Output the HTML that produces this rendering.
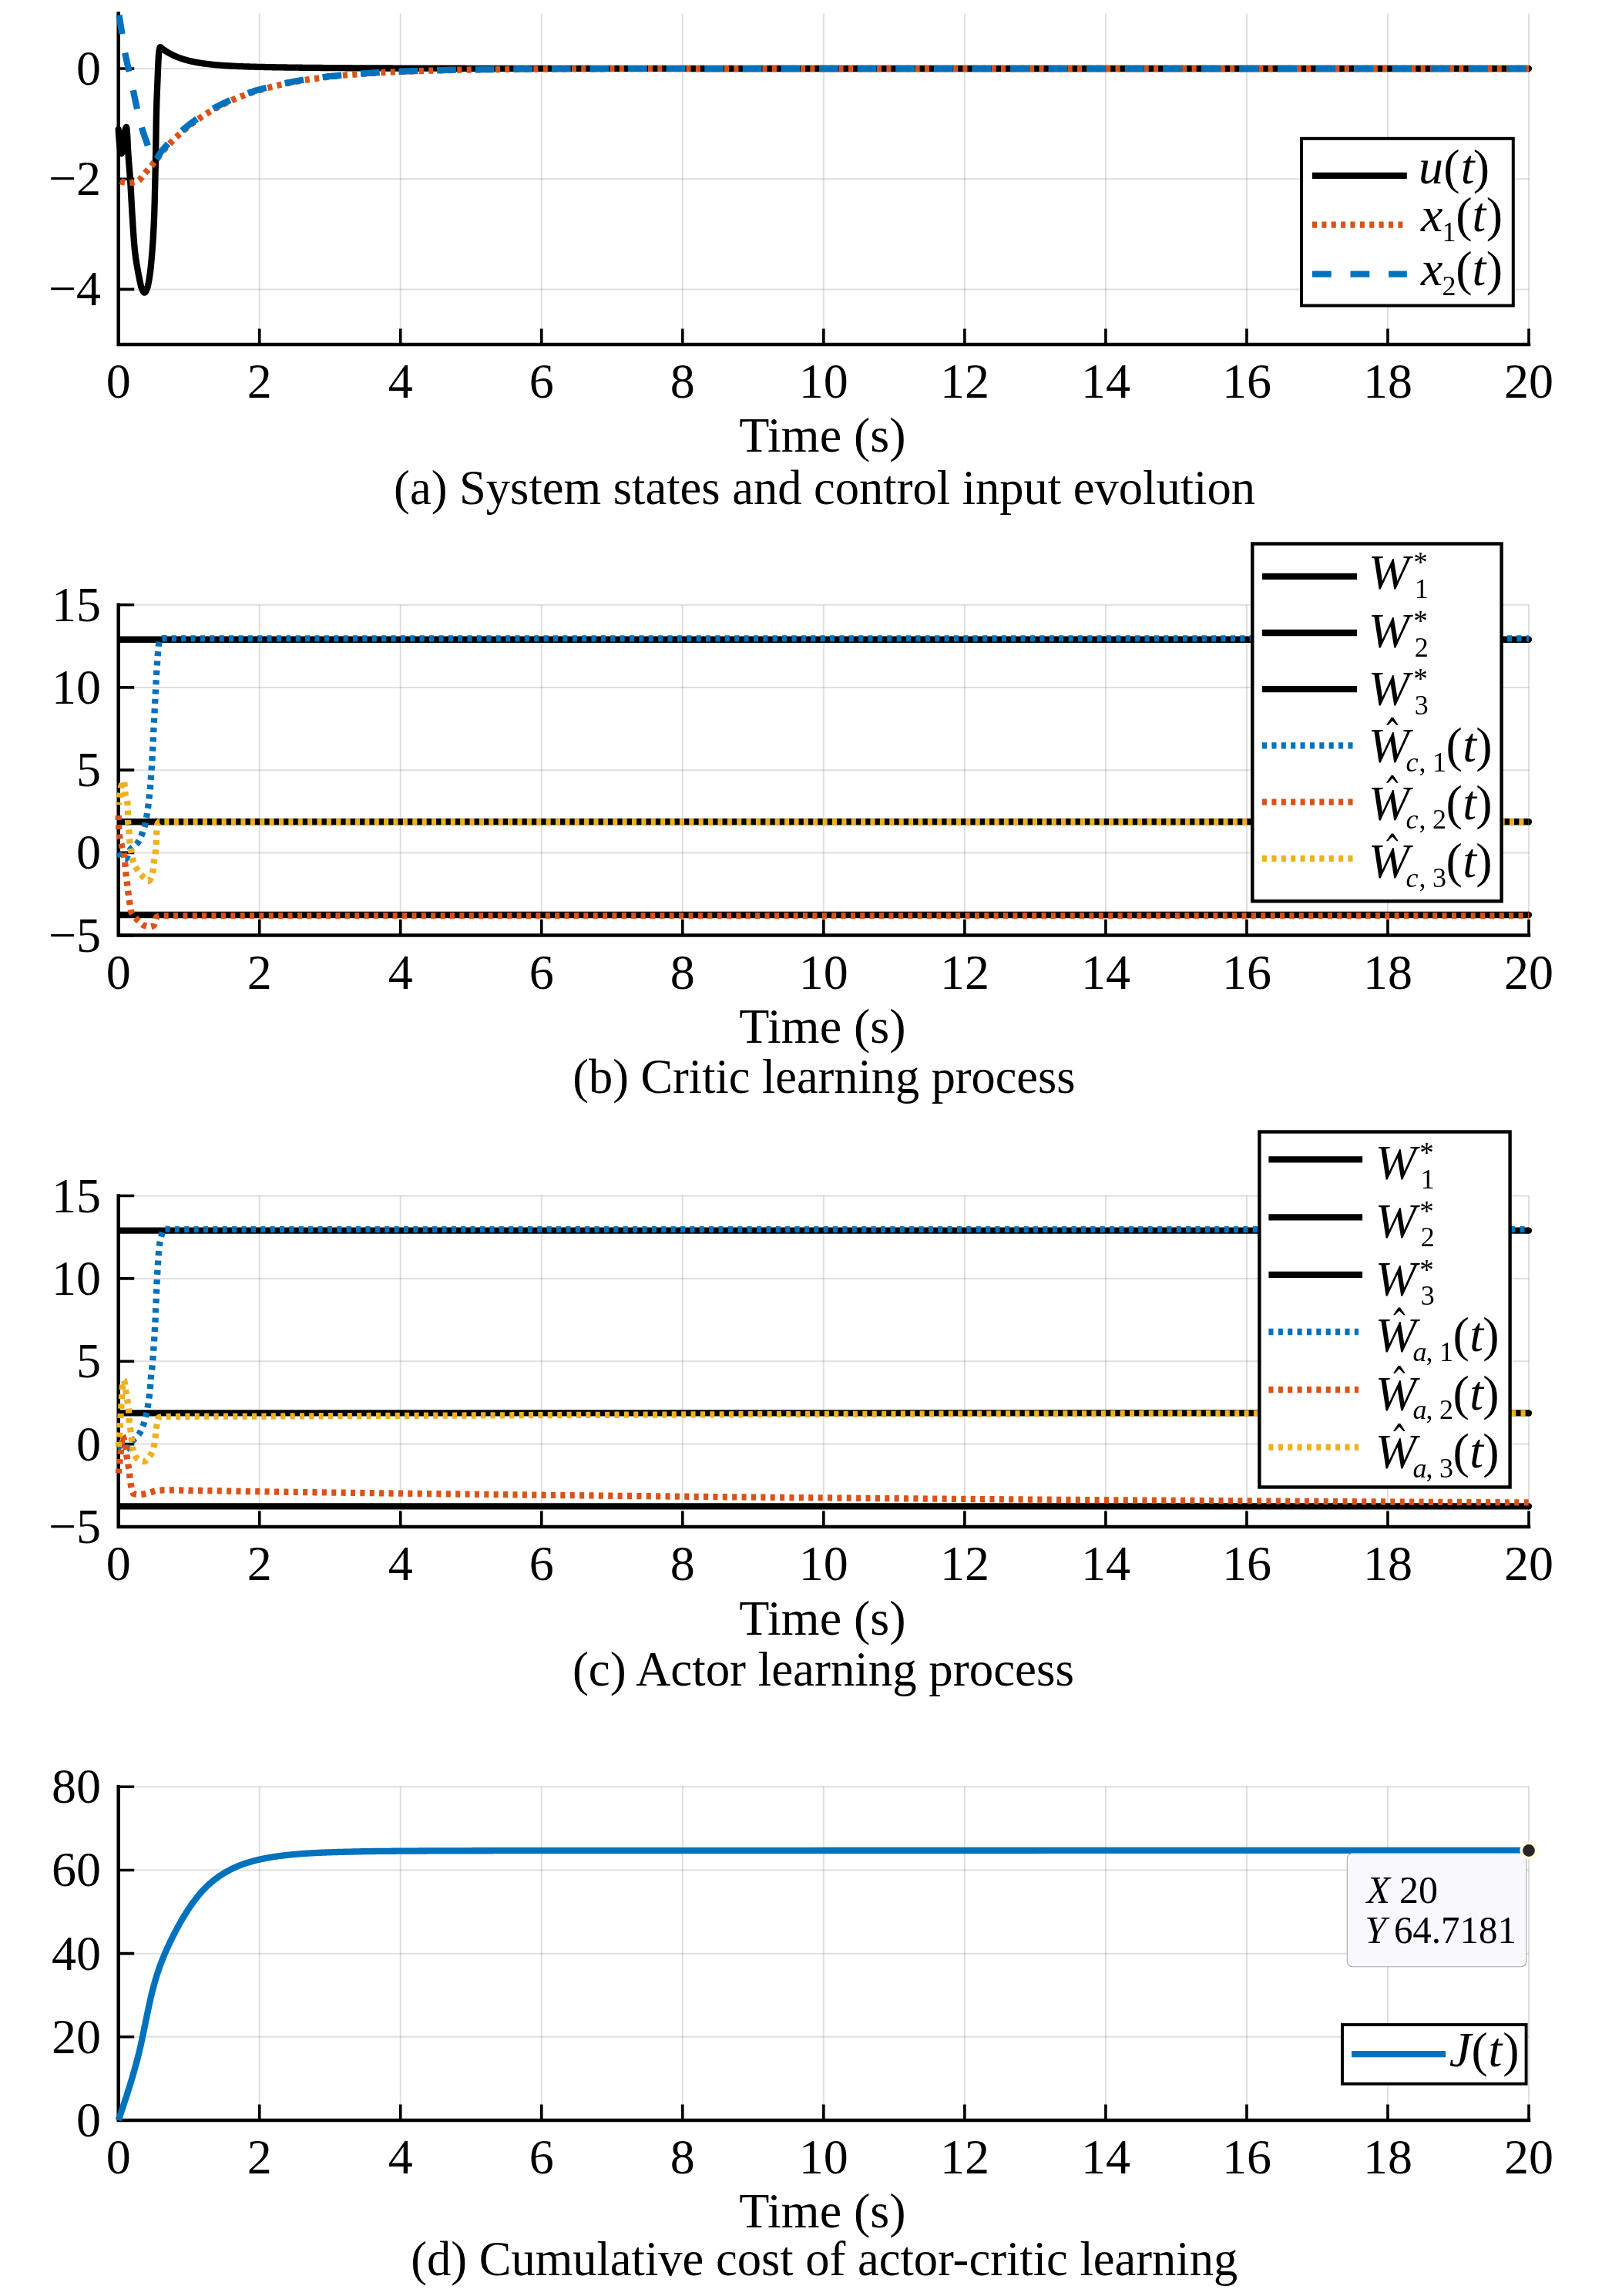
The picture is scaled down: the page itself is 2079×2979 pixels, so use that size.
<!DOCTYPE html>
<html><head><meta charset="utf-8"><style>html,body{margin:0;padding:0;background:#fff;overflow:hidden}svg{display:block;will-change:transform}</style></head>
<body><svg width="2079" height="2979" viewBox="0 0 2079 2979" font-family="'Liberation Serif', serif">
<rect width="2079" height="2979" fill="#fff"/>
<g stroke="#262626" stroke-opacity="0.15" stroke-width="2" fill="none"><line x1="153.7" y1="17.4" x2="153.7" y2="447"/><line x1="336.73" y1="17.4" x2="336.73" y2="447"/><line x1="519.76" y1="17.4" x2="519.76" y2="447"/><line x1="702.79" y1="17.4" x2="702.79" y2="447"/><line x1="885.82" y1="17.4" x2="885.82" y2="447"/><line x1="1068.85" y1="17.4" x2="1068.85" y2="447"/><line x1="1251.88" y1="17.4" x2="1251.88" y2="447"/><line x1="1434.91" y1="17.4" x2="1434.91" y2="447"/><line x1="1617.94" y1="17.4" x2="1617.94" y2="447"/><line x1="1800.97" y1="17.4" x2="1800.97" y2="447"/><line x1="1984" y1="17.4" x2="1984" y2="447"/><line x1="153.7" y1="375.4" x2="1984" y2="375.4"/><line x1="153.7" y1="232.2" x2="1984" y2="232.2"/><line x1="153.7" y1="89" x2="1984" y2="89"/></g>
<g stroke="#262626" stroke-opacity="0.15" stroke-width="2" fill="none"><line x1="153.7" y1="784.7" x2="153.7" y2="1213.6"/><line x1="336.73" y1="784.7" x2="336.73" y2="1213.6"/><line x1="519.76" y1="784.7" x2="519.76" y2="1213.6"/><line x1="702.79" y1="784.7" x2="702.79" y2="1213.6"/><line x1="885.82" y1="784.7" x2="885.82" y2="1213.6"/><line x1="1068.85" y1="784.7" x2="1068.85" y2="1213.6"/><line x1="1251.88" y1="784.7" x2="1251.88" y2="1213.6"/><line x1="1434.91" y1="784.7" x2="1434.91" y2="1213.6"/><line x1="1617.94" y1="784.7" x2="1617.94" y2="1213.6"/><line x1="1800.97" y1="784.7" x2="1800.97" y2="1213.6"/><line x1="1984" y1="784.7" x2="1984" y2="1213.6"/><line x1="153.7" y1="1213.6" x2="1984" y2="1213.6"/><line x1="153.7" y1="1106.38" x2="1984" y2="1106.38"/><line x1="153.7" y1="999.15" x2="1984" y2="999.15"/><line x1="153.7" y1="891.92" x2="1984" y2="891.92"/><line x1="153.7" y1="784.7" x2="1984" y2="784.7"/></g>
<g stroke="#262626" stroke-opacity="0.15" stroke-width="2" fill="none"><line x1="153.7" y1="1551.5" x2="153.7" y2="1981"/><line x1="336.73" y1="1551.5" x2="336.73" y2="1981"/><line x1="519.76" y1="1551.5" x2="519.76" y2="1981"/><line x1="702.79" y1="1551.5" x2="702.79" y2="1981"/><line x1="885.82" y1="1551.5" x2="885.82" y2="1981"/><line x1="1068.85" y1="1551.5" x2="1068.85" y2="1981"/><line x1="1251.88" y1="1551.5" x2="1251.88" y2="1981"/><line x1="1434.91" y1="1551.5" x2="1434.91" y2="1981"/><line x1="1617.94" y1="1551.5" x2="1617.94" y2="1981"/><line x1="1800.97" y1="1551.5" x2="1800.97" y2="1981"/><line x1="1984" y1="1551.5" x2="1984" y2="1981"/><line x1="153.7" y1="1981" x2="1984" y2="1981"/><line x1="153.7" y1="1873.62" x2="1984" y2="1873.62"/><line x1="153.7" y1="1766.25" x2="1984" y2="1766.25"/><line x1="153.7" y1="1658.88" x2="1984" y2="1658.88"/><line x1="153.7" y1="1551.5" x2="1984" y2="1551.5"/></g>
<g stroke="#262626" stroke-opacity="0.15" stroke-width="2" fill="none"><line x1="153.7" y1="2318.3" x2="153.7" y2="2751"/><line x1="336.73" y1="2318.3" x2="336.73" y2="2751"/><line x1="519.76" y1="2318.3" x2="519.76" y2="2751"/><line x1="702.79" y1="2318.3" x2="702.79" y2="2751"/><line x1="885.82" y1="2318.3" x2="885.82" y2="2751"/><line x1="1068.85" y1="2318.3" x2="1068.85" y2="2751"/><line x1="1251.88" y1="2318.3" x2="1251.88" y2="2751"/><line x1="1434.91" y1="2318.3" x2="1434.91" y2="2751"/><line x1="1617.94" y1="2318.3" x2="1617.94" y2="2751"/><line x1="1800.97" y1="2318.3" x2="1800.97" y2="2751"/><line x1="1984" y1="2318.3" x2="1984" y2="2751"/><line x1="153.7" y1="2751" x2="1984" y2="2751"/><line x1="153.7" y1="2642.82" x2="1984" y2="2642.82"/><line x1="153.7" y1="2534.65" x2="1984" y2="2534.65"/><line x1="153.7" y1="2426.48" x2="1984" y2="2426.48"/><line x1="153.7" y1="2318.3" x2="1984" y2="2318.3"/></g>
<path d="M153.7 17.4 L153.7 447 L1984 447" stroke="#000" stroke-width="4.5" fill="none" stroke-linecap="square" stroke-linejoin="miter"/><path d="M336.73 447 V426.5 M519.76 447 V426.5 M702.79 447 V426.5 M885.82 447 V426.5 M1068.85 447 V426.5 M1251.88 447 V426.5 M1434.91 447 V426.5 M1617.94 447 V426.5 M1800.97 447 V426.5 M1984 447 V426.5 M153.7 375.4 H174.2 M153.7 232.2 H174.2 M153.7 89 H174.2" stroke="#000" stroke-width="3.6" fill="none"/><g font-size="64" fill="#000"><text x="153.7" y="516" text-anchor="middle">0</text><text x="336.73" y="516" text-anchor="middle">2</text><text x="519.76" y="516" text-anchor="middle">4</text><text x="702.79" y="516" text-anchor="middle">6</text><text x="885.82" y="516" text-anchor="middle">8</text><text x="1068.85" y="516" text-anchor="middle">10</text><text x="1251.88" y="516" text-anchor="middle">12</text><text x="1434.91" y="516" text-anchor="middle">14</text><text x="1617.94" y="516" text-anchor="middle">16</text><text x="1800.97" y="516" text-anchor="middle">18</text><text x="1984" y="516" text-anchor="middle">20</text><text x="131" y="396.4" text-anchor="end">−4</text><text x="131" y="253.2" text-anchor="end">−2</text><text x="131" y="110" text-anchor="end">0</text><text x="1067.4" y="586.2" text-anchor="middle">Time (s)</text><text x="1070" y="653.5" text-anchor="middle" textLength="1117.8" lengthAdjust="spacingAndGlyphs">(a) System states and control input evolution</text></g>
<clipPath id="clipa"><rect x="0" y="15.5" width="2079" height="600"/></clipPath><g clip-path="url(#clipa)"><path d="M153.7 167.76 L153.88 170.74 L154.07 173.64 L154.25 176.43 L154.43 179.08 L154.62 181.57 L154.8 183.88 L154.98 185.97 L155.17 187.82 L155.35 189.4 L155.53 190.67 L155.53 190.69 L155.72 191.83 L155.9 192.94 L156.08 194.01 L156.27 195.03 L156.45 195.98 L156.63 196.83 L156.82 197.59 L157 198.22 L157.18 198.72 L157.37 199.07 L157.55 199.24 L157.64 199.26 L157.73 199.24 L157.92 199.06 L158.1 198.73 L158.28 198.26 L158.47 197.66 L158.65 196.95 L158.83 196.15 L159.02 195.26 L159.2 194.32 L159.38 193.33 L159.57 192.3 L159.75 191.26 L159.93 190.21 L160.11 189.24 L160.12 189.18 L160.3 187.99 L160.48 186.52 L160.67 184.84 L160.85 183.01 L161.03 181.07 L161.22 179.1 L161.4 177.14 L161.58 175.24 L161.77 173.48 L161.95 171.9 L162.13 170.56 L162.32 169.53 L162.39 169.19 L162.5 168.78 L162.68 168.07 L162.87 167.39 L163.05 166.76 L163.23 166.19 L163.42 165.71 L163.6 165.32 L163.78 165.05 L163.97 164.91 L164.04 164.9 L164.15 165.05 L164.33 165.92 L164.52 167.42 L164.7 169.38 L164.88 171.62 L165.07 173.99 L165.14 174.92 L165.25 176.56 L165.43 180.09 L165.62 184.21 L165.8 188.42 L165.98 192.26 L166.05 193.54 L166.17 195.41 L166.35 198.33 L166.53 201.1 L166.72 203.75 L166.9 206.28 L167.08 208.72 L167.27 211.09 L167.45 213.4 L167.63 215.68 L167.82 217.94 L168 220.2 L168.18 222.48 L168.37 224.8 L168.55 227.18 L168.73 229.63 L168.92 232.17 L169.1 234.83 L169.26 237.21 L169.28 237.62 L169.47 240.56 L169.65 243.66 L169.83 246.88 L170.02 250.19 L170.2 253.57 L170.38 257 L170.57 260.44 L170.75 263.87 L170.93 267.26 L171.12 270.59 L171.3 273.83 L171.48 276.95 L171.67 279.92 L171.73 280.89 L171.85 282.78 L172.03 285.63 L172.22 288.49 L172.4 291.34 L172.58 294.18 L172.77 296.99 L172.95 299.76 L173.13 302.49 L173.32 305.15 L173.5 307.75 L173.68 310.27 L173.87 312.71 L174.05 315.04 L174.23 317.27 L174.42 319.37 L174.6 321.35 L174.78 323.19 L174.93 324.56 L174.97 324.88 L175.15 326.49 L175.33 328.04 L175.52 329.55 L175.7 331.02 L175.88 332.44 L176.07 333.82 L176.25 335.16 L176.43 336.46 L176.62 337.72 L176.8 338.96 L176.98 340.16 L177.17 341.33 L177.35 342.47 L177.53 343.58 L177.72 344.67 L177.9 345.74 L178.08 346.79 L178.27 347.81 L178.45 348.83 L178.63 349.82 L178.82 350.81 L179 351.78 L179.18 352.74 L179.37 353.7 L179.55 354.65 L179.73 355.59 L179.92 356.54 L179.96 356.78 L180.1 357.48 L180.28 358.44 L180.47 359.39 L180.65 360.35 L180.83 361.3 L181.02 362.25 L181.2 363.19 L181.38 364.11 L181.57 365.03 L181.75 365.92 L181.93 366.79 L182.12 367.64 L182.3 368.46 L182.48 369.24 L182.67 370 L182.85 370.72 L183.03 371.4 L183.22 372.03 L183.4 372.62 L183.58 373.16 L183.77 373.65 L183.9 373.97 L183.95 374.08 L184.13 374.5 L184.32 374.92 L184.5 375.34 L184.68 375.75 L184.87 376.16 L185.05 376.55 L185.23 376.93 L185.42 377.3 L185.6 377.64 L185.78 377.97 L185.97 378.28 L186.15 378.57 L186.33 378.82 L186.52 379.05 L186.7 379.25 L186.88 379.41 L187.07 379.54 L187.25 379.63 L187.43 379.69 L187.56 379.7 L187.62 379.69 L187.8 379.66 L187.98 379.57 L188.17 379.45 L188.35 379.28 L188.53 379.08 L188.72 378.84 L188.9 378.56 L189.08 378.26 L189.27 377.93 L189.45 377.57 L189.63 377.19 L189.82 376.78 L190 376.36 L190.18 375.92 L190.37 375.47 L190.55 375.01 L190.73 374.54 L190.92 374.06 L191.1 373.57 L191.22 373.25 L191.28 373.08 L191.47 372.54 L191.65 371.93 L191.83 371.26 L192.02 370.53 L192.2 369.74 L192.38 368.9 L192.57 368 L192.75 367.06 L192.93 366.08 L193.12 365.05 L193.3 363.99 L193.48 362.88 L193.67 361.75 L193.85 360.59 L194.03 359.4 L194.22 358.18 L194.4 356.94 L194.42 356.78 L194.58 355.67 L194.77 354.32 L194.95 352.9 L195.13 351.4 L195.32 349.84 L195.5 348.2 L195.68 346.5 L195.87 344.73 L196.05 342.89 L196.23 340.99 L196.42 339.03 L196.6 337 L196.78 334.91 L196.97 332.77 L197.15 330.56 L197.33 328.3 L197.52 325.98 L197.63 324.56 L197.7 323.61 L197.88 321.17 L198.07 318.65 L198.25 316.03 L198.43 313.3 L198.62 310.45 L198.8 307.45 L198.98 304.3 L199.17 300.97 L199.35 297.46 L199.53 293.75 L199.72 289.82 L199.9 285.65 L200.08 281.24 L200.1 280.89 L200.27 276.26 L200.45 270.38 L200.63 263.8 L200.82 256.68 L201 249.21 L201.18 241.56 L201.29 237.21 L201.37 233.87 L201.55 225.93 L201.73 217.58 L201.92 208.7 L202.1 199.18 L202.2 193.54 L202.28 188.55 L202.47 175.23 L202.65 161.65 L202.83 150.99 L202.84 150.58 L203.02 143.59 L203.2 137.05 L203.38 131.22 L203.57 125.98 L203.75 121.18 L203.93 116.7 L204.12 112.4 L204.3 108.15 L204.4 105.83 L204.48 103.8 L204.67 99.3 L204.85 94.74 L205.03 90.21 L205.22 85.81 L205.4 81.63 L205.58 77.77 L205.77 74.34 L205.95 71.43 L206.13 69.13 L206.32 67.54 L206.32 67.52 L206.5 66.39 L206.68 65.3 L206.87 64.3 L207.05 63.39 L207.23 62.61 L207.42 61.97 L207.6 61.49 L207.78 61.18 L207.97 61.08 L207.97 61.08 L208.15 61.1 L208.33 61.16 L208.52 61.25 L208.7 61.37 L208.88 61.52 L209.07 61.69 L209.25 61.87 L209.43 62.05 L209.62 62.25 L209.8 62.44 L209.98 62.62 L210.17 62.8 L210.35 62.96 L210.44 63.03 L210.53 63.1 L210.72 63.23 L210.9 63.37 L211.08 63.51 L211.27 63.64 L211.45 63.78 L211.63 63.91 L211.82 64.05 L212 64.18 L212.18 64.31 L212.37 64.44 L212.55 64.57 L212.73 64.7 L212.92 64.83 L213.1 64.96 L213.28 65.09 L213.47 65.21 L213.65 65.34 L213.83 65.46 L214.02 65.58 L214.1 65.64 L214.2 65.71 L214.38 65.83 L214.57 65.95 L214.75 66.07 L214.93 66.19 L215.12 66.31 L215.3 66.43 L215.48 66.54 L215.67 66.66 L215.85 66.78 L216.03 66.89 L216.22 67.01 L216.4 67.13 L216.58 67.24 L216.77 67.35 L216.95 67.47 L217.13 67.58 L217.32 67.69 L217.5 67.8 L217.68 67.91 L217.87 68.02 L218.05 68.13 L218.23 68.24 L218.42 68.35 L218.6 68.45 L218.78 68.56 L218.97 68.67 L219.15 68.77 L219.33 68.87 L219.52 68.98 L219.59 69.02 L219.7 69.08 L219.88 69.18 L220.07 69.28 L220.25 69.38 L220.43 69.48 L220.62 69.58 L220.8 69.68 L220.98 69.78 L221.17 69.87 L221.35 69.97 L221.53 70.07 L221.72 70.17 L221.9 70.26 L222.08 70.36 L222.27 70.45 L222.45 70.55 L222.63 70.64 L222.82 70.74 L223 70.83 L223.18 70.92 L223.37 71.01 L223.55 71.1 L223.73 71.2 L223.92 71.29 L224.1 71.38 L224.28 71.47 L224.47 71.55 L224.65 71.64 L224.83 71.73 L225.02 71.82 L225.2 71.9 L225.38 71.99 L225.57 72.07 L225.75 72.16 L225.93 72.24 L226.12 72.33 L226.3 72.41 L226.48 72.49 L226.67 72.57 L226.85 72.65 L226.91 72.68 L227.03 72.73 L227.22 72.81 L227.4 72.89 L227.58 72.97 L227.77 73.05 L227.95 73.13 L228.13 73.2 L228.32 73.28 L228.5 73.36 L228.68 73.44 L228.87 73.51 L229.05 73.59 L229.23 73.66 L229.42 73.74 L229.6 73.81 L229.78 73.89 L229.97 73.96 L230.15 74.04 L230.33 74.11 L230.52 74.18 L230.7 74.25 L230.88 74.33 L231.07 74.4 L231.25 74.47 L231.43 74.54 L231.62 74.61 L231.8 74.68 L231.98 74.75 L232.17 74.82 L232.35 74.89 L232.53 74.96 L232.72 75.03 L232.9 75.09 L233.08 75.16 L233.27 75.23 L233.45 75.29 L233.63 75.36 L233.82 75.43 L234 75.49 L234.18 75.56 L234.37 75.62 L234.55 75.68 L234.73 75.75 L234.92 75.81 L235.1 75.87 L235.28 75.94 L235.47 76 L235.65 76.06 L235.83 76.12 L236.02 76.18 L236.06 76.2 L236.2 76.24 L236.38 76.3 L236.57 76.36 L236.75 76.42 L236.93 76.48 L237.12 76.54 L237.3 76.6 L237.48 76.66 L237.67 76.71 L237.85 76.77 L238.03 76.83 L238.22 76.89 L238.4 76.94 L238.58 77 L238.77 77.06 L238.95 77.11 L239.13 77.17 L239.32 77.22 L239.5 77.28 L239.68 77.33 L239.87 77.39 L240.05 77.44 L240.23 77.5 L240.42 77.55 L240.6 77.6 L240.78 77.66 L240.97 77.71 L241.15 77.76 L241.33 77.81 L241.52 77.86 L241.7 77.92 L241.88 77.97 L242.07 78.02 L242.25 78.07 L242.43 78.12 L242.62 78.17 L242.8 78.22 L242.98 78.27 L243.17 78.31 L243.35 78.36 L243.53 78.41 L243.72 78.46 L243.9 78.5 L244.08 78.55 L244.27 78.6 L244.45 78.64 L244.63 78.69 L244.82 78.73 L245 78.78 L245.18 78.82 L245.21 78.83 L245.37 78.87 L245.55 78.91 L245.73 78.95 L245.92 79 L246.1 79.04 L246.28 79.08 L246.47 79.13 L246.65 79.17 L246.83 79.21 L247.02 79.26 L247.2 79.3 L247.38 79.34 L247.57 79.38 L247.75 79.42 L247.93 79.47 L248.12 79.51 L248.3 79.55 L248.48 79.59 L248.67 79.63 L248.85 79.67 L249.03 79.71 L249.22 79.75 L249.4 79.79 L249.58 79.83 L249.77 79.87 L249.95 79.91 L250.13 79.95 L250.32 79.99 L250.5 80.03 L250.68 80.07 L250.87 80.11 L251.05 80.15 L251.23 80.18 L251.42 80.22 L251.6 80.26 L251.78 80.3 L251.97 80.34 L252.15 80.37 L252.33 80.41 L252.52 80.45 L252.7 80.48 L252.88 80.52 L253.07 80.56 L253.25 80.59 L253.43 80.63 L253.62 80.66 L253.8 80.7 L253.98 80.74 L254.17 80.77 L254.35 80.81 L254.53 80.84 L254.72 80.87 L254.9 80.91 L255.08 80.94 L255.27 80.98 L255.45 81.01 L255.63 81.04 L255.82 81.08 L256 81.11 L256.18 81.14 L256.37 81.18 L256.55 81.21 L256.73 81.24 L256.92 81.27 L257.1 81.31 L257.28 81.34 L257.47 81.37 L257.65 81.4 L257.83 81.43 L258.02 81.46 L258.2 81.49 L258.38 81.52 L258.57 81.55 L258.75 81.58 L258.93 81.61 L258.94 81.61 L259.12 81.64 L259.3 81.67 L259.48 81.7 L259.67 81.73 L259.85 81.76 L260.03 81.79 L260.22 81.82 L260.4 81.85 L260.58 81.87 L260.77 81.9 L260.95 81.93 L261.13 81.96 L261.32 81.99 L261.5 82.02 L261.68 82.04 L261.87 82.07 L262.05 82.1 L262.23 82.13 L262.42 82.15 L262.6 82.18 L262.78 82.21 L262.97 82.23 L263.15 82.26 L263.33 82.29 L263.52 82.31 L265.73 82.62 L267.93 82.91 L270.14 83.18 L272.35 83.43 L272.67 83.46 L274.55 83.66 L276.76 83.88 L278.97 84.09 L281.18 84.29 L283.38 84.47 L285.59 84.65 L287.8 84.82 L290.01 84.97 L290.97 85.03 L292.21 85.11 L294.42 85.25 L296.63 85.38 L298.84 85.5 L301.04 85.62 L303.25 85.73 L305.46 85.83 L307.67 85.94 L309.87 86.03 L312.08 86.12 L313.85 86.19 L314.29 86.21 L316.5 86.29 L318.7 86.37 L320.91 86.44 L323.12 86.51 L325.33 86.58 L327.53 86.65 L329.74 86.71 L331.95 86.77 L334.15 86.82 L336.36 86.87 L336.73 86.88 L338.57 86.92 L340.78 86.97 L342.98 87.02 L345.19 87.06 L347.4 87.11 L349.61 87.15 L351.81 87.19 L354.02 87.23 L356.23 87.27 L358.44 87.31 L360.64 87.35 L362.85 87.38 L365.06 87.42 L367.27 87.45 L369.47 87.48 L371.68 87.52 L373.89 87.55 L376.1 87.58 L378.3 87.6 L380.51 87.63 L382.49 87.66 L382.72 87.66 L384.92 87.69 L387.13 87.71 L389.34 87.74 L391.55 87.76 L393.75 87.79 L395.96 87.81 L398.17 87.83 L400.38 87.85 L402.58 87.87 L404.79 87.89 L407 87.92 L409.21 87.94 L411.41 87.95 L413.62 87.97 L415.83 87.99 L418.04 88.01 L420.24 88.03 L422.45 88.05 L424.66 88.06 L426.87 88.08 L428.24 88.09 L429.07 88.1 L431.28 88.11 L433.49 88.13 L435.69 88.14 L437.9 88.16 L440.11 88.17 L442.32 88.19 L444.52 88.2 L446.73 88.22 L448.94 88.23 L451.15 88.24 L453.35 88.26 L455.56 88.27 L457.77 88.28 L459.98 88.3 L462.18 88.31 L464.39 88.32 L466.6 88.33 L468.81 88.34 L471.01 88.35 L473.22 88.37 L474 88.37 L475.43 88.38 L477.64 88.39 L479.84 88.4 L482.05 88.41 L484.26 88.42 L486.47 88.43 L488.67 88.44 L490.88 88.45 L493.09 88.46 L495.29 88.47 L497.5 88.48 L499.71 88.49 L501.92 88.5 L504.12 88.5 L506.33 88.51 L508.54 88.52 L510.75 88.53 L512.95 88.54 L515.16 88.54 L517.37 88.55 L519.58 88.56 L519.76 88.56 L521.78 88.57 L523.99 88.57 L526.2 88.58 L528.41 88.59 L530.61 88.59 L532.82 88.6 L535.03 88.61 L537.24 88.61 L539.44 88.62 L541.65 88.63 L543.86 88.63 L546.06 88.64 L548.27 88.64 L550.48 88.65 L552.69 88.66 L554.89 88.66 L557.1 88.67 L559.31 88.67 L561.52 88.68 L563.72 88.69 L565.93 88.69 L568.14 88.7 L570.35 88.7 L572.55 88.71 L574.76 88.71 L576.97 88.72 L579.18 88.72 L581.38 88.73 L583.59 88.73 L585.8 88.74 L588.01 88.74 L590.21 88.75 L592.42 88.75 L594.63 88.76 L596.83 88.76 L599.04 88.76 L601.25 88.77 L603.46 88.77 L605.66 88.78 L607.87 88.78 L610.08 88.78 L611.27 88.78 L612.29 88.79 L614.49 88.79 L616.7 88.79 L618.91 88.8 L621.12 88.8 L623.32 88.8 L625.53 88.81 L627.74 88.81 L629.95 88.81 L632.15 88.82 L634.36 88.82 L636.57 88.82 L638.78 88.83 L640.98 88.83 L643.19 88.83 L645.4 88.84 L647.61 88.84 L649.81 88.84 L652.02 88.84 L654.23 88.85 L656.43 88.85 L658.64 88.85 L660.85 88.86 L663.06 88.86 L665.26 88.86 L667.47 88.86 L669.68 88.87 L671.89 88.87 L674.09 88.87 L676.3 88.87 L678.51 88.87 L680.72 88.88 L682.92 88.88 L685.13 88.88 L687.34 88.88 L689.55 88.88 L691.75 88.89 L693.96 88.89 L696.17 88.89 L698.38 88.89 L700.58 88.89 L702.79 88.89 L724.51 88.91 L746.22 88.92 L767.94 88.93 L789.65 88.94 L811.37 88.95 L833.08 88.96 L854.8 88.97 L876.51 88.97 L885.82 88.97 L898.23 88.98 L919.94 88.98 L941.66 88.98 L963.38 88.99 L985.09 88.99 L1006.81 88.99 L1028.52 88.99 L1050.24 88.99 L1068.85 88.99 L1071.95 88.99 L1093.67 88.99 L1115.38 89 L1137.1 89 L1158.81 89 L1180.53 89 L1202.24 89 L1223.96 89 L1245.68 89 L1267.39 89 L1289.11 89 L1310.82 89 L1332.54 89 L1354.25 89 L1375.97 89 L1397.68 89 L1419.4 89 L1434.91 89 L1441.11 89 L1462.83 89 L1484.55 89 L1506.26 89 L1527.98 89 L1549.69 89 L1571.41 89 L1593.12 89 L1614.84 89 L1636.55 89 L1658.27 89 L1679.98 89 L1701.7 89 L1723.41 89 L1745.13 89 L1766.85 89 L1788.56 89 L1810.28 89 L1831.99 89 L1853.71 89 L1875.42 89 L1897.14 89 L1918.85 89 L1940.57 89 L1962.28 89 L1984 89" stroke="#000" stroke-width="8.3" fill="none" stroke-linejoin="round" stroke-linecap="round"/><path d="M153.7 233.63 L153.88 233.73 L154.07 233.83 L154.25 233.93 L154.43 234.02 L154.62 234.12 L154.8 234.21 L154.98 234.3 L155.17 234.4 L155.35 234.49 L155.53 234.58 L155.72 234.67 L155.9 234.75 L156.08 234.84 L156.27 234.93 L156.45 235.01 L156.63 235.09 L156.82 235.17 L157 235.25 L157.18 235.33 L157.37 235.4 L157.55 235.48 L157.73 235.55 L157.92 235.62 L158.1 235.69 L158.28 235.76 L158.47 235.82 L158.65 235.88 L158.83 235.94 L159.02 236 L159.2 236.06 L159.38 236.11 L159.57 236.17 L159.75 236.22 L159.93 236.26 L160.12 236.31 L160.3 236.35 L160.48 236.39 L160.67 236.43 L160.85 236.47 L161.02 236.5 L161.03 236.5 L161.22 236.53 L161.4 236.56 L161.58 236.59 L161.77 236.62 L161.95 236.65 L162.13 236.68 L162.32 236.71 L162.5 236.74 L162.68 236.77 L162.87 236.8 L163.05 236.83 L163.23 236.86 L163.42 236.88 L163.6 236.91 L163.78 236.93 L163.97 236.96 L164.15 236.98 L164.33 237 L164.52 237.03 L164.7 237.05 L164.88 237.07 L165.07 237.09 L165.25 237.1 L165.43 237.12 L165.62 237.14 L165.8 237.15 L165.98 237.16 L166.17 237.17 L166.35 237.18 L166.53 237.19 L166.72 237.2 L166.9 237.21 L167.08 237.21 L167.27 237.21 L167.43 237.21 L167.45 237.21 L167.63 237.21 L167.82 237.21 L168 237.2 L168.18 237.2 L168.37 237.19 L168.55 237.18 L168.73 237.17 L168.92 237.15 L169.1 237.14 L169.28 237.12 L169.47 237.11 L169.65 237.09 L169.83 237.07 L170.02 237.04 L170.2 237.02 L170.38 236.99 L170.57 236.97 L170.75 236.94 L170.93 236.91 L171.12 236.88 L171.3 236.84 L171.48 236.81 L171.67 236.77 L171.85 236.74 L172.03 236.7 L172.22 236.66 L172.4 236.62 L172.58 236.58 L172.77 236.54 L172.95 236.49 L173.13 236.45 L173.32 236.4 L173.5 236.35 L173.68 236.3 L173.87 236.25 L174.05 236.2 L174.23 236.15 L174.42 236.1 L174.6 236.04 L174.78 235.99 L174.97 235.93 L175.15 235.87 L175.33 235.81 L175.52 235.75 L175.7 235.69 L175.88 235.63 L176.07 235.57 L176.25 235.51 L176.43 235.45 L176.62 235.38 L176.8 235.32 L176.98 235.25 L177.17 235.18 L177.35 235.12 L177.53 235.05 L177.72 234.98 L177.9 234.91 L178.08 234.84 L178.27 234.77 L178.45 234.7 L178.63 234.62 L178.82 234.55 L179 234.48 L179.18 234.4 L179.32 234.35 L179.37 234.33 L179.55 234.25 L179.73 234.16 L179.92 234.06 L180.1 233.95 L180.28 233.83 L180.47 233.7 L180.65 233.57 L180.83 233.42 L181.02 233.27 L181.2 233.12 L181.38 232.95 L181.57 232.78 L181.75 232.6 L181.93 232.42 L182.12 232.23 L182.3 232.03 L182.48 231.83 L182.67 231.63 L182.85 231.42 L183.03 231.2 L183.22 230.99 L183.4 230.76 L183.58 230.54 L183.77 230.31 L183.95 230.08 L184.13 229.85 L184.32 229.61 L184.5 229.37 L184.68 229.13 L184.87 228.89 L185.05 228.65 L185.23 228.41 L185.42 228.17 L185.6 227.92 L185.78 227.68 L185.97 227.44 L186.15 227.2 L186.33 226.96 L186.52 226.72 L186.7 226.48 L186.88 226.24 L187.07 226.01 L187.25 225.78 L187.43 225.55 L187.62 225.33 L187.8 225.11 L187.98 224.89 L188.17 224.67 L188.35 224.46 L188.48 224.32 L188.53 224.26 L188.72 224.06 L188.9 223.85 L189.08 223.65 L189.27 223.45 L189.45 223.24 L189.63 223.04 L189.82 222.84 L190 222.64 L190.18 222.44 L190.37 222.23 L190.55 222.03 L190.73 221.83 L190.92 221.63 L191.1 221.43 L191.28 221.23 L191.47 221.02 L191.65 220.82 L191.83 220.62 L192.02 220.42 L192.2 220.21 L192.38 220.01 L192.57 219.81 L192.75 219.6 L192.93 219.4 L193.12 219.19 L193.3 218.99 L193.48 218.78 L193.67 218.57 L193.85 218.37 L194.03 218.16 L194.22 217.95 L194.4 217.74 L194.58 217.53 L194.77 217.32 L194.95 217.11 L195.13 216.89 L195.32 216.68 L195.5 216.46 L195.68 216.25 L195.87 216.03 L196.05 215.81 L196.23 215.59 L196.42 215.37 L196.6 215.15 L196.71 215.02 L196.78 214.93 L196.97 214.7 L197.15 214.48 L197.33 214.25 L197.52 214.02 L197.7 213.79 L197.88 213.56 L198.07 213.32 L198.25 213.09 L198.43 212.85 L198.62 212.61 L198.8 212.37 L198.98 212.13 L199.17 211.89 L199.35 211.65 L199.53 211.41 L199.72 211.17 L199.9 210.92 L200.08 210.68 L200.27 210.44 L200.45 210.19 L200.63 209.95 L200.82 209.7 L201 209.46 L201.18 209.21 L201.37 208.97 L201.55 208.72 L201.73 208.48 L201.92 208.24 L202.1 207.99 L202.2 207.86 L202.28 207.75 L202.47 207.5 L202.65 207.26 L202.83 207.01 L203.02 206.76 L203.2 206.51 L203.38 206.26 L203.57 206.01 L203.75 205.75 L203.93 205.5 L204.12 205.25 L204.3 204.99 L204.48 204.74 L204.67 204.49 L204.85 204.23 L205.03 203.98 L205.22 203.73 L205.4 203.48 L205.58 203.23 L205.77 202.98 L205.95 202.73 L206.13 202.48 L206.32 202.24 L206.5 202 L206.68 201.75 L206.87 201.52 L207.05 201.28 L207.23 201.04 L207.42 200.81 L207.51 200.7 L207.6 200.58 L207.78 200.36 L207.97 200.13 L208.15 199.91 L208.33 199.68 L208.52 199.46 L208.7 199.24 L208.88 199.02 L209.07 198.8 L209.25 198.59 L209.43 198.37 L209.62 198.16 L209.8 197.94 L209.98 197.73 L210.17 197.52 L210.35 197.31 L210.53 197.1 L210.72 196.89 L210.9 196.68 L211.08 196.47 L211.27 196.26 L211.45 196.06 L211.63 195.85 L211.82 195.64 L212 195.44 L212.18 195.23 L212.37 195.03 L212.55 194.82 L212.73 194.62 L212.92 194.41 L213.1 194.21 L213.18 194.11 L213.28 194 L213.47 193.8 L213.65 193.59 L213.83 193.39 L214.02 193.18 L214.2 192.98 L214.38 192.78 L214.57 192.57 L214.75 192.37 L214.93 192.17 L215.12 191.97 L215.3 191.77 L215.48 191.56 L215.67 191.36 L215.85 191.16 L216.03 190.96 L216.22 190.76 L216.4 190.56 L216.58 190.36 L216.77 190.16 L216.95 189.97 L217.13 189.77 L217.32 189.57 L217.5 189.37 L217.68 189.17 L217.87 188.98 L218.05 188.78 L218.23 188.59 L218.42 188.39 L218.6 188.19 L218.78 188 L218.97 187.8 L219.15 187.61 L219.33 187.42 L219.52 187.22 L219.7 187.03 L219.88 186.84 L220.07 186.64 L220.25 186.45 L220.43 186.26 L220.62 186.07 L220.8 185.88 L220.98 185.69 L221.17 185.5 L221.35 185.31 L221.53 185.12 L221.72 184.93 L221.9 184.74 L222.08 184.56 L222.27 184.37 L222.34 184.3 L222.45 184.18 L222.63 184 L222.82 183.81 L223 183.62 L223.18 183.44 L223.37 183.25 L223.55 183.07 L223.73 182.88 L223.92 182.7 L224.1 182.51 L224.28 182.33 L224.47 182.15 L224.65 181.96 L224.83 181.78 L225.02 181.6 L225.2 181.42 L225.38 181.23 L225.57 181.05 L225.75 180.87 L225.93 180.69 L226.12 180.51 L226.3 180.33 L226.48 180.15 L226.67 179.97 L226.85 179.79 L227.03 179.61 L227.22 179.44 L227.4 179.26 L227.58 179.08 L227.77 178.9 L227.95 178.73 L228.13 178.55 L228.32 178.38 L228.5 178.2 L228.68 178.02 L228.87 177.85 L229.05 177.68 L229.23 177.5 L229.42 177.33 L229.6 177.16 L229.78 176.98 L229.97 176.81 L230.15 176.64 L230.33 176.47 L230.52 176.3 L230.7 176.13 L230.88 175.96 L231.07 175.79 L231.25 175.62 L231.43 175.45 L231.49 175.4 L231.62 175.28 L231.8 175.12 L231.98 174.95 L232.17 174.78 L232.35 174.61 L232.53 174.45 L232.72 174.28 L232.9 174.11 L233.08 173.95 L233.27 173.78 L233.45 173.62 L233.63 173.45 L233.82 173.28 L234 173.12 L234.18 172.95 L234.37 172.79 L234.55 172.63 L234.73 172.46 L234.92 172.3 L235.1 172.13 L235.28 171.97 L235.47 171.81 L235.65 171.65 L235.83 171.48 L236.02 171.32 L236.2 171.16 L236.38 171 L236.57 170.84 L236.75 170.67 L236.93 170.51 L237.12 170.35 L237.3 170.19 L237.48 170.03 L237.67 169.87 L237.85 169.71 L238.03 169.55 L238.22 169.4 L238.4 169.24 L238.58 169.08 L238.77 168.92 L238.95 168.76 L239.13 168.61 L239.32 168.45 L239.5 168.29 L239.68 168.14 L239.87 167.98 L240.05 167.83 L240.23 167.67 L240.42 167.52 L240.6 167.36 L240.78 167.21 L240.97 167.05 L241.15 166.9 L241.33 166.75 L241.52 166.59 L241.7 166.44 L241.88 166.29 L242.07 166.14 L242.25 165.99 L242.43 165.83 L242.62 165.68 L242.8 165.53 L242.98 165.38 L243.17 165.23 L243.35 165.09 L243.53 164.94 L243.72 164.79 L243.9 164.64 L244.08 164.49 L244.27 164.35 L244.45 164.2 L244.63 164.05 L244.82 163.91 L245 163.76 L245.18 163.62 L245.21 163.59 L245.37 163.47 L245.55 163.33 L245.73 163.18 L245.92 163.04 L246.1 162.89 L246.28 162.75 L246.47 162.61 L246.65 162.46 L246.83 162.32 L247.02 162.18 L247.2 162.03 L247.38 161.89 L247.57 161.75 L247.75 161.61 L247.93 161.47 L248.12 161.32 L248.3 161.18 L248.48 161.04 L248.67 160.9 L248.85 160.76 L249.03 160.62 L249.22 160.48 L249.4 160.34 L249.58 160.2 L249.77 160.06 L249.95 159.92 L250.13 159.78 L250.32 159.64 L250.5 159.51 L250.68 159.37 L250.87 159.23 L251.05 159.09 L251.23 158.95 L251.42 158.82 L251.6 158.68 L251.78 158.54 L251.97 158.41 L252.15 158.27 L252.33 158.13 L252.52 158 L252.7 157.86 L252.88 157.73 L253.07 157.59 L253.25 157.46 L253.43 157.32 L253.62 157.19 L253.8 157.05 L253.98 156.92 L254.17 156.79 L254.35 156.65 L254.53 156.52 L254.72 156.39 L254.9 156.25 L255.08 156.12 L255.27 155.99 L255.45 155.86 L255.63 155.73 L255.82 155.6 L256 155.46 L256.18 155.33 L256.37 155.2 L256.55 155.07 L256.73 154.94 L256.92 154.81 L257.1 154.68 L257.28 154.55 L257.47 154.42 L257.65 154.3 L257.83 154.17 L258.02 154.04 L258.2 153.91 L258.38 153.78 L258.57 153.66 L258.75 153.53 L258.93 153.4 L259.12 153.27 L259.3 153.15 L259.48 153.02 L259.67 152.9 L259.85 152.77 L260.03 152.64 L260.22 152.52 L260.4 152.39 L260.58 152.27 L260.77 152.15 L260.95 152.02 L261.13 151.9 L261.32 151.77 L261.5 151.65 L261.68 151.53 L261.87 151.41 L262.05 151.28 L262.23 151.16 L262.42 151.04 L262.6 150.92 L262.78 150.8 L262.97 150.68 L263.15 150.56 L263.33 150.43 L263.52 150.31 L265.73 148.88 L267.93 147.48 L270.14 146.11 L272.35 144.76 L274.55 143.45 L276.76 142.18 L278.97 140.94 L281.18 139.74 L281.82 139.4 L283.38 138.58 L285.59 137.44 L287.8 136.31 L290.01 135.21 L292.21 134.13 L294.42 133.07 L296.63 132.03 L298.84 131.02 L301.04 130.03 L303.25 129.07 L305.46 128.13 L307.67 127.21 L309.28 126.56 L309.87 126.32 L312.08 125.46 L314.29 124.6 L316.5 123.77 L318.7 122.95 L320.91 122.15 L323.12 121.37 L325.33 120.61 L327.53 119.87 L329.74 119.14 L331.95 118.44 L334.15 117.76 L336.36 117.1 L336.73 116.99 L338.57 116.46 L340.78 115.83 L342.98 115.21 L345.19 114.6 L347.4 114.01 L349.61 113.42 L351.81 112.85 L354.02 112.29 L356.23 111.74 L358.44 111.2 L360.64 110.68 L362.85 110.17 L365.06 109.67 L367.27 109.18 L369.47 108.71 L371.68 108.25 L373.34 107.92 L373.89 107.81 L376.1 107.37 L378.3 106.94 L380.51 106.52 L382.72 106.11 L384.92 105.71 L387.13 105.32 L389.34 104.93 L391.55 104.56 L393.75 104.19 L395.96 103.83 L398.17 103.48 L400.38 103.14 L402.58 102.81 L404.79 102.49 L407 102.18 L409.21 101.88 L409.94 101.78 L411.41 101.59 L413.62 101.3 L415.83 101.02 L418.04 100.74 L420.24 100.46 L422.45 100.19 L424.66 99.93 L426.87 99.67 L429.07 99.42 L431.28 99.17 L433.49 98.93 L435.69 98.69 L437.9 98.46 L440.11 98.23 L442.32 98.02 L444.52 97.8 L446.73 97.6 L448.94 97.4 L451.15 97.21 L453.35 97.02 L455.56 96.84 L455.7 96.83 L457.77 96.67 L459.98 96.5 L462.18 96.33 L464.39 96.16 L466.6 96 L468.81 95.84 L471.01 95.68 L473.22 95.52 L475.43 95.37 L477.64 95.21 L479.84 95.07 L482.05 94.92 L484.26 94.78 L486.47 94.64 L488.67 94.5 L490.88 94.37 L493.09 94.24 L495.29 94.11 L497.5 93.99 L499.71 93.87 L501.92 93.75 L504.12 93.64 L506.33 93.53 L508.54 93.42 L510.75 93.32 L512.95 93.22 L515.16 93.13 L517.37 93.04 L519.58 92.95 L519.76 92.94 L521.78 92.87 L523.99 92.78 L526.2 92.7 L528.41 92.62 L530.61 92.54 L532.82 92.46 L535.03 92.39 L537.24 92.31 L539.44 92.24 L541.65 92.16 L543.86 92.09 L546.06 92.02 L548.27 91.95 L550.48 91.88 L552.69 91.81 L554.89 91.75 L557.1 91.68 L559.31 91.62 L561.52 91.55 L563.72 91.49 L565.93 91.43 L568.14 91.37 L570.35 91.32 L572.55 91.26 L574.76 91.2 L576.97 91.15 L579.18 91.1 L581.38 91.04 L583.59 90.99 L585.8 90.95 L588.01 90.9 L590.21 90.85 L592.42 90.81 L594.63 90.76 L596.83 90.72 L599.04 90.68 L601.25 90.64 L603.46 90.6 L605.66 90.57 L607.87 90.53 L610.08 90.5 L611.27 90.48 L612.29 90.47 L614.49 90.43 L616.7 90.4 L618.91 90.37 L621.12 90.34 L623.32 90.31 L625.53 90.28 L627.74 90.25 L629.95 90.22 L632.15 90.19 L634.36 90.16 L636.57 90.14 L638.78 90.11 L640.98 90.08 L643.19 90.05 L645.4 90.03 L647.61 90 L649.81 89.98 L652.02 89.95 L654.23 89.93 L656.43 89.91 L658.64 89.88 L660.85 89.86 L663.06 89.84 L665.26 89.82 L667.47 89.8 L669.68 89.78 L671.89 89.76 L674.09 89.74 L676.3 89.72 L678.51 89.7 L680.72 89.69 L682.92 89.67 L685.13 89.66 L687.34 89.64 L689.55 89.63 L691.75 89.61 L693.96 89.6 L696.17 89.59 L698.38 89.58 L700.58 89.57 L702.79 89.56 L724.51 89.46 L746.22 89.38 L767.94 89.31 L789.65 89.24 L811.37 89.19 L833.08 89.14 L854.8 89.11 L876.51 89.09 L885.82 89.08 L898.23 89.07 L919.94 89.06 L941.66 89.05 L963.38 89.04 L985.09 89.03 L1006.81 89.02 L1028.52 89.02 L1050.24 89.01 L1068.85 89.01 L1071.95 89.01 L1093.67 89.01 L1115.38 89.01 L1137.1 89.01 L1158.81 89.01 L1180.53 89.01 L1202.24 89 L1223.96 89 L1245.68 89 L1267.39 89 L1289.11 89 L1310.82 89 L1332.54 89 L1354.25 89 L1375.97 89 L1397.68 89 L1419.4 89 L1434.91 89 L1441.11 89 L1462.83 89 L1484.55 89 L1506.26 89 L1527.98 89 L1549.69 89 L1571.41 89 L1593.12 89 L1614.84 89 L1636.55 89 L1658.27 89 L1679.98 89 L1701.7 89 L1723.41 89 L1745.13 89 L1766.85 89 L1788.56 89 L1810.28 89 L1831.99 89 L1853.71 89 L1875.42 89 L1897.14 89 L1918.85 89 L1940.57 89 L1962.28 89 L1984 89" stroke="#D95319" stroke-width="8.3" fill="none" stroke-linejoin="round" stroke-dasharray="6.1 6.28" stroke-linecap="butt" stroke-dashoffset="9.49"/><path d="M152.78 10.24 L153.7 15.25 L153.88 16.3 L154.07 17.35 L154.25 18.41 L154.43 19.48 L154.62 20.55 L154.8 21.63 L154.98 22.71 L155.17 23.8 L155.35 24.9 L155.53 26 L155.72 27.11 L155.9 28.22 L156.08 29.34 L156.27 30.46 L156.45 31.58 L156.63 32.71 L156.82 33.85 L157 34.98 L157.18 36.12 L157.37 37.27 L157.55 38.41 L157.73 39.56 L157.91 40.67 L157.92 40.71 L158.1 41.88 L158.28 43.07 L158.47 44.28 L158.65 45.51 L158.83 46.75 L159.02 48.01 L159.2 49.27 L159.38 50.53 L159.57 51.8 L159.75 53.07 L159.93 54.33 L160.12 55.59 L160.3 56.83 L160.48 58.06 L160.67 59.27 L160.85 60.46 L161.03 61.63 L161.22 62.78 L161.4 63.89 L161.58 64.97 L161.77 66.01 L161.84 66.45 L161.95 67.02 L162.13 68.01 L162.32 68.98 L162.5 69.92 L162.68 70.86 L162.87 71.77 L163.05 72.67 L163.23 73.56 L163.42 74.44 L163.6 75.3 L163.78 76.15 L163.97 77 L164.15 77.83 L164.33 78.66 L164.52 79.48 L164.7 80.3 L164.88 81.12 L165.07 81.93 L165.25 82.73 L165.43 83.54 L165.62 84.35 L165.8 85.16 L165.98 85.97 L166.17 86.79 L166.35 87.61 L166.53 88.44 L166.72 89.27 L166.9 90.11 L166.97 90.43 L167.08 90.96 L167.27 91.81 L167.45 92.65 L167.63 93.5 L167.82 94.34 L168 95.18 L168.18 96.02 L168.37 96.86 L168.55 97.7 L168.73 98.54 L168.92 99.38 L169.1 100.22 L169.28 101.06 L169.47 101.89 L169.65 102.73 L169.83 103.57 L170.02 104.4 L170.2 105.24 L170.38 106.08 L170.57 106.92 L170.75 107.75 L170.93 108.59 L171.12 109.43 L171.3 110.27 L171.48 111.12 L171.67 111.96 L171.85 112.8 L172.03 113.65 L172.22 114.5 L172.28 114.78 L172.4 115.34 L172.58 116.2 L172.77 117.05 L172.95 117.91 L173.13 118.78 L173.32 119.64 L173.5 120.51 L173.68 121.38 L173.87 122.25 L174.05 123.12 L174.23 124 L174.42 124.87 L174.6 125.74 L174.78 126.61 L174.97 127.48 L175.15 128.35 L175.33 129.21 L175.52 130.08 L175.7 130.94 L175.88 131.8 L176.07 132.65 L176.25 133.5 L176.43 134.34 L176.62 135.18 L176.8 136.02 L176.98 136.85 L177.17 137.67 L177.35 138.49 L177.49 139.12 L177.53 139.29 L177.72 140.1 L177.9 140.91 L178.08 141.72 L178.27 142.53 L178.45 143.34 L178.63 144.15 L178.82 144.96 L179 145.77 L179.18 146.58 L179.37 147.38 L179.55 148.18 L179.73 148.98 L179.92 149.77 L180.1 150.56 L180.28 151.35 L180.47 152.13 L180.65 152.91 L180.83 153.68 L181.02 154.44 L181.2 155.2 L181.38 155.95 L181.57 156.7 L181.75 157.43 L181.93 158.16 L182.12 158.88 L182.3 159.59 L182.48 160.29 L182.67 160.98 L182.85 161.66 L183.03 162.33 L183.22 162.99 L183.35 163.46 L183.4 163.64 L183.58 164.28 L183.77 164.9 L183.95 165.53 L184.13 166.14 L184.32 166.75 L184.5 167.35 L184.68 167.94 L184.87 168.53 L185.05 169.11 L185.23 169.68 L185.42 170.25 L185.6 170.81 L185.78 171.37 L185.97 171.92 L186.15 172.47 L186.33 173.02 L186.52 173.56 L186.7 174.1 L186.88 174.63 L187.07 175.17 L187.25 175.69 L187.43 176.22 L187.62 176.75 L187.8 177.27 L187.98 177.79 L188.17 178.31 L188.35 178.83 L188.53 179.35 L188.72 179.87 L188.9 180.39 L189.08 180.91 L189.27 181.43 L189.45 181.95 L189.63 182.47 L189.82 183 L190 183.52 L190.18 184.05 L190.37 184.58 L190.55 185.11 L190.73 185.65 L190.92 186.19 L191.1 186.73 L191.22 187.09 L191.28 187.28 L191.47 187.84 L191.65 188.4 L191.83 188.97 L192.02 189.55 L192.2 190.13 L192.38 190.71 L192.57 191.3 L192.75 191.89 L192.93 192.48 L193.12 193.06 L193.3 193.65 L193.48 194.23 L193.67 194.8 L193.85 195.37 L194.03 195.93 L194.22 196.48 L194.4 197.02 L194.58 197.55 L194.77 198.07 L194.95 198.58 L195.13 199.07 L195.32 199.54 L195.5 200 L195.68 200.44 L195.8 200.7 L195.87 200.86 L196.05 201.29 L196.23 201.73 L196.42 202.19 L196.6 202.65 L196.78 203.11 L196.97 203.57 L197.15 204.02 L197.33 204.46 L197.52 204.89 L197.7 205.3 L197.88 205.68 L198.07 206.04 L198.25 206.37 L198.43 206.67 L198.62 206.92 L198.8 207.14 L198.98 207.31 L199.17 207.42 L199.35 207.49 L199.46 207.5 L199.53 207.5 L199.72 207.5 L199.9 207.5 L200.08 207.5 L200.27 207.5 L200.45 207.5 L200.63 207.5 L200.82 207.5 L201 207.5 L201.18 207.5 L201.37 207.5 L201.55 207.5 L201.73 207.5 L201.92 207.5 L202.1 207.5 L202.2 207.5 L202.28 207.49 L202.47 207.45 L202.65 207.36 L202.83 207.23 L203.02 207.07 L203.2 206.87 L203.38 206.65 L203.57 206.4 L203.75 206.14 L203.93 205.86 L204.12 205.58 L204.3 205.29 L204.48 204.99 L204.67 204.7 L204.85 204.42 L204.95 204.28 L205.03 204.15 L205.22 203.85 L205.4 203.52 L205.58 203.16 L205.77 202.79 L205.95 202.41 L206.13 202.01 L206.32 201.62 L206.5 201.22 L206.68 200.83 L206.87 200.45 L207.05 200.08 L207.23 199.74 L207.42 199.42 L207.51 199.26 L207.6 199.12 L207.78 198.84 L207.97 198.56 L208.15 198.28 L208.33 198.02 L208.52 197.75 L208.7 197.49 L208.88 197.24 L209.07 196.99 L209.25 196.75 L209.43 196.5 L209.62 196.27 L209.8 196.03 L209.98 195.8 L210.17 195.57 L210.35 195.35 L210.53 195.12 L210.72 194.9 L210.9 194.68 L211.08 194.47 L211.27 194.25 L211.45 194.04 L211.63 193.82 L211.82 193.61 L212 193.4 L212.18 193.19 L212.37 192.98 L212.55 192.77 L212.73 192.56 L212.92 192.34 L213.1 192.13 L213.18 192.03 L213.28 191.92 L213.47 191.71 L213.65 191.5 L213.83 191.29 L214.02 191.08 L214.2 190.87 L214.38 190.66 L214.57 190.46 L214.75 190.25 L214.93 190.05 L215.12 189.84 L215.3 189.64 L215.48 189.44 L215.67 189.24 L215.85 189.04 L216.03 188.84 L216.22 188.65 L216.4 188.45 L216.58 188.25 L216.77 188.06 L216.95 187.86 L217.13 187.67 L217.32 187.48 L217.5 187.28 L217.68 187.09 L217.87 186.9 L218.05 186.71 L218.23 186.52 L218.42 186.33 L218.6 186.14 L218.78 185.95 L218.97 185.76 L219.15 185.58 L219.33 185.39 L219.52 185.2 L219.7 185.02 L219.88 184.83 L220.07 184.64 L220.25 184.46 L220.43 184.27 L220.62 184.09 L220.8 183.9 L220.98 183.72 L221.17 183.53 L221.35 183.35 L221.53 183.16 L221.72 182.98 L221.9 182.79 L222.08 182.61 L222.27 182.42 L222.34 182.36 L222.45 182.24 L222.63 182.06 L222.82 181.87 L223 181.69 L223.18 181.51 L223.37 181.32 L223.55 181.14 L223.73 180.96 L223.92 180.78 L224.1 180.6 L224.28 180.41 L224.47 180.23 L224.65 180.05 L224.83 179.87 L225.02 179.69 L225.2 179.51 L225.38 179.33 L225.57 179.15 L225.75 178.98 L225.93 178.8 L226.12 178.62 L226.3 178.44 L226.48 178.27 L226.67 178.09 L226.85 177.91 L227.03 177.74 L227.22 177.56 L227.4 177.39 L227.58 177.21 L227.77 177.04 L227.95 176.86 L228.13 176.69 L228.32 176.51 L228.5 176.34 L228.68 176.17 L228.87 176 L229.05 175.83 L229.23 175.65 L229.42 175.48 L229.6 175.31 L229.78 175.14 L229.97 174.97 L230.15 174.8 L230.33 174.64 L230.52 174.47 L230.7 174.3 L230.88 174.13 L231.07 173.97 L231.25 173.8 L231.43 173.63 L231.49 173.58 L231.62 173.47 L231.8 173.3 L231.98 173.14 L232.17 172.97 L232.35 172.81 L232.53 172.64 L232.72 172.48 L232.9 172.31 L233.08 172.15 L233.27 171.99 L233.45 171.82 L233.63 171.66 L233.82 171.5 L234 171.33 L234.18 171.17 L234.37 171.01 L234.55 170.85 L234.73 170.69 L234.92 170.52 L235.1 170.36 L235.28 170.2 L235.47 170.04 L235.65 169.88 L235.83 169.72 L236.02 169.56 L236.2 169.4 L236.38 169.24 L236.57 169.08 L236.75 168.92 L236.93 168.77 L237.12 168.61 L237.3 168.45 L237.48 168.29 L237.67 168.13 L237.85 167.98 L238.03 167.82 L238.22 167.66 L238.4 167.51 L238.58 167.35 L238.77 167.2 L238.95 167.04 L239.13 166.89 L239.32 166.73 L239.5 166.58 L239.68 166.42 L239.87 166.27 L240.05 166.12 L240.23 165.96 L240.42 165.81 L240.6 165.66 L240.78 165.51 L240.97 165.36 L241.15 165.2 L241.33 165.05 L241.52 164.9 L241.7 164.75 L241.88 164.6 L242.07 164.45 L242.25 164.3 L242.43 164.16 L242.62 164.01 L242.8 163.86 L242.98 163.71 L243.17 163.56 L243.35 163.42 L243.53 163.27 L243.72 163.12 L243.9 162.98 L244.08 162.83 L244.27 162.69 L244.45 162.54 L244.63 162.4 L244.82 162.26 L245 162.11 L245.18 161.97 L245.21 161.95 L245.37 161.83 L245.55 161.68 L245.73 161.54 L245.92 161.4 L246.1 161.26 L246.28 161.12 L246.47 160.98 L246.65 160.83 L246.83 160.69 L247.02 160.55 L247.2 160.41 L247.38 160.27 L247.57 160.13 L247.75 159.99 L247.93 159.85 L248.12 159.71 L248.3 159.57 L248.48 159.44 L248.67 159.3 L248.85 159.16 L249.03 159.02 L249.22 158.88 L249.4 158.74 L249.58 158.61 L249.77 158.47 L249.95 158.33 L250.13 158.2 L250.32 158.06 L250.5 157.92 L250.68 157.79 L250.87 157.65 L251.05 157.51 L251.23 157.38 L251.42 157.24 L251.6 157.11 L251.78 156.97 L251.97 156.84 L252.15 156.71 L252.33 156.57 L252.52 156.44 L252.7 156.3 L252.88 156.17 L253.07 156.04 L253.25 155.91 L253.43 155.77 L253.62 155.64 L253.8 155.51 L253.98 155.38 L254.17 155.25 L254.35 155.11 L254.53 154.98 L254.72 154.85 L254.9 154.72 L255.08 154.59 L255.27 154.46 L255.45 154.33 L255.63 154.2 L255.82 154.07 L256 153.94 L256.18 153.81 L256.37 153.69 L256.55 153.56 L256.73 153.43 L256.92 153.3 L257.1 153.17 L257.28 153.05 L257.47 152.92 L257.65 152.79 L257.83 152.67 L258.02 152.54 L258.2 152.41 L258.38 152.29 L258.57 152.16 L258.75 152.04 L258.93 151.91 L259.12 151.79 L259.3 151.66 L259.48 151.54 L259.67 151.41 L259.85 151.29 L260.03 151.17 L260.22 151.04 L260.4 150.92 L260.58 150.8 L260.77 150.68 L260.95 150.55 L261.13 150.43 L261.32 150.31 L261.5 150.19 L261.68 150.07 L261.87 149.95 L262.05 149.83 L262.23 149.71 L262.42 149.59 L262.6 149.47 L262.78 149.35 L262.97 149.23 L263.15 149.11 L263.33 148.99 L263.52 148.87 L265.73 147.47 L267.93 146.09 L270.14 144.73 L272.35 143.41 L274.55 142.13 L276.76 140.87 L278.97 139.66 L281.18 138.48 L281.82 138.14 L283.38 137.33 L285.59 136.21 L287.8 135.11 L290.01 134.02 L292.21 132.96 L294.42 131.92 L296.63 130.9 L298.84 129.91 L301.04 128.94 L303.25 127.99 L305.46 127.07 L307.67 126.17 L309.28 125.53 L309.87 125.3 L312.08 124.45 L314.29 123.61 L316.5 122.79 L318.7 121.99 L320.91 121.2 L323.12 120.44 L325.33 119.69 L327.53 118.96 L329.74 118.26 L331.95 117.57 L334.15 116.9 L336.36 116.26 L336.73 116.15 L338.57 115.63 L340.78 115.01 L342.98 114.4 L345.19 113.81 L347.4 113.22 L349.61 112.65 L351.81 112.09 L354.02 111.54 L356.23 111.01 L358.44 110.48 L360.64 109.97 L362.85 109.47 L365.06 108.98 L367.27 108.51 L369.47 108.04 L371.68 107.6 L373.34 107.27 L373.89 107.16 L376.1 106.74 L378.3 106.32 L380.51 105.91 L382.72 105.51 L384.92 105.12 L387.13 104.73 L389.34 104.36 L391.55 103.99 L393.75 103.63 L395.96 103.28 L398.17 102.94 L400.38 102.61 L402.58 102.29 L404.79 101.98 L407 101.67 L409.21 101.38 L409.94 101.29 L411.41 101.1 L413.62 100.82 L415.83 100.54 L418.04 100.27 L420.24 100 L422.45 99.74 L424.66 99.49 L426.87 99.23 L429.07 98.99 L431.28 98.75 L433.49 98.51 L435.69 98.28 L437.9 98.06 L440.11 97.84 L442.32 97.62 L444.52 97.42 L446.73 97.22 L448.94 97.03 L451.15 96.84 L453.35 96.66 L455.56 96.49 L455.7 96.48 L457.77 96.32 L459.98 96.15 L462.18 95.99 L464.39 95.83 L466.6 95.67 L468.81 95.51 L471.01 95.36 L473.22 95.21 L475.43 95.06 L477.64 94.91 L479.84 94.77 L482.05 94.63 L484.26 94.49 L486.47 94.35 L488.67 94.22 L490.88 94.09 L493.09 93.97 L495.29 93.85 L497.5 93.73 L499.71 93.61 L501.92 93.5 L504.12 93.39 L506.33 93.28 L508.54 93.18 L510.75 93.08 L512.95 92.99 L515.16 92.9 L517.37 92.81 L519.58 92.73 L519.76 92.72 L521.78 92.65 L523.99 92.57 L526.2 92.49 L528.41 92.41 L530.61 92.34 L532.82 92.26 L535.03 92.19 L537.24 92.11 L539.44 92.04 L541.65 91.97 L543.86 91.9 L546.06 91.83 L548.27 91.77 L550.48 91.7 L552.69 91.64 L554.89 91.57 L557.1 91.51 L559.31 91.45 L561.52 91.39 L563.72 91.33 L565.93 91.27 L568.14 91.22 L570.35 91.16 L572.55 91.11 L574.76 91.05 L576.97 91 L579.18 90.95 L581.38 90.9 L583.59 90.85 L585.8 90.81 L588.01 90.76 L590.21 90.72 L592.42 90.68 L594.63 90.63 L596.83 90.59 L599.04 90.56 L601.25 90.52 L603.46 90.48 L605.66 90.45 L607.87 90.41 L610.08 90.38 L611.27 90.37 L612.29 90.35 L614.49 90.32 L616.7 90.29 L618.91 90.26 L621.12 90.23 L623.32 90.2 L625.53 90.18 L627.74 90.15 L629.95 90.12 L632.15 90.09 L634.36 90.07 L636.57 90.04 L638.78 90.01 L640.98 89.99 L643.19 89.96 L645.4 89.94 L647.61 89.92 L649.81 89.89 L652.02 89.87 L654.23 89.85 L656.43 89.82 L658.64 89.8 L660.85 89.78 L663.06 89.76 L665.26 89.74 L667.47 89.72 L669.68 89.7 L671.89 89.69 L674.09 89.67 L676.3 89.65 L678.51 89.64 L680.72 89.62 L682.92 89.6 L685.13 89.59 L687.34 89.58 L689.55 89.56 L691.75 89.55 L693.96 89.54 L696.17 89.53 L698.38 89.52 L700.58 89.51 L702.79 89.5 L724.51 89.41 L746.22 89.34 L767.94 89.27 L789.65 89.21 L811.37 89.16 L833.08 89.12 L854.8 89.09 L876.51 89.07 L885.82 89.06 L898.23 89.06 L919.94 89.05 L941.66 89.04 L963.38 89.03 L985.09 89.02 L1006.81 89.02 L1028.52 89.01 L1050.24 89.01 L1068.85 89.01 L1071.95 89.01 L1093.67 89.01 L1115.38 89.01 L1137.1 89 L1158.81 89 L1180.53 89 L1202.24 89 L1223.96 89 L1245.68 89 L1267.39 89 L1289.11 89 L1310.82 89 L1332.54 89 L1354.25 89 L1375.97 89 L1397.68 89 L1419.4 89 L1434.91 89 L1441.11 89 L1462.83 89 L1484.55 89 L1506.26 89 L1527.98 89 L1549.69 89 L1571.41 89 L1593.12 89 L1614.84 89 L1636.55 89 L1658.27 89 L1679.98 89 L1701.7 89 L1723.41 89 L1745.13 89 L1766.85 89 L1788.56 89 L1810.28 89 L1831.99 89 L1853.71 89 L1875.42 89 L1897.14 89 L1918.85 89 L1940.57 89 L1962.28 89 L1984 89" stroke="#0072BD" stroke-width="8.3" fill="none" stroke-linejoin="round" stroke-dasharray="24.8 24.8" stroke-linecap="butt" stroke-dashoffset="40.07"/></g>
<path d="M153.7 784.7 L153.7 1213.6 L1984 1213.6" stroke="#000" stroke-width="4.5" fill="none" stroke-linecap="square" stroke-linejoin="miter"/><path d="M336.73 1213.6 V1193.1 M519.76 1213.6 V1193.1 M702.79 1213.6 V1193.1 M885.82 1213.6 V1193.1 M1068.85 1213.6 V1193.1 M1251.88 1213.6 V1193.1 M1434.91 1213.6 V1193.1 M1617.94 1213.6 V1193.1 M1800.97 1213.6 V1193.1 M1984 1213.6 V1193.1 M153.7 1213.6 H174.2 M153.7 1106.38 H174.2 M153.7 999.15 H174.2 M153.7 891.92 H174.2 M153.7 784.7 H174.2" stroke="#000" stroke-width="3.6" fill="none"/><g font-size="64" fill="#000"><text x="153.7" y="1282.6" text-anchor="middle">0</text><text x="336.73" y="1282.6" text-anchor="middle">2</text><text x="519.76" y="1282.6" text-anchor="middle">4</text><text x="702.79" y="1282.6" text-anchor="middle">6</text><text x="885.82" y="1282.6" text-anchor="middle">8</text><text x="1068.85" y="1282.6" text-anchor="middle">10</text><text x="1251.88" y="1282.6" text-anchor="middle">12</text><text x="1434.91" y="1282.6" text-anchor="middle">14</text><text x="1617.94" y="1282.6" text-anchor="middle">16</text><text x="1800.97" y="1282.6" text-anchor="middle">18</text><text x="1984" y="1282.6" text-anchor="middle">20</text><text x="131" y="1234.6" text-anchor="end">−5</text><text x="131" y="1127.38" text-anchor="end">0</text><text x="131" y="1020.15" text-anchor="end">5</text><text x="131" y="912.92" text-anchor="end">10</text><text x="131" y="805.7" text-anchor="end">15</text><text x="1067.4" y="1353" text-anchor="middle">Time (s)</text><text x="1069.4" y="1418" text-anchor="middle" textLength="652.1" lengthAdjust="spacingAndGlyphs">(b) Critic learning process</text></g>
<path d="M153.7 829.73 L1984 829.73" stroke="#000" stroke-width="8.3" fill="none" stroke-linejoin="round" stroke-linecap="butt"/><circle cx="1984" cy="829.73" r="4.15" fill="#000"/><path d="M153.7 1066.27 L1984 1066.27" stroke="#000" stroke-width="8.3" fill="none" stroke-linejoin="round" stroke-linecap="butt"/><circle cx="1984" cy="1066.27" r="4.15" fill="#000"/><path d="M153.7 1187.01 L1984 1187.01" stroke="#000" stroke-width="8.3" fill="none" stroke-linejoin="round" stroke-linecap="butt"/><circle cx="1984" cy="1187.01" r="4.15" fill="#000"/><path d="M153.7 1106.38 L153.88 1106.64 L154.07 1106.9 L154.25 1107.16 L154.43 1107.42 L154.62 1107.67 L154.8 1107.92 L154.98 1108.16 L155.17 1108.4 L155.35 1108.64 L155.53 1108.87 L155.72 1109.1 L155.9 1109.32 L156.08 1109.54 L156.27 1109.76 L156.45 1109.96 L156.63 1110.17 L156.82 1110.37 L157 1110.56 L157.18 1110.75 L157.37 1110.93 L157.55 1111.1 L157.73 1111.27 L157.92 1111.44 L158.1 1111.59 L158.28 1111.74 L158.28 1111.74 L158.47 1111.89 L158.65 1112.04 L158.83 1112.2 L159.02 1112.35 L159.2 1112.5 L159.38 1112.66 L159.57 1112.81 L159.75 1112.96 L159.93 1113.11 L160.12 1113.25 L160.3 1113.39 L160.48 1113.53 L160.67 1113.66 L160.85 1113.79 L161.03 1113.9 L161.22 1114.01 L161.4 1114.11 L161.58 1114.2 L161.77 1114.29 L161.95 1114.36 L162.13 1114.42 L162.32 1114.46 L162.5 1114.5 L162.68 1114.52 L162.85 1114.52 L162.87 1114.52 L163.05 1114.5 L163.23 1114.42 L163.42 1114.31 L163.6 1114.15 L163.78 1113.96 L163.97 1113.73 L164.15 1113.46 L164.33 1113.17 L164.52 1112.85 L164.7 1112.5 L164.88 1112.12 L165.07 1111.73 L165.25 1111.31 L165.43 1110.88 L165.62 1110.43 L165.8 1109.97 L165.98 1109.51 L166.17 1109.03 L166.35 1108.55 L166.53 1108.06 L166.72 1107.58 L166.9 1107.09 L167.08 1106.62 L167.27 1106.14 L167.45 1105.68 L167.63 1105.23 L167.82 1104.79 L168 1104.37 L168.18 1103.96 L168.37 1103.58 L168.55 1103.22 L168.73 1102.88 L168.92 1102.58 L169.1 1102.3 L169.26 1102.09 L169.28 1102.05 L169.47 1101.83 L169.65 1101.61 L169.83 1101.39 L170.02 1101.19 L170.2 1100.99 L170.38 1100.79 L170.57 1100.61 L170.75 1100.42 L170.93 1100.25 L171.12 1100.08 L171.3 1099.91 L171.48 1099.75 L171.67 1099.59 L171.85 1099.43 L172.03 1099.28 L172.22 1099.13 L172.4 1098.99 L172.58 1098.84 L172.77 1098.7 L172.95 1098.56 L173.13 1098.43 L173.32 1098.29 L173.5 1098.15 L173.68 1098.02 L173.87 1097.89 L174.05 1097.75 L174.23 1097.62 L174.42 1097.48 L174.6 1097.34 L174.78 1097.2 L174.97 1097.06 L175.15 1096.92 L175.33 1096.78 L175.52 1096.63 L175.7 1096.48 L175.88 1096.33 L176.07 1096.17 L176.25 1096.01 L176.43 1095.85 L176.62 1095.68 L176.8 1095.5 L176.98 1095.32 L177.17 1095.14 L177.35 1094.95 L177.53 1094.75 L177.72 1094.55 L177.9 1094.34 L178.08 1094.13 L178.27 1093.9 L178.41 1093.72 L178.45 1093.67 L178.63 1093.43 L178.82 1093.18 L179 1092.92 L179.18 1092.65 L179.37 1092.37 L179.55 1092.08 L179.73 1091.79 L179.92 1091.48 L180.1 1091.17 L180.28 1090.85 L180.47 1090.52 L180.65 1090.18 L180.83 1089.84 L181.02 1089.49 L181.2 1089.13 L181.38 1088.76 L181.57 1088.39 L181.75 1088.02 L181.93 1087.63 L182.12 1087.25 L182.3 1086.85 L182.48 1086.45 L182.67 1086.05 L182.85 1085.64 L183.03 1085.23 L183.22 1084.81 L183.4 1084.38 L183.58 1083.96 L183.77 1083.53 L183.9 1083.21 L183.95 1083.09 L184.13 1082.65 L184.32 1082.21 L184.5 1081.75 L184.68 1081.29 L184.87 1080.81 L185.05 1080.33 L185.23 1079.83 L185.42 1079.33 L185.6 1078.81 L185.78 1078.29 L185.97 1077.75 L186.15 1077.2 L186.33 1076.63 L186.52 1076.06 L186.7 1075.46 L186.88 1074.86 L187.07 1074.24 L187.25 1073.61 L187.43 1072.96 L187.62 1072.29 L187.8 1071.61 L187.98 1070.91 L188.02 1070.78 L188.17 1070.18 L188.35 1069.41 L188.53 1068.59 L188.72 1067.74 L188.9 1066.85 L189.08 1065.92 L189.27 1064.97 L189.45 1063.99 L189.63 1062.99 L189.82 1061.97 L190 1060.94 L190.18 1059.9 L190.31 1059.2 L190.37 1058.84 L190.55 1057.77 L190.73 1056.67 L190.92 1055.54 L191.1 1054.38 L191.28 1053.19 L191.47 1051.97 L191.65 1050.71 L191.83 1049.41 L192.02 1048.08 L192.14 1047.19 L192.2 1046.7 L192.38 1045.23 L192.57 1043.67 L192.75 1042.06 L192.93 1040.41 L193.12 1038.73 L193.3 1037.06 L193.48 1035.4 L193.51 1035.18 L193.67 1033.8 L193.85 1032.25 L194.03 1030.72 L194.22 1029.16 L194.4 1027.55 L194.58 1025.83 L194.77 1023.98 L194.88 1022.74 L194.95 1021.94 L195.13 1019.56 L195.32 1016.92 L195.5 1014.18 L195.68 1011.47 L195.8 1009.87 L195.87 1008.92 L196.05 1006.53 L196.23 1004.2 L196.42 1001.82 L196.6 999.29 L196.71 997.65 L196.78 996.54 L196.97 993.62 L197.15 990.57 L197.33 987.38 L197.52 984.09 L197.7 980.69 L197.88 977.2 L198.07 973.64 L198.25 970.01 L198.43 966.33 L198.62 962.61 L198.8 958.86 L198.98 955.1 L199.17 951.33 L199.35 947.57 L199.53 943.83 L199.72 940.12 L199.9 936.45 L200.08 932.85 L200.27 929.31 L200.37 927.31 L200.45 925.83 L200.63 922.31 L200.82 918.71 L201 915.07 L201.18 911.38 L201.37 907.67 L201.55 903.95 L201.73 900.23 L201.92 896.53 L202.1 892.86 L202.28 889.24 L202.47 885.68 L202.65 882.19 L202.83 878.79 L203.02 875.5 L203.2 872.32 L203.38 869.27 L203.57 866.37 L203.75 863.63 L203.93 861.07 L204.03 859.76 L204.12 858.67 L204.3 856.25 L204.48 853.8 L204.67 851.35 L204.85 848.93 L205.03 846.56 L205.22 844.27 L205.4 842.09 L205.58 840.05 L205.77 838.16 L205.95 836.47 L206.13 834.98 L206.32 833.75 L206.5 832.78 L206.68 832.1 L206.78 831.88 L206.87 831.71 L207.05 831.38 L207.23 831.06 L207.42 830.76 L207.6 830.48 L207.78 830.21 L207.97 829.95 L208.15 829.71 L208.33 829.49 L208.52 829.29 L208.7 829.1 L208.88 828.93 L209.07 828.78 L209.25 828.64 L209.43 828.53 L209.62 828.43 L209.8 828.35 L209.98 828.29 L210.17 828.26 L210.35 828.24 L210.44 828.23 L210.53 828.23 L210.72 828.23 L210.9 828.23 L211.08 828.23 L211.27 828.23 L211.45 828.23 L211.63 828.23 L211.82 828.24 L212 828.24 L212.18 828.24 L212.37 828.24 L212.55 828.24 L212.73 828.24 L212.92 828.24 L213.1 828.24 L213.28 828.24 L213.47 828.24 L213.65 828.24 L213.83 828.25 L214.02 828.25 L214.2 828.25 L214.38 828.25 L214.57 828.25 L214.75 828.25 L214.93 828.25 L215.12 828.25 L215.3 828.26 L215.48 828.26 L215.67 828.26 L215.85 828.26 L216.03 828.26 L216.22 828.26 L216.4 828.27 L216.58 828.27 L216.77 828.27 L216.95 828.27 L217.13 828.27 L217.32 828.27 L217.5 828.28 L217.68 828.28 L217.87 828.28 L218.05 828.28 L218.23 828.28 L218.42 828.28 L218.6 828.29 L218.78 828.29 L218.97 828.29 L219.15 828.29 L219.33 828.29 L219.52 828.3 L219.7 828.3 L219.88 828.3 L220.07 828.3 L220.25 828.3 L220.43 828.3 L220.62 828.31 L220.8 828.31 L220.98 828.31 L221.17 828.31 L221.35 828.31 L221.53 828.31 L221.72 828.32 L221.9 828.32 L222.08 828.32 L222.27 828.32 L222.45 828.32 L222.63 828.32 L222.82 828.32 L223 828.33 L223.18 828.33 L223.37 828.33 L223.55 828.33 L223.73 828.33 L223.92 828.33 L224.1 828.33 L224.28 828.33 L224.47 828.33 L224.65 828.34 L224.83 828.34 L225.02 828.34 L225.2 828.34 L225.38 828.34 L225.57 828.34 L225.75 828.34 L225.93 828.34 L226.12 828.34 L226.3 828.34 L226.48 828.34 L226.67 828.34 L226.85 828.34 L226.91 828.34 L227.03 828.34 L227.22 828.34 L227.4 828.34 L227.58 828.34 L227.77 828.34 L227.95 828.34 L228.13 828.34 L228.32 828.34 L228.5 828.34 L228.68 828.34 L228.87 828.34 L229.05 828.34 L229.23 828.34 L229.42 828.34 L229.6 828.34 L229.78 828.34 L229.97 828.34 L230.15 828.34 L230.33 828.34 L230.52 828.34 L230.7 828.34 L230.88 828.34 L231.07 828.34 L231.25 828.34 L231.43 828.34 L231.62 828.34 L231.8 828.34 L231.98 828.34 L232.17 828.34 L232.35 828.34 L232.53 828.34 L232.72 828.34 L232.9 828.34 L233.08 828.34 L233.27 828.34 L233.45 828.34 L233.63 828.34 L233.82 828.34 L234 828.34 L234.18 828.34 L234.37 828.34 L234.55 828.34 L234.73 828.34 L234.92 828.34 L235.1 828.34 L235.28 828.34 L235.47 828.34 L235.65 828.34 L235.83 828.34 L236.02 828.34 L236.2 828.34 L236.38 828.34 L236.57 828.34 L236.75 828.34 L236.93 828.34 L237.12 828.34 L237.3 828.34 L237.48 828.34 L237.67 828.34 L237.85 828.34 L238.03 828.34 L238.22 828.34 L238.4 828.34 L238.58 828.34 L238.77 828.34 L238.95 828.34 L239.13 828.34 L239.32 828.34 L239.5 828.34 L239.68 828.34 L239.87 828.34 L240.05 828.34 L240.23 828.34 L240.42 828.34 L240.6 828.34 L240.78 828.34 L240.97 828.34 L241.15 828.34 L241.33 828.34 L241.52 828.34 L241.7 828.34 L241.88 828.34 L242.07 828.34 L242.25 828.34 L242.43 828.34 L242.62 828.34 L242.8 828.34 L242.98 828.34 L243.17 828.34 L243.35 828.34 L243.53 828.34 L243.72 828.34 L243.9 828.34 L244.08 828.34 L244.27 828.34 L244.45 828.34 L244.63 828.34 L244.82 828.34 L245 828.34 L245.18 828.34 L245.37 828.34 L245.55 828.34 L245.73 828.34 L245.92 828.34 L246.1 828.34 L246.28 828.34 L246.47 828.34 L246.65 828.34 L246.83 828.34 L247.02 828.34 L247.2 828.34 L247.38 828.34 L247.57 828.34 L247.75 828.34 L247.93 828.34 L248.12 828.34 L248.3 828.34 L248.48 828.34 L248.67 828.34 L248.85 828.34 L249.03 828.34 L249.22 828.34 L249.4 828.34 L249.58 828.34 L249.77 828.34 L249.95 828.34 L250.13 828.34 L250.32 828.34 L250.5 828.34 L250.68 828.34 L250.87 828.34 L251.05 828.34 L251.23 828.34 L251.42 828.34 L251.6 828.34 L251.78 828.34 L251.97 828.34 L252.15 828.34 L252.33 828.34 L252.52 828.34 L252.7 828.34 L252.88 828.34 L253.07 828.34 L253.25 828.34 L253.43 828.34 L253.62 828.34 L253.8 828.34 L253.98 828.34 L254.17 828.34 L254.35 828.34 L254.53 828.34 L254.72 828.34 L254.9 828.34 L255.08 828.34 L255.27 828.34 L255.45 828.34 L255.63 828.34 L255.82 828.34 L256 828.34 L256.18 828.34 L256.37 828.34 L256.55 828.34 L256.73 828.34 L256.92 828.34 L257.1 828.34 L257.28 828.34 L257.47 828.34 L257.65 828.34 L257.83 828.34 L258.02 828.34 L258.2 828.34 L258.38 828.34 L258.57 828.34 L258.75 828.34 L258.93 828.34 L259.12 828.34 L259.3 828.34 L259.48 828.34 L259.67 828.34 L259.85 828.34 L260.03 828.34 L260.22 828.34 L260.4 828.34 L260.58 828.34 L260.77 828.34 L260.95 828.34 L261.13 828.34 L261.32 828.34 L261.5 828.34 L261.68 828.34 L261.87 828.34 L262.05 828.34 L262.23 828.34 L262.42 828.34 L262.6 828.34 L262.78 828.34 L262.97 828.34 L263.15 828.34 L263.33 828.34 L263.52 828.34 L265.73 828.34 L267.93 828.34 L270.14 828.34 L272.35 828.34 L274.55 828.34 L276.76 828.34 L278.97 828.34 L281.18 828.34 L283.38 828.34 L285.59 828.34 L287.8 828.34 L290.01 828.34 L292.21 828.34 L294.42 828.34 L296.63 828.34 L298.84 828.34 L301.04 828.34 L303.25 828.34 L305.46 828.34 L307.67 828.34 L309.87 828.34 L312.08 828.34 L314.29 828.34 L316.5 828.34 L318.7 828.34 L320.91 828.34 L323.12 828.34 L325.33 828.34 L327.53 828.34 L329.74 828.34 L331.95 828.34 L334.15 828.34 L336.36 828.34 L338.57 828.34 L340.78 828.34 L342.98 828.34 L345.19 828.34 L347.4 828.34 L349.61 828.34 L351.81 828.34 L354.02 828.34 L356.23 828.34 L358.44 828.34 L360.64 828.34 L362.85 828.34 L365.06 828.34 L367.27 828.34 L369.47 828.34 L371.68 828.34 L373.89 828.34 L376.1 828.34 L378.3 828.34 L380.51 828.34 L382.72 828.34 L384.92 828.34 L387.13 828.34 L389.34 828.34 L391.55 828.34 L393.75 828.34 L395.96 828.34 L398.17 828.34 L400.38 828.34 L402.58 828.34 L404.79 828.34 L407 828.34 L409.21 828.34 L411.41 828.34 L413.62 828.34 L415.83 828.34 L418.04 828.34 L420.24 828.34 L422.45 828.34 L424.66 828.34 L426.87 828.34 L429.07 828.34 L431.28 828.34 L433.49 828.34 L435.69 828.34 L437.9 828.34 L440.11 828.34 L442.32 828.34 L444.52 828.34 L446.73 828.34 L448.94 828.34 L451.15 828.34 L453.35 828.34 L455.56 828.34 L457.77 828.34 L459.98 828.34 L462.18 828.34 L464.39 828.34 L466.6 828.34 L468.81 828.34 L471.01 828.34 L473.22 828.34 L475.43 828.34 L477.64 828.34 L479.84 828.34 L482.05 828.34 L484.26 828.34 L486.47 828.34 L488.67 828.34 L490.88 828.34 L493.09 828.34 L495.29 828.34 L497.5 828.34 L499.71 828.34 L501.92 828.34 L504.12 828.34 L506.33 828.34 L508.54 828.34 L510.75 828.34 L512.95 828.34 L515.16 828.34 L517.37 828.34 L519.58 828.34 L521.78 828.34 L523.99 828.34 L526.2 828.34 L528.41 828.34 L530.61 828.34 L532.82 828.34 L535.03 828.34 L537.24 828.34 L539.44 828.34 L541.65 828.34 L543.86 828.34 L546.06 828.34 L548.27 828.34 L550.48 828.34 L552.69 828.34 L554.89 828.34 L557.1 828.34 L559.31 828.34 L561.52 828.34 L563.72 828.34 L565.93 828.34 L568.14 828.34 L570.35 828.34 L572.55 828.34 L574.76 828.34 L576.97 828.34 L579.18 828.34 L581.38 828.34 L583.59 828.34 L585.8 828.34 L588.01 828.34 L590.21 828.34 L592.42 828.34 L594.63 828.34 L596.83 828.34 L599.04 828.34 L601.25 828.34 L603.46 828.34 L605.66 828.34 L607.87 828.34 L610.08 828.34 L612.29 828.34 L614.49 828.34 L616.7 828.34 L618.91 828.34 L621.12 828.34 L623.32 828.34 L625.53 828.34 L627.74 828.34 L629.95 828.34 L632.15 828.34 L634.36 828.34 L636.57 828.34 L638.78 828.34 L640.98 828.34 L643.19 828.34 L645.4 828.34 L647.61 828.34 L649.81 828.34 L652.02 828.34 L654.23 828.34 L656.43 828.34 L658.64 828.34 L660.85 828.34 L663.06 828.34 L665.26 828.34 L667.47 828.34 L669.68 828.34 L671.89 828.34 L674.09 828.34 L676.3 828.34 L678.51 828.34 L680.72 828.34 L682.92 828.34 L685.13 828.34 L687.34 828.34 L689.55 828.34 L691.75 828.34 L693.96 828.34 L696.17 828.34 L698.38 828.34 L700.58 828.34 L702.79 828.34 L724.51 828.34 L746.22 828.34 L767.94 828.34 L789.65 828.34 L811.37 828.34 L833.08 828.34 L854.8 828.34 L876.51 828.34 L898.23 828.34 L919.94 828.34 L941.66 828.34 L963.38 828.34 L985.09 828.34 L1006.81 828.34 L1028.52 828.34 L1050.24 828.34 L1071.95 828.34 L1093.67 828.34 L1115.38 828.34 L1137.1 828.34 L1158.81 828.34 L1180.53 828.34 L1202.24 828.34 L1223.96 828.34 L1245.68 828.34 L1267.39 828.34 L1289.11 828.34 L1310.82 828.34 L1332.54 828.34 L1354.25 828.34 L1375.97 828.34 L1397.68 828.34 L1419.4 828.34 L1441.11 828.34 L1462.83 828.34 L1484.55 828.34 L1506.26 828.34 L1527.98 828.34 L1549.69 828.34 L1571.41 828.34 L1593.12 828.34 L1614.84 828.34 L1636.55 828.34 L1658.27 828.34 L1679.98 828.34 L1701.7 828.34 L1723.41 828.34 L1745.13 828.34 L1766.85 828.34 L1788.56 828.34 L1810.28 828.34 L1831.99 828.34 L1853.71 828.34 L1875.42 828.34 L1897.14 828.34 L1918.85 828.34 L1940.57 828.34 L1962.28 828.34 L1984 828.34" stroke="#0072BD" stroke-width="8.3" fill="none" stroke-linejoin="round" stroke-dasharray="6.1 6.28" stroke-linecap="butt" stroke-dashoffset="0.14"/><path d="M153.7 1058.12 L153.88 1065.85 L154.07 1072.18 L154.16 1074.21 L154.25 1075.71 L154.43 1078.26 L154.62 1080.34 L154.8 1082.05 L154.98 1083.49 L155.17 1084.77 L155.26 1085.36 L155.35 1085.97 L155.53 1087.08 L155.72 1088.1 L155.9 1089.04 L156.08 1089.92 L156.27 1090.75 L156.45 1091.52 L156.63 1092.27 L156.82 1092.98 L157 1093.69 L157.18 1094.39 L157.37 1095.1 L157.55 1095.82 L157.73 1096.58 L157.82 1096.94 L157.92 1097.36 L158.1 1098.11 L158.28 1098.84 L158.47 1099.54 L158.65 1100.22 L158.83 1100.89 L159.02 1101.56 L159.2 1102.23 L159.38 1102.91 L159.57 1103.6 L159.75 1104.32 L159.93 1105.06 L160.12 1105.84 L160.3 1106.67 L160.48 1107.53 L160.67 1108.46 L160.84 1109.38 L160.85 1109.44 L161.03 1110.51 L161.22 1111.67 L161.4 1112.92 L161.58 1114.26 L161.77 1115.68 L161.95 1117.18 L162.13 1118.77 L162.32 1120.43 L162.49 1122.03 L162.5 1122.17 L162.68 1124.21 L162.87 1126.56 L163.05 1129.05 L163.23 1131.48 L163.42 1133.68 L163.49 1134.47 L163.6 1135.52 L163.78 1137.19 L163.97 1138.76 L164.15 1140.24 L164.33 1141.66 L164.52 1143.05 L164.7 1144.43 L164.88 1145.83 L165.05 1147.12 L165.07 1147.27 L165.25 1148.75 L165.43 1150.23 L165.62 1151.71 L165.8 1153.18 L165.98 1154.63 L166.17 1156.07 L166.35 1157.48 L166.51 1158.7 L166.53 1158.86 L166.72 1160.22 L166.9 1161.57 L167.08 1162.9 L167.27 1164.21 L167.45 1165.5 L167.63 1166.78 L167.82 1168.02 L168 1169.24 L168.16 1170.28 L168.18 1170.44 L168.37 1171.66 L168.55 1172.93 L168.73 1174.22 L168.92 1175.51 L169.1 1176.78 L169.28 1178 L169.47 1179.15 L169.65 1180.2 L169.83 1181.13 L170.02 1181.92 L170.2 1182.55 L170.26 1182.72 L170.38 1183.02 L170.57 1183.46 L170.75 1183.88 L170.93 1184.29 L171.12 1184.68 L171.3 1185.05 L171.48 1185.4 L171.67 1185.75 L171.85 1186.07 L172.03 1186.39 L172.22 1186.69 L172.4 1186.97 L172.58 1187.25 L172.77 1187.52 L172.95 1187.77 L173.13 1188.02 L173.32 1188.25 L173.5 1188.48 L173.68 1188.7 L173.87 1188.91 L174.05 1189.12 L174.23 1189.32 L174.42 1189.51 L174.6 1189.71 L174.78 1189.89 L174.97 1190.08 L175.15 1190.26 L175.33 1190.44 L175.52 1190.62 L175.7 1190.8 L175.88 1190.98 L176.07 1191.16 L176.25 1191.34 L176.43 1191.52 L176.62 1191.71 L176.8 1191.9 L176.98 1192.1 L177.04 1192.15 L177.17 1192.3 L177.35 1192.5 L177.53 1192.7 L177.72 1192.9 L177.9 1193.1 L178.08 1193.3 L178.27 1193.5 L178.45 1193.7 L178.63 1193.9 L178.82 1194.1 L179 1194.3 L179.18 1194.5 L179.37 1194.7 L179.55 1194.89 L179.73 1195.09 L179.92 1195.28 L180.1 1195.48 L180.28 1195.67 L180.47 1195.86 L180.65 1196.05 L180.83 1196.24 L181.02 1196.43 L181.2 1196.61 L181.38 1196.79 L181.57 1196.97 L181.75 1197.15 L181.93 1197.33 L182.12 1197.5 L182.3 1197.67 L182.48 1197.84 L182.67 1198 L182.85 1198.16 L183.03 1198.32 L183.22 1198.48 L183.4 1198.63 L183.58 1198.78 L183.77 1198.92 L183.95 1199.06 L184.13 1199.2 L184.32 1199.33 L184.5 1199.46 L184.68 1199.59 L184.87 1199.71 L185.05 1199.82 L185.23 1199.94 L185.42 1200.04 L185.6 1200.15 L185.78 1200.24 L185.97 1200.34 L186.15 1200.42 L186.33 1200.51 L186.52 1200.58 L186.7 1200.65 L186.88 1200.72 L186.92 1200.73 L187.07 1200.78 L187.25 1200.84 L187.43 1200.91 L187.62 1200.97 L187.8 1201.03 L187.98 1201.09 L188.17 1201.15 L188.35 1201.2 L188.53 1201.26 L188.72 1201.32 L188.9 1201.38 L189.08 1201.43 L189.27 1201.49 L189.45 1201.54 L189.63 1201.59 L189.82 1201.65 L190 1201.7 L190.18 1201.75 L190.37 1201.79 L190.55 1201.84 L190.73 1201.89 L190.92 1201.93 L191.1 1201.97 L191.28 1202.02 L191.47 1202.06 L191.65 1202.09 L191.83 1202.13 L192.02 1202.17 L192.2 1202.2 L192.38 1202.23 L192.57 1202.26 L192.75 1202.29 L192.93 1202.31 L193.12 1202.34 L193.3 1202.36 L193.48 1202.38 L193.67 1202.39 L193.85 1202.41 L194.03 1202.42 L194.22 1202.43 L194.4 1202.44 L194.58 1202.45 L194.77 1202.45 L194.88 1202.45 L194.95 1202.45 L195.13 1202.44 L195.32 1202.43 L195.5 1202.41 L195.68 1202.39 L195.87 1202.36 L196.05 1202.32 L196.23 1202.28 L196.42 1202.23 L196.6 1202.17 L196.78 1202.11 L196.97 1202.05 L197.15 1201.98 L197.33 1201.91 L197.52 1201.83 L197.7 1201.74 L197.88 1201.65 L198.07 1201.56 L198.25 1201.46 L198.43 1201.36 L198.62 1201.26 L198.8 1201.15 L198.98 1201.04 L199.17 1200.92 L199.35 1200.8 L199.46 1200.73 L199.53 1200.67 L199.72 1200.46 L199.9 1200.16 L200.08 1199.78 L200.27 1199.33 L200.45 1198.81 L200.63 1198.25 L200.82 1197.64 L201 1196.99 L201.18 1196.33 L201.37 1195.64 L201.55 1194.95 L201.73 1194.26 L201.92 1193.59 L202.1 1192.94 L202.28 1192.31 L202.47 1191.73 L202.65 1191.2 L202.83 1190.72 L203.02 1190.31 L203.2 1189.98 L203.38 1189.74 L203.57 1189.59 L203.58 1189.58 L203.75 1189.49 L203.93 1189.4 L204.12 1189.31 L204.3 1189.23 L204.48 1189.15 L204.67 1189.07 L204.85 1188.99 L205.03 1188.92 L205.22 1188.85 L205.4 1188.78 L205.58 1188.72 L205.77 1188.66 L205.95 1188.6 L206.13 1188.55 L206.32 1188.5 L206.5 1188.45 L206.68 1188.41 L206.87 1188.37 L207.05 1188.33 L207.23 1188.3 L207.42 1188.27 L207.6 1188.25 L207.78 1188.23 L207.97 1188.21 L208.15 1188.2 L208.33 1188.19 L208.52 1188.19 L208.61 1188.19 L208.7 1188.19 L208.88 1188.19 L209.07 1188.19 L209.25 1188.19 L209.43 1188.19 L209.62 1188.19 L209.8 1188.19 L209.98 1188.19 L210.17 1188.19 L210.35 1188.19 L210.53 1188.19 L210.72 1188.19 L210.9 1188.19 L211.08 1188.19 L211.27 1188.19 L211.45 1188.19 L211.63 1188.19 L211.82 1188.19 L212 1188.19 L212.18 1188.19 L212.37 1188.19 L212.55 1188.19 L212.73 1188.19 L212.92 1188.19 L213.1 1188.19 L213.28 1188.19 L213.47 1188.19 L213.65 1188.19 L213.83 1188.19 L214.02 1188.19 L214.2 1188.19 L214.38 1188.19 L214.57 1188.19 L214.75 1188.19 L214.93 1188.19 L215.12 1188.19 L215.3 1188.19 L215.48 1188.19 L215.67 1188.19 L215.85 1188.19 L216.03 1188.19 L216.22 1188.19 L216.4 1188.19 L216.58 1188.19 L216.77 1188.19 L216.95 1188.19 L217.13 1188.19 L217.32 1188.19 L217.5 1188.19 L217.68 1188.19 L217.87 1188.19 L218.05 1188.19 L218.23 1188.19 L218.42 1188.19 L218.6 1188.19 L218.78 1188.19 L218.97 1188.19 L219.15 1188.19 L219.33 1188.19 L219.52 1188.19 L219.7 1188.19 L219.88 1188.19 L220.07 1188.19 L220.25 1188.19 L220.43 1188.19 L220.62 1188.19 L220.8 1188.19 L220.98 1188.19 L221.17 1188.19 L221.35 1188.19 L221.53 1188.19 L221.72 1188.19 L221.9 1188.19 L222.08 1188.19 L222.27 1188.19 L222.45 1188.19 L222.63 1188.19 L222.82 1188.19 L223 1188.19 L223.18 1188.19 L223.37 1188.19 L223.55 1188.19 L223.73 1188.19 L223.92 1188.19 L224.1 1188.19 L224.28 1188.19 L224.47 1188.19 L224.65 1188.19 L224.83 1188.19 L225.02 1188.19 L225.2 1188.19 L225.38 1188.19 L225.57 1188.19 L225.75 1188.19 L225.93 1188.19 L226.12 1188.19 L226.3 1188.19 L226.48 1188.19 L226.67 1188.19 L226.85 1188.19 L227.03 1188.19 L227.22 1188.19 L227.4 1188.19 L227.58 1188.19 L227.77 1188.19 L227.95 1188.19 L228.13 1188.19 L228.32 1188.19 L228.5 1188.19 L228.68 1188.19 L228.87 1188.19 L229.05 1188.19 L229.23 1188.19 L229.42 1188.19 L229.6 1188.19 L229.78 1188.19 L229.97 1188.19 L230.15 1188.19 L230.33 1188.19 L230.52 1188.19 L230.7 1188.19 L230.88 1188.19 L231.07 1188.19 L231.25 1188.19 L231.43 1188.19 L231.62 1188.19 L231.8 1188.19 L231.98 1188.19 L232.17 1188.19 L232.35 1188.19 L232.53 1188.19 L232.72 1188.19 L232.9 1188.19 L233.08 1188.19 L233.27 1188.19 L233.45 1188.19 L233.63 1188.19 L233.82 1188.19 L234 1188.19 L234.18 1188.19 L234.37 1188.19 L234.55 1188.19 L234.73 1188.19 L234.92 1188.19 L235.1 1188.19 L235.28 1188.19 L235.47 1188.19 L235.65 1188.19 L235.83 1188.19 L236.02 1188.19 L236.2 1188.19 L236.38 1188.19 L236.57 1188.19 L236.75 1188.19 L236.93 1188.19 L237.12 1188.19 L237.3 1188.19 L237.48 1188.19 L237.67 1188.19 L237.85 1188.19 L238.03 1188.19 L238.22 1188.19 L238.4 1188.19 L238.58 1188.19 L238.77 1188.19 L238.95 1188.19 L239.13 1188.19 L239.32 1188.19 L239.5 1188.19 L239.68 1188.19 L239.87 1188.19 L240.05 1188.19 L240.23 1188.19 L240.42 1188.19 L240.6 1188.19 L240.78 1188.19 L240.97 1188.19 L241.15 1188.19 L241.33 1188.19 L241.52 1188.19 L241.7 1188.19 L241.88 1188.19 L242.07 1188.19 L242.25 1188.19 L242.43 1188.19 L242.62 1188.19 L242.8 1188.19 L242.98 1188.19 L243.17 1188.19 L243.35 1188.19 L243.53 1188.19 L243.72 1188.19 L243.9 1188.19 L244.08 1188.19 L244.27 1188.19 L244.45 1188.19 L244.63 1188.19 L244.82 1188.19 L245 1188.19 L245.18 1188.19 L245.37 1188.19 L245.55 1188.19 L245.73 1188.19 L245.92 1188.19 L246.1 1188.19 L246.28 1188.19 L246.47 1188.19 L246.65 1188.19 L246.83 1188.19 L247.02 1188.19 L247.2 1188.19 L247.38 1188.19 L247.57 1188.19 L247.75 1188.19 L247.93 1188.19 L248.12 1188.19 L248.3 1188.19 L248.48 1188.19 L248.67 1188.19 L248.85 1188.19 L249.03 1188.19 L249.22 1188.19 L249.4 1188.19 L249.58 1188.19 L249.77 1188.19 L249.95 1188.19 L250.13 1188.19 L250.32 1188.19 L250.5 1188.19 L250.68 1188.19 L250.87 1188.19 L251.05 1188.19 L251.23 1188.19 L251.42 1188.19 L251.6 1188.19 L251.78 1188.19 L251.97 1188.19 L252.15 1188.19 L252.33 1188.19 L252.52 1188.19 L252.7 1188.19 L252.88 1188.19 L253.07 1188.19 L253.25 1188.19 L253.43 1188.19 L253.62 1188.19 L253.8 1188.19 L253.98 1188.19 L254.17 1188.19 L254.35 1188.19 L254.53 1188.19 L254.72 1188.19 L254.9 1188.19 L255.08 1188.19 L255.27 1188.19 L255.45 1188.19 L255.63 1188.19 L255.82 1188.19 L256 1188.19 L256.18 1188.19 L256.37 1188.19 L256.55 1188.19 L256.73 1188.19 L256.92 1188.19 L257.1 1188.19 L257.28 1188.19 L257.47 1188.19 L257.65 1188.19 L257.83 1188.19 L258.02 1188.19 L258.2 1188.19 L258.38 1188.19 L258.57 1188.19 L258.75 1188.19 L258.93 1188.19 L259.12 1188.19 L259.3 1188.19 L259.48 1188.19 L259.67 1188.19 L259.85 1188.19 L260.03 1188.19 L260.22 1188.19 L260.4 1188.19 L260.58 1188.19 L260.77 1188.19 L260.95 1188.19 L261.13 1188.19 L261.32 1188.19 L261.5 1188.19 L261.68 1188.19 L261.87 1188.19 L262.05 1188.19 L262.23 1188.19 L262.42 1188.19 L262.6 1188.19 L262.78 1188.19 L262.97 1188.19 L263.15 1188.19 L263.33 1188.19 L263.52 1188.19 L265.73 1188.19 L267.93 1188.19 L270.14 1188.19 L272.35 1188.19 L274.55 1188.19 L276.76 1188.19 L278.97 1188.19 L281.18 1188.19 L283.38 1188.19 L285.59 1188.19 L287.8 1188.19 L290.01 1188.19 L292.21 1188.19 L294.42 1188.19 L296.63 1188.19 L298.84 1188.19 L301.04 1188.19 L303.25 1188.19 L305.46 1188.19 L307.67 1188.19 L309.87 1188.19 L312.08 1188.19 L314.29 1188.19 L316.5 1188.19 L318.7 1188.19 L320.91 1188.19 L323.12 1188.19 L325.33 1188.19 L327.53 1188.19 L329.74 1188.19 L331.95 1188.19 L334.15 1188.19 L336.36 1188.19 L338.57 1188.19 L340.78 1188.19 L342.98 1188.19 L345.19 1188.19 L347.4 1188.19 L349.61 1188.19 L351.81 1188.19 L354.02 1188.19 L356.23 1188.19 L358.44 1188.19 L360.64 1188.19 L362.85 1188.19 L365.06 1188.19 L367.27 1188.19 L369.47 1188.19 L371.68 1188.19 L373.89 1188.19 L376.1 1188.19 L378.3 1188.19 L380.51 1188.19 L382.72 1188.19 L384.92 1188.19 L387.13 1188.19 L389.34 1188.19 L391.55 1188.19 L393.75 1188.19 L395.96 1188.19 L398.17 1188.19 L400.38 1188.19 L402.58 1188.19 L404.79 1188.19 L407 1188.19 L409.21 1188.19 L411.41 1188.19 L413.62 1188.19 L415.83 1188.19 L418.04 1188.19 L420.24 1188.19 L422.45 1188.19 L424.66 1188.19 L426.87 1188.19 L429.07 1188.19 L431.28 1188.19 L433.49 1188.19 L435.69 1188.19 L437.9 1188.19 L440.11 1188.19 L442.32 1188.19 L444.52 1188.19 L446.73 1188.19 L448.94 1188.19 L451.15 1188.19 L453.35 1188.19 L455.56 1188.19 L457.77 1188.19 L459.98 1188.19 L462.18 1188.19 L464.39 1188.19 L466.6 1188.19 L468.81 1188.19 L471.01 1188.19 L473.22 1188.19 L475.43 1188.19 L477.64 1188.19 L479.84 1188.19 L482.05 1188.19 L484.26 1188.19 L486.47 1188.19 L488.67 1188.19 L490.88 1188.19 L493.09 1188.19 L495.29 1188.19 L497.5 1188.19 L499.71 1188.19 L501.92 1188.19 L504.12 1188.19 L506.33 1188.19 L508.54 1188.19 L510.75 1188.19 L512.95 1188.19 L515.16 1188.19 L517.37 1188.19 L519.58 1188.19 L521.78 1188.19 L523.99 1188.19 L526.2 1188.19 L528.41 1188.19 L530.61 1188.19 L532.82 1188.19 L535.03 1188.19 L537.24 1188.19 L539.44 1188.19 L541.65 1188.19 L543.86 1188.19 L546.06 1188.19 L548.27 1188.19 L550.48 1188.19 L552.69 1188.19 L554.89 1188.19 L557.1 1188.19 L559.31 1188.19 L561.52 1188.19 L563.72 1188.19 L565.93 1188.19 L568.14 1188.19 L570.35 1188.19 L572.55 1188.19 L574.76 1188.19 L576.97 1188.19 L579.18 1188.19 L581.38 1188.19 L583.59 1188.19 L585.8 1188.19 L588.01 1188.19 L590.21 1188.19 L592.42 1188.19 L594.63 1188.19 L596.83 1188.19 L599.04 1188.19 L601.25 1188.19 L603.46 1188.19 L605.66 1188.19 L607.87 1188.19 L610.08 1188.19 L612.29 1188.19 L614.49 1188.19 L616.7 1188.19 L618.91 1188.19 L621.12 1188.19 L623.32 1188.19 L625.53 1188.19 L627.74 1188.19 L629.95 1188.19 L632.15 1188.19 L634.36 1188.19 L636.57 1188.19 L638.78 1188.19 L640.98 1188.19 L643.19 1188.19 L645.4 1188.19 L647.61 1188.19 L649.81 1188.19 L652.02 1188.19 L654.23 1188.19 L656.43 1188.19 L658.64 1188.19 L660.85 1188.19 L663.06 1188.19 L665.26 1188.19 L667.47 1188.19 L669.68 1188.19 L671.89 1188.19 L674.09 1188.19 L676.3 1188.19 L678.51 1188.19 L680.72 1188.19 L682.92 1188.19 L685.13 1188.19 L687.34 1188.19 L689.55 1188.19 L691.75 1188.19 L693.96 1188.19 L696.17 1188.19 L698.38 1188.19 L700.58 1188.19 L702.79 1188.19 L724.51 1188.19 L746.22 1188.19 L767.94 1188.19 L789.65 1188.19 L811.37 1188.19 L833.08 1188.19 L854.8 1188.19 L876.51 1188.19 L898.23 1188.19 L919.94 1188.19 L941.66 1188.19 L963.38 1188.19 L985.09 1188.19 L1006.81 1188.19 L1028.52 1188.19 L1050.24 1188.19 L1071.95 1188.19 L1093.67 1188.19 L1115.38 1188.19 L1137.1 1188.19 L1158.81 1188.19 L1180.53 1188.19 L1202.24 1188.19 L1223.96 1188.19 L1245.68 1188.19 L1267.39 1188.19 L1289.11 1188.19 L1310.82 1188.19 L1332.54 1188.19 L1354.25 1188.19 L1375.97 1188.19 L1397.68 1188.19 L1419.4 1188.19 L1441.11 1188.19 L1462.83 1188.19 L1484.55 1188.19 L1506.26 1188.19 L1527.98 1188.19 L1549.69 1188.19 L1571.41 1188.19 L1593.12 1188.19 L1614.84 1188.19 L1636.55 1188.19 L1658.27 1188.19 L1679.98 1188.19 L1701.7 1188.19 L1723.41 1188.19 L1745.13 1188.19 L1766.85 1188.19 L1788.56 1188.19 L1810.28 1188.19 L1831.99 1188.19 L1853.71 1188.19 L1875.42 1188.19 L1897.14 1188.19 L1918.85 1188.19 L1940.57 1188.19 L1962.28 1188.19 L1984 1188.19" stroke="#D95319" stroke-width="8.3" fill="none" stroke-linejoin="round" stroke-dasharray="6.1 6.28" stroke-linecap="butt" stroke-dashoffset="0.43"/><path d="M153.7 1044.18 L153.88 1043.09 L154.07 1041.99 L154.25 1040.88 L154.43 1039.77 L154.62 1038.65 L154.8 1037.53 L154.98 1036.41 L155.17 1035.28 L155.35 1034.15 L155.53 1033.01 L155.72 1031.87 L155.8 1031.32 L155.9 1030.71 L156.08 1029.45 L156.27 1028.12 L156.45 1026.74 L156.63 1025.36 L156.82 1024 L157 1022.7 L157.18 1021.48 L157.37 1020.39 L157.55 1019.46 L157.73 1018.72 L157.82 1018.45 L157.92 1018.17 L158.1 1017.65 L158.28 1017.15 L158.47 1016.66 L158.65 1016.19 L158.83 1015.75 L159.02 1015.33 L159.2 1014.94 L159.38 1014.57 L159.57 1014.24 L159.75 1013.95 L159.93 1013.7 L160.12 1013.48 L160.3 1013.31 L160.48 1013.19 L160.67 1013.11 L160.84 1013.09 L160.85 1013.09 L161.03 1013.59 L161.22 1014.84 L161.4 1016.67 L161.58 1018.87 L161.77 1021.28 L161.95 1023.71 L162.13 1025.97 L162.32 1027.88 L162.49 1029.17 L162.5 1029.26 L162.68 1030.28 L162.87 1031.15 L163.05 1031.92 L163.23 1032.59 L163.42 1033.2 L163.6 1033.78 L163.78 1034.34 L163.97 1034.91 L164.15 1035.52 L164.33 1036.2 L164.52 1036.96 L164.7 1037.83 L164.88 1038.85 L165.05 1039.9 L165.07 1040.02 L165.25 1041.13 L165.43 1042.33 L165.62 1044.05 L165.8 1046.71 L165.98 1050.74 L166.05 1052.76 L166.15 1065.63 L166.17 1066.12 L166.35 1069.53 L166.53 1071.64 L166.72 1072.91 L166.9 1073.85 L167.08 1074.92 L167.24 1076.35 L167.27 1076.61 L167.45 1078.85 L167.63 1081.32 L167.82 1083.85 L168 1086.3 L168.18 1088.5 L168.25 1089.22 L168.37 1090.38 L168.55 1092.14 L168.73 1093.8 L168.92 1095.38 L169.1 1096.89 L169.28 1098.32 L169.47 1099.69 L169.65 1101 L169.81 1102.09 L169.83 1102.27 L170.02 1103.51 L170.2 1104.74 L170.38 1105.95 L170.57 1107.13 L170.75 1108.27 L170.93 1109.36 L171.12 1110.41 L171.3 1111.38 L171.48 1112.29 L171.67 1113.12 L171.85 1113.87 L171.91 1114.1 L172.03 1114.53 L172.22 1115.17 L172.4 1115.79 L172.58 1116.39 L172.77 1116.96 L172.95 1117.52 L173.13 1118.05 L173.32 1118.57 L173.5 1119.07 L173.68 1119.55 L173.87 1120.02 L174.05 1120.48 L174.23 1120.92 L174.42 1121.34 L174.6 1121.76 L174.78 1122.16 L174.97 1122.55 L175.15 1122.93 L175.33 1123.31 L175.52 1123.67 L175.7 1124.03 L175.88 1124.38 L176.07 1124.73 L176.25 1125.07 L176.43 1125.41 L176.58 1125.68 L176.62 1125.75 L176.8 1126.08 L176.98 1126.4 L177.17 1126.73 L177.35 1127.05 L177.53 1127.36 L177.72 1127.67 L177.9 1127.98 L178.08 1128.28 L178.27 1128.57 L178.45 1128.87 L178.63 1129.16 L178.82 1129.44 L179 1129.72 L179.18 1130 L179.37 1130.27 L179.55 1130.54 L179.73 1130.8 L179.92 1131.06 L180.1 1131.32 L180.28 1131.57 L180.47 1131.82 L180.65 1132.06 L180.83 1132.3 L181.02 1132.54 L181.2 1132.77 L181.38 1133 L181.57 1133.23 L181.75 1133.45 L181.93 1133.67 L182.12 1133.88 L182.3 1134.09 L182.48 1134.3 L182.67 1134.5 L182.85 1134.7 L183.03 1134.9 L183.22 1135.09 L183.4 1135.28 L183.44 1135.33 L183.58 1135.47 L183.77 1135.66 L183.95 1135.85 L184.13 1136.04 L184.32 1136.24 L184.5 1136.43 L184.68 1136.63 L184.87 1136.83 L185.05 1137.02 L185.23 1137.22 L185.42 1137.42 L185.6 1137.62 L185.78 1137.81 L185.97 1138.01 L186.15 1138.2 L186.33 1138.4 L186.52 1138.59 L186.7 1138.78 L186.88 1138.97 L187.07 1139.16 L187.25 1139.34 L187.43 1139.53 L187.62 1139.71 L187.8 1139.89 L187.98 1140.06 L188.17 1140.23 L188.35 1140.4 L188.53 1140.56 L188.72 1140.72 L188.9 1140.88 L189.08 1141.03 L189.27 1141.18 L189.45 1141.32 L189.63 1141.46 L189.82 1141.59 L190 1141.72 L190.18 1141.84 L190.37 1141.95 L190.55 1142.06 L190.73 1142.17 L190.92 1142.26 L191.1 1142.35 L191.28 1142.43 L191.47 1142.51 L191.65 1142.58 L191.83 1142.64 L192.02 1142.69 L192.2 1142.74 L192.38 1142.77 L192.57 1142.8 L192.75 1142.82 L192.93 1142.83 L193.05 1142.83 L193.12 1142.83 L193.3 1142.8 L193.48 1142.73 L193.67 1142.64 L193.85 1142.5 L194.03 1142.34 L194.22 1142.14 L194.4 1141.92 L194.58 1141.66 L194.77 1141.37 L194.95 1141.06 L195.13 1140.71 L195.32 1140.34 L195.5 1139.94 L195.68 1139.51 L195.87 1139.06 L196.05 1138.58 L196.23 1138.08 L196.42 1137.56 L196.6 1137.01 L196.78 1136.44 L196.97 1135.85 L197.15 1135.23 L197.33 1134.6 L197.52 1133.95 L197.7 1133.27 L197.88 1132.58 L198.07 1131.88 L198.25 1131.15 L198.43 1130.41 L198.54 1129.96 L198.62 1129.62 L198.8 1128.48 L198.98 1127.02 L199.17 1125.33 L199.35 1123.54 L199.53 1121.73 L199.72 1120.01 L199.9 1118.49 L199.92 1118.38 L200.08 1117.19 L200.27 1116.01 L200.45 1114.92 L200.63 1113.87 L200.82 1112.83 L201 1111.77 L201.18 1110.64 L201.37 1109.4 L201.55 1108.03 L201.73 1106.48 L201.75 1106.38 L201.92 1104.7 L202.1 1102.65 L202.28 1100.3 L202.47 1097.61 L202.65 1094.54 L202.66 1094.37 L202.83 1090.13 L203.02 1084.95 L203.12 1082.79 L203.2 1081.4 L203.38 1078.44 L203.57 1075.73 L203.75 1073.39 L203.93 1071.54 L204.12 1070.3 L204.22 1069.92 L204.3 1069.7 L204.48 1069.24 L204.67 1068.81 L204.85 1068.43 L205.03 1068.07 L205.22 1067.76 L205.4 1067.48 L205.58 1067.23 L205.77 1067.02 L205.95 1066.84 L206.13 1066.7 L206.32 1066.6 L206.5 1066.53 L206.68 1066.49 L206.78 1066.49 L206.87 1066.49 L207.05 1066.49 L207.23 1066.49 L207.42 1066.49 L207.6 1066.49 L207.78 1066.49 L207.97 1066.49 L208.15 1066.49 L208.33 1066.49 L208.52 1066.49 L208.7 1066.49 L208.88 1066.49 L209.07 1066.49 L209.25 1066.49 L209.43 1066.49 L209.62 1066.49 L209.8 1066.49 L209.98 1066.49 L210.17 1066.49 L210.35 1066.49 L210.53 1066.49 L210.72 1066.49 L210.9 1066.49 L211.08 1066.49 L211.27 1066.49 L211.45 1066.49 L211.63 1066.49 L211.82 1066.49 L212 1066.49 L212.18 1066.49 L212.37 1066.49 L212.55 1066.49 L212.73 1066.49 L212.92 1066.49 L213.1 1066.49 L213.28 1066.49 L213.47 1066.49 L213.65 1066.49 L213.83 1066.49 L214.02 1066.49 L214.2 1066.49 L214.38 1066.49 L214.57 1066.49 L214.75 1066.49 L214.93 1066.49 L215.12 1066.49 L215.3 1066.49 L215.48 1066.49 L215.67 1066.49 L215.85 1066.49 L216.03 1066.49 L216.22 1066.49 L216.4 1066.49 L216.58 1066.49 L216.77 1066.49 L216.95 1066.49 L217.13 1066.49 L217.32 1066.49 L217.5 1066.49 L217.68 1066.49 L217.87 1066.49 L218.05 1066.49 L218.23 1066.49 L218.42 1066.49 L218.6 1066.49 L218.78 1066.49 L218.97 1066.49 L219.15 1066.49 L219.33 1066.49 L219.52 1066.49 L219.7 1066.49 L219.88 1066.49 L220.07 1066.49 L220.25 1066.49 L220.43 1066.49 L220.62 1066.49 L220.8 1066.49 L220.98 1066.49 L221.17 1066.49 L221.35 1066.49 L221.53 1066.49 L221.72 1066.49 L221.9 1066.49 L222.08 1066.49 L222.27 1066.49 L222.45 1066.49 L222.63 1066.49 L222.82 1066.49 L223 1066.49 L223.18 1066.49 L223.37 1066.49 L223.55 1066.49 L223.73 1066.49 L223.92 1066.49 L224.1 1066.49 L224.28 1066.49 L224.47 1066.49 L224.65 1066.49 L224.83 1066.49 L225.02 1066.49 L225.2 1066.49 L225.38 1066.49 L225.57 1066.49 L225.75 1066.49 L225.93 1066.49 L226.12 1066.49 L226.3 1066.49 L226.48 1066.49 L226.67 1066.49 L226.85 1066.49 L227.03 1066.49 L227.22 1066.49 L227.4 1066.49 L227.58 1066.49 L227.77 1066.49 L227.95 1066.49 L228.13 1066.49 L228.32 1066.49 L228.5 1066.49 L228.68 1066.49 L228.87 1066.49 L229.05 1066.49 L229.23 1066.49 L229.42 1066.49 L229.6 1066.49 L229.78 1066.49 L229.97 1066.49 L230.15 1066.49 L230.33 1066.49 L230.52 1066.49 L230.7 1066.49 L230.88 1066.49 L231.07 1066.49 L231.25 1066.49 L231.43 1066.49 L231.62 1066.49 L231.8 1066.49 L231.98 1066.49 L232.17 1066.49 L232.35 1066.49 L232.53 1066.49 L232.72 1066.49 L232.9 1066.49 L233.08 1066.49 L233.27 1066.49 L233.45 1066.49 L233.63 1066.49 L233.82 1066.49 L234 1066.49 L234.18 1066.49 L234.37 1066.49 L234.55 1066.49 L234.73 1066.49 L234.92 1066.49 L235.1 1066.49 L235.28 1066.49 L235.47 1066.49 L235.65 1066.49 L235.83 1066.49 L236.02 1066.49 L236.2 1066.49 L236.38 1066.49 L236.57 1066.49 L236.75 1066.49 L236.93 1066.49 L237.12 1066.49 L237.3 1066.49 L237.48 1066.49 L237.67 1066.49 L237.85 1066.49 L238.03 1066.49 L238.22 1066.49 L238.4 1066.49 L238.58 1066.49 L238.77 1066.49 L238.95 1066.49 L239.13 1066.49 L239.32 1066.49 L239.5 1066.49 L239.68 1066.49 L239.87 1066.49 L240.05 1066.49 L240.23 1066.49 L240.42 1066.49 L240.6 1066.49 L240.78 1066.49 L240.97 1066.49 L241.15 1066.49 L241.33 1066.49 L241.52 1066.49 L241.7 1066.49 L241.88 1066.49 L242.07 1066.49 L242.25 1066.49 L242.43 1066.49 L242.62 1066.49 L242.8 1066.49 L242.98 1066.49 L243.17 1066.49 L243.35 1066.49 L243.53 1066.49 L243.72 1066.49 L243.9 1066.49 L244.08 1066.49 L244.27 1066.49 L244.45 1066.49 L244.63 1066.49 L244.82 1066.49 L245 1066.49 L245.18 1066.49 L245.37 1066.49 L245.55 1066.49 L245.73 1066.49 L245.92 1066.49 L246.1 1066.49 L246.28 1066.49 L246.47 1066.49 L246.65 1066.49 L246.83 1066.49 L247.02 1066.49 L247.2 1066.49 L247.38 1066.49 L247.57 1066.49 L247.75 1066.49 L247.93 1066.49 L248.12 1066.49 L248.3 1066.49 L248.48 1066.49 L248.67 1066.49 L248.85 1066.49 L249.03 1066.49 L249.22 1066.49 L249.4 1066.49 L249.58 1066.49 L249.77 1066.49 L249.95 1066.49 L250.13 1066.49 L250.32 1066.49 L250.5 1066.49 L250.68 1066.49 L250.87 1066.49 L251.05 1066.49 L251.23 1066.49 L251.42 1066.49 L251.6 1066.49 L251.78 1066.49 L251.97 1066.49 L252.15 1066.49 L252.33 1066.49 L252.52 1066.49 L252.7 1066.49 L252.88 1066.49 L253.07 1066.49 L253.25 1066.49 L253.43 1066.49 L253.62 1066.49 L253.8 1066.49 L253.98 1066.49 L254.17 1066.49 L254.35 1066.49 L254.53 1066.49 L254.72 1066.49 L254.9 1066.49 L255.08 1066.49 L255.27 1066.49 L255.45 1066.49 L255.63 1066.49 L255.82 1066.49 L256 1066.49 L256.18 1066.49 L256.37 1066.49 L256.55 1066.49 L256.73 1066.49 L256.92 1066.49 L257.1 1066.49 L257.28 1066.49 L257.47 1066.49 L257.65 1066.49 L257.83 1066.49 L258.02 1066.49 L258.2 1066.49 L258.38 1066.49 L258.57 1066.49 L258.75 1066.49 L258.93 1066.49 L259.12 1066.49 L259.3 1066.49 L259.48 1066.49 L259.67 1066.49 L259.85 1066.49 L260.03 1066.49 L260.22 1066.49 L260.4 1066.49 L260.58 1066.49 L260.77 1066.49 L260.95 1066.49 L261.13 1066.49 L261.32 1066.49 L261.5 1066.49 L261.68 1066.49 L261.87 1066.49 L262.05 1066.49 L262.23 1066.49 L262.42 1066.49 L262.6 1066.49 L262.78 1066.49 L262.97 1066.49 L263.15 1066.49 L263.33 1066.49 L263.52 1066.49 L265.73 1066.49 L267.93 1066.49 L270.14 1066.49 L272.35 1066.49 L274.55 1066.49 L276.76 1066.49 L278.97 1066.49 L281.18 1066.49 L283.38 1066.49 L285.59 1066.49 L287.8 1066.49 L290.01 1066.49 L292.21 1066.49 L294.42 1066.49 L296.63 1066.49 L298.84 1066.49 L301.04 1066.49 L303.25 1066.49 L305.46 1066.49 L307.67 1066.49 L309.87 1066.49 L312.08 1066.49 L314.29 1066.49 L316.5 1066.49 L318.7 1066.49 L320.91 1066.49 L323.12 1066.49 L325.33 1066.49 L327.53 1066.49 L329.74 1066.49 L331.95 1066.49 L334.15 1066.49 L336.36 1066.49 L338.57 1066.49 L340.78 1066.49 L342.98 1066.49 L345.19 1066.49 L347.4 1066.49 L349.61 1066.49 L351.81 1066.49 L354.02 1066.49 L356.23 1066.49 L358.44 1066.49 L360.64 1066.49 L362.85 1066.49 L365.06 1066.49 L367.27 1066.49 L369.47 1066.49 L371.68 1066.49 L373.89 1066.49 L376.1 1066.49 L378.3 1066.49 L380.51 1066.49 L382.72 1066.49 L384.92 1066.49 L387.13 1066.49 L389.34 1066.49 L391.55 1066.49 L393.75 1066.49 L395.96 1066.49 L398.17 1066.49 L400.38 1066.49 L402.58 1066.49 L404.79 1066.49 L407 1066.49 L409.21 1066.49 L411.41 1066.49 L413.62 1066.49 L415.83 1066.49 L418.04 1066.49 L420.24 1066.49 L422.45 1066.49 L424.66 1066.49 L426.87 1066.49 L429.07 1066.49 L431.28 1066.49 L433.49 1066.49 L435.69 1066.49 L437.9 1066.49 L440.11 1066.49 L442.32 1066.49 L444.52 1066.49 L446.73 1066.49 L448.94 1066.49 L451.15 1066.49 L453.35 1066.49 L455.56 1066.49 L457.77 1066.49 L459.98 1066.49 L462.18 1066.49 L464.39 1066.49 L466.6 1066.49 L468.81 1066.49 L471.01 1066.49 L473.22 1066.49 L475.43 1066.49 L477.64 1066.49 L479.84 1066.49 L482.05 1066.49 L484.26 1066.49 L486.47 1066.49 L488.67 1066.49 L490.88 1066.49 L493.09 1066.49 L495.29 1066.49 L497.5 1066.49 L499.71 1066.49 L501.92 1066.49 L504.12 1066.49 L506.33 1066.49 L508.54 1066.49 L510.75 1066.49 L512.95 1066.49 L515.16 1066.49 L517.37 1066.49 L519.58 1066.49 L521.78 1066.49 L523.99 1066.49 L526.2 1066.49 L528.41 1066.49 L530.61 1066.49 L532.82 1066.49 L535.03 1066.49 L537.24 1066.49 L539.44 1066.49 L541.65 1066.49 L543.86 1066.49 L546.06 1066.49 L548.27 1066.49 L550.48 1066.49 L552.69 1066.49 L554.89 1066.49 L557.1 1066.49 L559.31 1066.49 L561.52 1066.49 L563.72 1066.49 L565.93 1066.49 L568.14 1066.49 L570.35 1066.49 L572.55 1066.49 L574.76 1066.49 L576.97 1066.49 L579.18 1066.49 L581.38 1066.49 L583.59 1066.49 L585.8 1066.49 L588.01 1066.49 L590.21 1066.49 L592.42 1066.49 L594.63 1066.49 L596.83 1066.49 L599.04 1066.49 L601.25 1066.49 L603.46 1066.49 L605.66 1066.49 L607.87 1066.49 L610.08 1066.49 L612.29 1066.49 L614.49 1066.49 L616.7 1066.49 L618.91 1066.49 L621.12 1066.49 L623.32 1066.49 L625.53 1066.49 L627.74 1066.49 L629.95 1066.49 L632.15 1066.49 L634.36 1066.49 L636.57 1066.49 L638.78 1066.49 L640.98 1066.49 L643.19 1066.49 L645.4 1066.49 L647.61 1066.49 L649.81 1066.49 L652.02 1066.49 L654.23 1066.49 L656.43 1066.49 L658.64 1066.49 L660.85 1066.49 L663.06 1066.49 L665.26 1066.49 L667.47 1066.49 L669.68 1066.49 L671.89 1066.49 L674.09 1066.49 L676.3 1066.49 L678.51 1066.49 L680.72 1066.49 L682.92 1066.49 L685.13 1066.49 L687.34 1066.49 L689.55 1066.49 L691.75 1066.49 L693.96 1066.49 L696.17 1066.49 L698.38 1066.49 L700.58 1066.49 L702.79 1066.49 L724.51 1066.49 L746.22 1066.49 L767.94 1066.49 L789.65 1066.49 L811.37 1066.49 L833.08 1066.49 L854.8 1066.49 L876.51 1066.49 L898.23 1066.49 L919.94 1066.49 L941.66 1066.49 L963.38 1066.49 L985.09 1066.49 L1006.81 1066.49 L1028.52 1066.49 L1050.24 1066.49 L1071.95 1066.49 L1093.67 1066.49 L1115.38 1066.49 L1137.1 1066.49 L1158.81 1066.49 L1180.53 1066.49 L1202.24 1066.49 L1223.96 1066.49 L1245.68 1066.49 L1267.39 1066.49 L1289.11 1066.49 L1310.82 1066.49 L1332.54 1066.49 L1354.25 1066.49 L1375.97 1066.49 L1397.68 1066.49 L1419.4 1066.49 L1441.11 1066.49 L1462.83 1066.49 L1484.55 1066.49 L1506.26 1066.49 L1527.98 1066.49 L1549.69 1066.49 L1571.41 1066.49 L1593.12 1066.49 L1614.84 1066.49 L1636.55 1066.49 L1658.27 1066.49 L1679.98 1066.49 L1701.7 1066.49 L1723.41 1066.49 L1745.13 1066.49 L1766.85 1066.49 L1788.56 1066.49 L1810.28 1066.49 L1831.99 1066.49 L1853.71 1066.49 L1875.42 1066.49 L1897.14 1066.49 L1918.85 1066.49 L1940.57 1066.49 L1962.28 1066.49 L1984 1066.49" stroke="#EDB120" stroke-width="8.3" fill="none" stroke-linejoin="round" stroke-dasharray="6.1 6.28" stroke-linecap="butt" stroke-dashoffset="2.99"/>
<path d="M153.7 1551.5 L153.7 1981 L1984 1981" stroke="#000" stroke-width="4.5" fill="none" stroke-linecap="square" stroke-linejoin="miter"/><path d="M336.73 1981 V1960.5 M519.76 1981 V1960.5 M702.79 1981 V1960.5 M885.82 1981 V1960.5 M1068.85 1981 V1960.5 M1251.88 1981 V1960.5 M1434.91 1981 V1960.5 M1617.94 1981 V1960.5 M1800.97 1981 V1960.5 M1984 1981 V1960.5 M153.7 1981 H174.2 M153.7 1873.62 H174.2 M153.7 1766.25 H174.2 M153.7 1658.88 H174.2 M153.7 1551.5 H174.2" stroke="#000" stroke-width="3.6" fill="none"/><g font-size="64" fill="#000"><text x="153.7" y="2050" text-anchor="middle">0</text><text x="336.73" y="2050" text-anchor="middle">2</text><text x="519.76" y="2050" text-anchor="middle">4</text><text x="702.79" y="2050" text-anchor="middle">6</text><text x="885.82" y="2050" text-anchor="middle">8</text><text x="1068.85" y="2050" text-anchor="middle">10</text><text x="1251.88" y="2050" text-anchor="middle">12</text><text x="1434.91" y="2050" text-anchor="middle">14</text><text x="1617.94" y="2050" text-anchor="middle">16</text><text x="1800.97" y="2050" text-anchor="middle">18</text><text x="1984" y="2050" text-anchor="middle">20</text><text x="131" y="2002" text-anchor="end">−5</text><text x="131" y="1894.62" text-anchor="end">0</text><text x="131" y="1787.25" text-anchor="end">5</text><text x="131" y="1679.88" text-anchor="end">10</text><text x="131" y="1572.5" text-anchor="end">15</text><text x="1067.4" y="2121" text-anchor="middle">Time (s)</text><text x="1068.4" y="2187" text-anchor="middle" textLength="650.9" lengthAdjust="spacingAndGlyphs">(c) Actor learning process</text></g>
<path d="M153.7 1596.6 L1984 1596.6" stroke="#000" stroke-width="8.3" fill="none" stroke-linejoin="round" stroke-linecap="butt"/><circle cx="1984" cy="1596.6" r="4.15" fill="#000"/><path d="M153.7 1833.47 L1984 1833.47" stroke="#000" stroke-width="8.3" fill="none" stroke-linejoin="round" stroke-linecap="butt"/><circle cx="1984" cy="1833.47" r="4.15" fill="#000"/><path d="M153.7 1954.37 L1984 1954.37" stroke="#000" stroke-width="8.3" fill="none" stroke-linejoin="round" stroke-linecap="butt"/><circle cx="1984" cy="1954.37" r="4.15" fill="#000"/><path d="M153.7 1873.62 L153.88 1873.86 L154.07 1874.08 L154.25 1874.31 L154.43 1874.53 L154.62 1874.75 L154.8 1874.97 L154.98 1875.18 L155.17 1875.4 L155.35 1875.6 L155.53 1875.81 L155.72 1876.01 L155.9 1876.2 L156.08 1876.39 L156.27 1876.58 L156.45 1876.77 L156.63 1876.95 L156.82 1877.12 L157 1877.29 L157.18 1877.46 L157.37 1877.62 L157.55 1877.78 L157.73 1877.93 L157.92 1878.08 L158.1 1878.22 L158.28 1878.35 L158.28 1878.36 L158.47 1878.49 L158.65 1878.63 L158.83 1878.77 L159.02 1878.91 L159.2 1879.05 L159.38 1879.19 L159.57 1879.33 L159.75 1879.47 L159.93 1879.61 L160.12 1879.74 L160.3 1879.88 L160.48 1880 L160.67 1880.12 L160.85 1880.24 L161.03 1880.35 L161.22 1880.45 L161.4 1880.54 L161.58 1880.63 L161.77 1880.7 L161.95 1880.77 L162.13 1880.83 L162.32 1880.87 L162.5 1880.9 L162.68 1880.92 L162.85 1880.93 L162.87 1880.93 L163.05 1880.91 L163.23 1880.88 L163.42 1880.83 L163.6 1880.75 L163.78 1880.66 L163.97 1880.55 L164.15 1880.42 L164.33 1880.28 L164.52 1880.12 L164.7 1879.94 L164.88 1879.75 L165.07 1879.55 L165.25 1879.34 L165.43 1879.11 L165.62 1878.87 L165.8 1878.62 L165.98 1878.36 L166.17 1878.1 L166.35 1877.82 L166.53 1877.54 L166.72 1877.25 L166.9 1876.96 L167.08 1876.66 L167.27 1876.35 L167.45 1876.05 L167.63 1875.74 L167.82 1875.42 L168 1875.11 L168.18 1874.8 L168.37 1874.49 L168.55 1874.17 L168.73 1873.87 L168.92 1873.56 L169.1 1873.26 L169.28 1872.96 L169.47 1872.66 L169.65 1872.37 L169.83 1872.09 L170.02 1871.82 L170.2 1871.55 L170.38 1871.3 L170.57 1871.05 L170.75 1870.81 L170.93 1870.58 L171.09 1870.4 L171.12 1870.37 L171.3 1870.16 L171.48 1869.96 L171.67 1869.76 L171.85 1869.57 L172.03 1869.38 L172.22 1869.19 L172.4 1869 L172.58 1868.82 L172.77 1868.64 L172.95 1868.47 L173.13 1868.29 L173.32 1868.12 L173.5 1867.95 L173.68 1867.78 L173.87 1867.61 L174.05 1867.44 L174.23 1867.28 L174.42 1867.11 L174.6 1866.95 L174.78 1866.78 L174.97 1866.62 L175.15 1866.46 L175.33 1866.29 L175.52 1866.13 L175.7 1865.96 L175.88 1865.79 L176.07 1865.62 L176.25 1865.45 L176.43 1865.28 L176.62 1865.11 L176.8 1864.93 L176.98 1864.75 L177.17 1864.57 L177.35 1864.39 L177.53 1864.2 L177.72 1864.01 L177.9 1863.82 L178.08 1863.62 L178.27 1863.42 L178.45 1863.22 L178.63 1863.01 L178.82 1862.79 L179 1862.57 L179.18 1862.35 L179.37 1862.12 L179.55 1861.89 L179.73 1861.65 L179.92 1861.4 L180.1 1861.15 L180.24 1860.95 L180.28 1860.89 L180.47 1860.62 L180.65 1860.35 L180.83 1860.06 L181.02 1859.77 L181.2 1859.47 L181.38 1859.16 L181.57 1858.84 L181.75 1858.51 L181.93 1858.17 L182.12 1857.83 L182.3 1857.47 L182.48 1857.11 L182.67 1856.74 L182.85 1856.37 L183.03 1855.99 L183.22 1855.59 L183.4 1855.2 L183.58 1854.79 L183.77 1854.38 L183.95 1853.96 L184.13 1853.54 L184.32 1853.1 L184.5 1852.67 L184.68 1852.22 L184.87 1851.77 L185.05 1851.32 L185.23 1850.85 L185.42 1850.39 L185.6 1849.91 L185.73 1849.57 L185.78 1849.43 L185.97 1848.94 L186.15 1848.43 L186.33 1847.91 L186.52 1847.37 L186.7 1846.81 L186.88 1846.25 L187.07 1845.66 L187.25 1845.07 L187.43 1844.45 L187.62 1843.83 L187.8 1843.19 L187.98 1842.54 L188.17 1841.87 L188.35 1841.2 L188.53 1840.51 L188.72 1839.8 L188.9 1839.09 L189.08 1838.36 L189.27 1837.62 L189.39 1837.12 L189.45 1836.87 L189.63 1836.1 L189.82 1835.3 L190 1834.47 L190.18 1833.61 L190.37 1832.73 L190.55 1831.83 L190.73 1830.9 L190.92 1829.95 L191.1 1828.97 L191.28 1827.97 L191.47 1826.94 L191.65 1825.9 L191.68 1825.74 L191.83 1824.83 L192.02 1823.72 L192.2 1822.57 L192.38 1821.39 L192.57 1820.17 L192.75 1818.91 L192.93 1817.62 L193.12 1816.28 L193.3 1814.9 L193.48 1813.48 L193.51 1813.28 L193.67 1812.02 L193.85 1810.51 L194.03 1808.94 L194.22 1807.3 L194.4 1805.59 L194.58 1803.78 L194.77 1801.86 L194.88 1800.61 L194.95 1799.81 L195.13 1797.36 L195.32 1794.66 L195.5 1791.95 L195.68 1789.47 L195.8 1788.15 L195.87 1787.42 L196.05 1785.67 L196.23 1784.1 L196.42 1782.64 L196.6 1781.24 L196.78 1779.83 L196.97 1778.36 L197.15 1776.75 L197.26 1775.7 L197.33 1774.97 L197.52 1773.05 L197.7 1771.01 L197.88 1768.87 L198.07 1766.64 L198.25 1764.32 L198.27 1764.1 L198.43 1761.95 L198.62 1759.54 L198.8 1757.09 L198.98 1754.59 L199.17 1752.03 L199.35 1749.43 L199.53 1746.77 L199.72 1744.05 L199.9 1741.27 L200.08 1738.42 L200.27 1735.51 L200.45 1732.53 L200.63 1729.47 L200.82 1726.34 L201 1723.13 L201.18 1719.83 L201.29 1717.93 L201.37 1716.43 L201.55 1712.71 L201.73 1708.69 L201.92 1704.41 L202.1 1699.93 L202.28 1695.31 L202.47 1690.6 L202.65 1685.86 L202.83 1681.13 L203.02 1676.48 L203.2 1671.96 L203.38 1667.63 L203.57 1663.54 L203.75 1659.74 L203.93 1656.28 L204.03 1654.58 L204.12 1653.19 L204.3 1650.17 L204.48 1647.17 L204.67 1644.2 L204.85 1641.28 L205.03 1638.42 L205.22 1635.64 L205.4 1632.95 L205.58 1630.35 L205.77 1627.88 L205.95 1625.53 L206.13 1623.32 L206.32 1621.26 L206.5 1619.38 L206.68 1617.68 L206.87 1616.17 L207.05 1614.87 L207.23 1613.79 L207.24 1613.78 L207.42 1612.84 L207.6 1611.9 L207.78 1610.98 L207.97 1610.07 L208.15 1609.19 L208.33 1608.32 L208.52 1607.47 L208.7 1606.65 L208.88 1605.84 L209.07 1605.05 L209.25 1604.29 L209.43 1603.55 L209.62 1602.83 L209.8 1602.14 L209.98 1601.47 L210.17 1600.82 L210.35 1600.21 L210.53 1599.62 L210.72 1599.06 L210.9 1598.52 L211.08 1598.02 L211.27 1597.55 L211.45 1597.11 L211.63 1596.69 L211.82 1596.31 L212 1595.97 L212.18 1595.66 L212.37 1595.38 L212.55 1595.13 L212.73 1594.93 L212.92 1594.76 L213.1 1594.62 L213.28 1594.53 L213.47 1594.47 L213.64 1594.45 L213.65 1594.45 L213.83 1594.45 L214.02 1594.45 L214.2 1594.46 L214.38 1594.47 L214.57 1594.47 L214.75 1594.48 L214.93 1594.49 L215.12 1594.51 L215.3 1594.52 L215.48 1594.54 L215.67 1594.55 L215.85 1594.57 L216.03 1594.59 L216.22 1594.61 L216.4 1594.63 L216.58 1594.65 L216.77 1594.67 L216.95 1594.69 L217.13 1594.72 L217.32 1594.74 L217.5 1594.76 L217.68 1594.79 L217.87 1594.81 L218.05 1594.83 L218.23 1594.86 L218.42 1594.88 L218.6 1594.9 L218.78 1594.93 L218.97 1594.95 L219.15 1594.97 L219.33 1594.99 L219.52 1595.02 L219.7 1595.04 L219.88 1595.06 L220.07 1595.07 L220.25 1595.09 L220.43 1595.11 L220.62 1595.13 L220.8 1595.14 L220.98 1595.15 L221.17 1595.16 L221.35 1595.17 L221.53 1595.18 L221.72 1595.19 L221.9 1595.2 L222.08 1595.2 L222.27 1595.2 L222.34 1595.2 L222.45 1595.2 L222.63 1595.2 L222.82 1595.2 L223 1595.2 L223.18 1595.2 L223.37 1595.2 L223.55 1595.2 L223.73 1595.2 L223.92 1595.2 L224.1 1595.2 L224.28 1595.2 L224.47 1595.2 L224.65 1595.2 L224.83 1595.2 L225.02 1595.2 L225.2 1595.2 L225.38 1595.2 L225.57 1595.2 L225.75 1595.2 L225.93 1595.2 L226.12 1595.2 L226.3 1595.2 L226.48 1595.2 L226.67 1595.2 L226.85 1595.2 L227.03 1595.2 L227.22 1595.2 L227.4 1595.2 L227.58 1595.2 L227.77 1595.2 L227.95 1595.2 L228.13 1595.2 L228.32 1595.2 L228.5 1595.2 L228.68 1595.2 L228.87 1595.2 L229.05 1595.2 L229.23 1595.2 L229.42 1595.2 L229.6 1595.2 L229.78 1595.2 L229.97 1595.2 L230.15 1595.2 L230.33 1595.2 L230.52 1595.2 L230.7 1595.2 L230.88 1595.2 L231.07 1595.2 L231.25 1595.2 L231.43 1595.2 L231.62 1595.2 L231.8 1595.2 L231.98 1595.2 L232.17 1595.2 L232.35 1595.2 L232.53 1595.2 L232.72 1595.2 L232.9 1595.2 L233.08 1595.2 L233.27 1595.2 L233.45 1595.2 L233.63 1595.2 L233.82 1595.2 L234 1595.2 L234.18 1595.2 L234.37 1595.2 L234.55 1595.2 L234.73 1595.2 L234.92 1595.2 L235.1 1595.2 L235.28 1595.2 L235.47 1595.2 L235.65 1595.2 L235.83 1595.2 L236.02 1595.2 L236.2 1595.2 L236.38 1595.2 L236.57 1595.2 L236.75 1595.2 L236.93 1595.2 L237.12 1595.2 L237.3 1595.2 L237.48 1595.2 L237.67 1595.2 L237.85 1595.2 L238.03 1595.2 L238.22 1595.2 L238.4 1595.2 L238.58 1595.2 L238.77 1595.2 L238.95 1595.2 L239.13 1595.2 L239.32 1595.2 L239.5 1595.2 L239.68 1595.2 L239.87 1595.2 L240.05 1595.2 L240.23 1595.2 L240.42 1595.2 L240.6 1595.2 L240.78 1595.2 L240.97 1595.2 L241.15 1595.2 L241.33 1595.2 L241.52 1595.2 L241.7 1595.2 L241.88 1595.2 L242.07 1595.2 L242.25 1595.2 L242.43 1595.2 L242.62 1595.2 L242.8 1595.2 L242.98 1595.2 L243.17 1595.2 L243.35 1595.2 L243.53 1595.2 L243.72 1595.2 L243.9 1595.2 L244.08 1595.2 L244.27 1595.2 L244.45 1595.2 L244.63 1595.2 L244.82 1595.2 L245 1595.2 L245.18 1595.2 L245.37 1595.2 L245.55 1595.2 L245.73 1595.2 L245.92 1595.2 L246.1 1595.2 L246.28 1595.2 L246.47 1595.2 L246.65 1595.2 L246.83 1595.2 L247.02 1595.2 L247.2 1595.2 L247.38 1595.2 L247.57 1595.2 L247.75 1595.2 L247.93 1595.2 L248.12 1595.2 L248.3 1595.2 L248.48 1595.2 L248.67 1595.2 L248.85 1595.2 L249.03 1595.2 L249.22 1595.2 L249.4 1595.2 L249.58 1595.2 L249.77 1595.2 L249.95 1595.2 L250.13 1595.2 L250.32 1595.2 L250.5 1595.2 L250.68 1595.2 L250.87 1595.2 L251.05 1595.2 L251.23 1595.2 L251.42 1595.2 L251.6 1595.2 L251.78 1595.2 L251.97 1595.2 L252.15 1595.2 L252.33 1595.2 L252.52 1595.2 L252.7 1595.2 L252.88 1595.2 L253.07 1595.2 L253.25 1595.2 L253.43 1595.2 L253.62 1595.2 L253.8 1595.2 L253.98 1595.2 L254.17 1595.2 L254.35 1595.2 L254.53 1595.2 L254.72 1595.2 L254.9 1595.2 L255.08 1595.2 L255.27 1595.2 L255.45 1595.2 L255.63 1595.2 L255.82 1595.2 L256 1595.2 L256.18 1595.2 L256.37 1595.2 L256.55 1595.2 L256.73 1595.2 L256.92 1595.2 L257.1 1595.2 L257.28 1595.2 L257.47 1595.2 L257.65 1595.2 L257.83 1595.2 L258.02 1595.2 L258.2 1595.2 L258.38 1595.2 L258.57 1595.2 L258.75 1595.2 L258.93 1595.2 L259.12 1595.2 L259.3 1595.2 L259.48 1595.2 L259.67 1595.2 L259.85 1595.2 L260.03 1595.2 L260.22 1595.2 L260.4 1595.2 L260.58 1595.2 L260.77 1595.2 L260.95 1595.2 L261.13 1595.2 L261.32 1595.2 L261.5 1595.2 L261.68 1595.2 L261.87 1595.2 L262.05 1595.2 L262.23 1595.2 L262.42 1595.2 L262.6 1595.2 L262.78 1595.2 L262.97 1595.2 L263.15 1595.2 L263.33 1595.2 L263.52 1595.2 L265.73 1595.2 L267.93 1595.2 L270.14 1595.2 L272.35 1595.2 L274.55 1595.2 L276.76 1595.2 L278.97 1595.2 L281.18 1595.2 L283.38 1595.2 L285.59 1595.2 L287.8 1595.2 L290.01 1595.2 L292.21 1595.2 L294.42 1595.2 L296.63 1595.2 L298.84 1595.2 L301.04 1595.2 L303.25 1595.2 L305.46 1595.2 L307.67 1595.2 L309.87 1595.2 L312.08 1595.2 L314.29 1595.2 L316.5 1595.2 L318.7 1595.2 L320.91 1595.2 L323.12 1595.2 L325.33 1595.2 L327.53 1595.2 L329.74 1595.2 L331.95 1595.2 L334.15 1595.2 L336.36 1595.2 L338.57 1595.2 L340.78 1595.2 L342.98 1595.2 L345.19 1595.2 L347.4 1595.2 L349.61 1595.2 L351.81 1595.2 L354.02 1595.2 L356.23 1595.2 L358.44 1595.2 L360.64 1595.2 L362.85 1595.2 L365.06 1595.2 L367.27 1595.2 L369.47 1595.2 L371.68 1595.2 L373.89 1595.2 L376.1 1595.2 L378.3 1595.2 L380.51 1595.2 L382.72 1595.2 L384.92 1595.2 L387.13 1595.2 L389.34 1595.2 L391.55 1595.2 L393.75 1595.2 L395.96 1595.2 L398.17 1595.2 L400.38 1595.2 L402.58 1595.2 L404.79 1595.2 L407 1595.2 L409.21 1595.2 L411.41 1595.2 L413.62 1595.2 L415.83 1595.2 L418.04 1595.2 L420.24 1595.2 L422.45 1595.2 L424.66 1595.2 L426.87 1595.2 L429.07 1595.2 L431.28 1595.2 L433.49 1595.2 L435.69 1595.2 L437.9 1595.2 L440.11 1595.2 L442.32 1595.2 L444.52 1595.2 L446.73 1595.2 L448.94 1595.2 L451.15 1595.2 L453.35 1595.2 L455.56 1595.2 L457.77 1595.2 L459.98 1595.2 L462.18 1595.2 L464.39 1595.2 L466.6 1595.2 L468.81 1595.2 L471.01 1595.2 L473.22 1595.2 L475.43 1595.2 L477.64 1595.2 L479.84 1595.2 L482.05 1595.2 L484.26 1595.2 L486.47 1595.2 L488.67 1595.2 L490.88 1595.2 L493.09 1595.2 L495.29 1595.2 L497.5 1595.2 L499.71 1595.2 L501.92 1595.2 L504.12 1595.2 L506.33 1595.2 L508.54 1595.2 L510.75 1595.2 L512.95 1595.2 L515.16 1595.2 L517.37 1595.2 L519.58 1595.2 L521.78 1595.2 L523.99 1595.2 L526.2 1595.2 L528.41 1595.2 L530.61 1595.2 L532.82 1595.2 L535.03 1595.2 L537.24 1595.2 L539.44 1595.2 L541.65 1595.2 L543.86 1595.2 L546.06 1595.2 L548.27 1595.2 L550.48 1595.2 L552.69 1595.2 L554.89 1595.2 L557.1 1595.2 L559.31 1595.2 L561.52 1595.2 L563.72 1595.2 L565.93 1595.2 L568.14 1595.2 L570.35 1595.2 L572.55 1595.2 L574.76 1595.2 L576.97 1595.2 L579.18 1595.2 L581.38 1595.2 L583.59 1595.2 L585.8 1595.2 L588.01 1595.2 L590.21 1595.2 L592.42 1595.2 L594.63 1595.2 L596.83 1595.2 L599.04 1595.2 L601.25 1595.2 L603.46 1595.2 L605.66 1595.2 L607.87 1595.2 L610.08 1595.2 L612.29 1595.2 L614.49 1595.2 L616.7 1595.2 L618.91 1595.2 L621.12 1595.2 L623.32 1595.2 L625.53 1595.2 L627.74 1595.2 L629.95 1595.2 L632.15 1595.2 L634.36 1595.2 L636.57 1595.2 L638.78 1595.2 L640.98 1595.2 L643.19 1595.2 L645.4 1595.2 L647.61 1595.2 L649.81 1595.2 L652.02 1595.2 L654.23 1595.2 L656.43 1595.2 L658.64 1595.2 L660.85 1595.2 L663.06 1595.2 L665.26 1595.2 L667.47 1595.2 L669.68 1595.2 L671.89 1595.2 L674.09 1595.2 L676.3 1595.2 L678.51 1595.2 L680.72 1595.2 L682.92 1595.2 L685.13 1595.2 L687.34 1595.2 L689.55 1595.2 L691.75 1595.2 L693.96 1595.2 L696.17 1595.2 L698.38 1595.2 L700.58 1595.2 L702.79 1595.2 L724.51 1595.2 L746.22 1595.2 L767.94 1595.2 L789.65 1595.2 L811.37 1595.2 L833.08 1595.2 L854.8 1595.2 L876.51 1595.2 L898.23 1595.2 L919.94 1595.2 L941.66 1595.2 L963.38 1595.2 L985.09 1595.2 L1006.81 1595.2 L1028.52 1595.2 L1050.24 1595.2 L1071.95 1595.2 L1093.67 1595.2 L1115.38 1595.2 L1137.1 1595.2 L1158.81 1595.2 L1180.53 1595.2 L1202.24 1595.2 L1223.96 1595.2 L1245.68 1595.2 L1267.39 1595.2 L1289.11 1595.2 L1310.82 1595.2 L1332.54 1595.2 L1354.25 1595.2 L1375.97 1595.2 L1397.68 1595.2 L1419.4 1595.2 L1441.11 1595.2 L1462.83 1595.2 L1484.55 1595.2 L1506.26 1595.2 L1527.98 1595.2 L1549.69 1595.2 L1571.41 1595.2 L1593.12 1595.2 L1614.84 1595.2 L1636.55 1595.2 L1658.27 1595.2 L1679.98 1595.2 L1701.7 1595.2 L1723.41 1595.2 L1745.13 1595.2 L1766.85 1595.2 L1788.56 1595.2 L1810.28 1595.2 L1831.99 1595.2 L1853.71 1595.2 L1875.42 1595.2 L1897.14 1595.2 L1918.85 1595.2 L1940.57 1595.2 L1962.28 1595.2 L1984 1595.2" stroke="#0072BD" stroke-width="8.3" fill="none" stroke-linejoin="round" stroke-dasharray="6.1 6.28" stroke-linecap="butt" stroke-dashoffset="11.55"/><path d="M153.7 1911.85 L153.88 1910.19 L154.07 1908.53 L154.25 1906.86 L154.43 1905.19 L154.62 1903.51 L154.8 1901.83 L154.98 1900.15 L155.17 1898.46 L155.35 1896.77 L155.53 1895.1 L155.53 1895.07 L155.72 1893.38 L155.9 1891.68 L156.08 1889.99 L156.27 1888.3 L156.45 1886.59 L156.63 1884.88 L156.82 1883.16 L157 1881.41 L157.18 1879.65 L157.36 1877.92 L157.37 1877.86 L157.55 1875.82 L157.73 1873.46 L157.92 1870.96 L158.1 1868.51 L158.28 1866.29 L158.47 1864.5 L158.65 1863.3 L158.82 1862.89 L158.83 1862.89 L159.02 1862.94 L159.2 1863.08 L159.38 1863.3 L159.57 1863.61 L159.75 1863.99 L159.93 1864.44 L160.12 1864.95 L160.3 1865.53 L160.48 1866.16 L160.67 1866.85 L160.85 1867.58 L161.03 1868.35 L161.22 1869.16 L161.4 1870 L161.58 1870.87 L161.77 1871.77 L161.95 1872.68 L162.13 1873.61 L162.32 1874.54 L162.5 1875.48 L162.68 1876.42 L162.85 1877.28 L162.87 1877.35 L163.05 1878.41 L163.23 1879.64 L163.42 1881 L163.6 1882.46 L163.78 1883.97 L163.97 1885.48 L164.15 1886.96 L164.33 1888.36 L164.5 1889.52 L164.52 1889.64 L164.7 1890.82 L164.88 1891.95 L165.07 1893.04 L165.25 1894.09 L165.43 1895.14 L165.62 1896.17 L165.8 1897.22 L165.98 1898.28 L166.17 1899.37 L166.35 1900.5 L166.51 1901.54 L166.53 1901.68 L166.72 1902.92 L166.9 1904.2 L167.08 1905.51 L167.27 1906.84 L167.45 1908.2 L167.63 1909.58 L167.82 1910.97 L168 1912.36 L168.16 1913.57 L168.18 1913.75 L168.37 1915.22 L168.55 1916.79 L168.73 1918.4 L168.92 1920.01 L169.1 1921.56 L169.28 1923.03 L169.47 1924.34 L169.65 1925.47 L169.72 1925.81 L169.83 1926.41 L170.02 1927.32 L170.2 1928.23 L170.38 1929.13 L170.57 1930.01 L170.75 1930.87 L170.93 1931.7 L171.12 1932.49 L171.3 1933.26 L171.48 1933.98 L171.67 1934.66 L171.85 1935.29 L172.03 1935.87 L172.22 1936.39 L172.4 1936.85 L172.58 1937.24 L172.77 1937.56 L172.95 1937.81 L173.13 1937.98 L173.28 1938.05 L173.32 1938.06 L173.5 1938.11 L173.68 1938.16 L173.87 1938.22 L174.05 1938.26 L174.23 1938.31 L174.42 1938.36 L174.6 1938.4 L174.78 1938.44 L174.97 1938.48 L175.15 1938.52 L175.33 1938.56 L175.52 1938.6 L175.7 1938.64 L175.88 1938.67 L176.07 1938.7 L176.25 1938.73 L176.43 1938.76 L176.62 1938.79 L176.8 1938.82 L176.98 1938.85 L177.17 1938.87 L177.35 1938.9 L177.53 1938.92 L177.72 1938.94 L177.9 1938.96 L178.08 1938.98 L178.27 1939 L178.45 1939.01 L178.63 1939.03 L178.82 1939.04 L179 1939.05 L179.18 1939.07 L179.37 1939.08 L179.55 1939.09 L179.73 1939.09 L179.92 1939.1 L180.1 1939.11 L180.28 1939.11 L180.47 1939.12 L180.65 1939.12 L180.83 1939.12 L181.02 1939.12 L181.15 1939.12 L181.2 1939.12 L181.38 1939.12 L181.57 1939.12 L181.75 1939.11 L181.93 1939.11 L182.12 1939.1 L182.3 1939.09 L182.48 1939.08 L182.67 1939.06 L182.85 1939.05 L183.03 1939.03 L183.22 1939.02 L183.4 1939 L183.58 1938.98 L183.77 1938.96 L183.95 1938.93 L184.13 1938.91 L184.32 1938.88 L184.5 1938.86 L184.68 1938.83 L184.87 1938.8 L185.05 1938.77 L185.23 1938.74 L185.42 1938.71 L185.6 1938.67 L185.78 1938.64 L185.97 1938.6 L186.15 1938.57 L186.33 1938.53 L186.52 1938.5 L186.7 1938.46 L186.88 1938.42 L187.07 1938.38 L187.25 1938.34 L187.43 1938.3 L187.62 1938.26 L187.8 1938.22 L187.98 1938.17 L188.17 1938.13 L188.35 1938.09 L188.53 1938.05 L188.72 1938 L188.9 1937.96 L189.08 1937.92 L189.27 1937.87 L189.45 1937.83 L189.63 1937.78 L189.82 1937.74 L190 1937.69 L190.18 1937.65 L190.37 1937.6 L190.55 1937.56 L190.73 1937.51 L190.92 1937.47 L191.1 1937.43 L191.28 1937.38 L191.47 1937.34 L191.65 1937.29 L191.83 1937.25 L192.02 1937.21 L192.2 1937.17 L192.38 1937.12 L192.57 1937.08 L192.75 1937.04 L192.93 1937 L193.05 1936.98 L193.12 1936.96 L193.3 1936.92 L193.48 1936.88 L193.67 1936.83 L193.85 1936.79 L194.03 1936.74 L194.22 1936.69 L194.4 1936.64 L194.58 1936.59 L194.77 1936.54 L194.95 1936.48 L195.13 1936.43 L195.32 1936.37 L195.5 1936.31 L195.68 1936.25 L195.87 1936.2 L196.05 1936.14 L196.23 1936.08 L196.42 1936.01 L196.6 1935.95 L196.78 1935.89 L196.97 1935.83 L197.15 1935.77 L197.33 1935.7 L197.52 1935.64 L197.7 1935.58 L197.88 1935.51 L198.07 1935.45 L198.25 1935.39 L198.43 1935.33 L198.62 1935.26 L198.8 1935.2 L198.98 1935.14 L199.17 1935.08 L199.35 1935.02 L199.53 1934.96 L199.72 1934.9 L199.9 1934.84 L200.08 1934.78 L200.27 1934.72 L200.45 1934.66 L200.63 1934.61 L200.82 1934.55 L201 1934.5 L201.18 1934.45 L201.37 1934.4 L201.55 1934.35 L201.73 1934.3 L201.92 1934.25 L202.1 1934.21 L202.28 1934.16 L202.47 1934.12 L202.65 1934.08 L202.83 1934.04 L203.02 1934.01 L203.2 1933.97 L203.38 1933.94 L203.57 1933.91 L203.75 1933.88 L203.93 1933.86 L204.12 1933.83 L204.3 1933.81 L204.48 1933.79 L204.67 1933.78 L204.85 1933.76 L204.95 1933.76 L205.03 1933.75 L205.22 1933.74 L205.4 1933.73 L205.58 1933.72 L205.77 1933.71 L205.95 1933.7 L206.13 1933.69 L206.32 1933.68 L206.5 1933.67 L206.68 1933.66 L206.87 1933.65 L207.05 1933.64 L207.23 1933.63 L207.42 1933.62 L207.6 1933.61 L207.78 1933.6 L207.97 1933.59 L208.15 1933.58 L208.33 1933.57 L208.52 1933.56 L208.7 1933.55 L208.88 1933.54 L209.07 1933.54 L209.25 1933.53 L209.43 1933.52 L209.62 1933.51 L209.8 1933.5 L209.98 1933.5 L210.17 1933.49 L210.35 1933.48 L210.53 1933.47 L210.72 1933.47 L210.9 1933.46 L211.08 1933.45 L211.27 1933.45 L211.45 1933.44 L211.63 1933.43 L211.82 1933.43 L212 1933.42 L212.18 1933.42 L212.37 1933.41 L212.55 1933.41 L212.73 1933.4 L212.92 1933.39 L213.1 1933.39 L213.28 1933.38 L213.47 1933.38 L213.65 1933.38 L213.83 1933.37 L214.02 1933.37 L214.2 1933.36 L214.38 1933.36 L214.57 1933.36 L214.75 1933.35 L214.93 1933.35 L215.12 1933.35 L215.3 1933.34 L215.48 1933.34 L215.67 1933.34 L215.85 1933.34 L216.03 1933.33 L216.22 1933.33 L216.4 1933.33 L216.58 1933.33 L216.77 1933.33 L216.95 1933.33 L217.13 1933.33 L217.32 1933.33 L217.5 1933.33 L217.68 1933.33 L217.76 1933.33 L217.87 1933.33 L218.05 1933.33 L218.23 1933.33 L218.42 1933.33 L218.6 1933.33 L218.78 1933.33 L218.97 1933.33 L219.15 1933.33 L219.33 1933.33 L219.52 1933.33 L219.7 1933.33 L219.88 1933.33 L220.07 1933.33 L220.25 1933.33 L220.43 1933.33 L220.62 1933.33 L220.8 1933.34 L220.98 1933.34 L221.17 1933.34 L221.35 1933.34 L221.53 1933.34 L221.72 1933.34 L221.9 1933.34 L222.08 1933.34 L222.27 1933.35 L222.45 1933.35 L222.63 1933.35 L222.82 1933.35 L223 1933.35 L223.18 1933.36 L223.37 1933.36 L223.55 1933.36 L223.73 1933.36 L223.92 1933.36 L224.1 1933.37 L224.28 1933.37 L224.47 1933.37 L224.65 1933.37 L224.83 1933.37 L225.02 1933.38 L225.2 1933.38 L225.38 1933.38 L225.57 1933.38 L225.75 1933.39 L225.93 1933.39 L226.12 1933.39 L226.3 1933.4 L226.48 1933.4 L226.67 1933.4 L226.85 1933.4 L227.03 1933.41 L227.22 1933.41 L227.4 1933.41 L227.58 1933.42 L227.77 1933.42 L227.95 1933.42 L228.13 1933.42 L228.32 1933.43 L228.5 1933.43 L228.68 1933.43 L228.87 1933.44 L229.05 1933.44 L229.23 1933.44 L229.42 1933.45 L229.6 1933.45 L229.78 1933.45 L229.97 1933.46 L230.15 1933.46 L230.33 1933.46 L230.52 1933.47 L230.7 1933.47 L230.88 1933.47 L231.07 1933.48 L231.25 1933.48 L231.43 1933.48 L231.62 1933.49 L231.8 1933.49 L231.98 1933.5 L232.17 1933.5 L232.35 1933.5 L232.53 1933.51 L232.72 1933.51 L232.9 1933.51 L233.08 1933.52 L233.27 1933.52 L233.45 1933.52 L233.63 1933.53 L233.82 1933.53 L234 1933.54 L234.18 1933.54 L234.37 1933.54 L234.55 1933.55 L234.73 1933.55 L234.92 1933.55 L235.1 1933.56 L235.28 1933.56 L235.47 1933.57 L235.65 1933.57 L235.83 1933.57 L236.02 1933.58 L236.2 1933.58 L236.38 1933.59 L236.57 1933.59 L236.75 1933.59 L236.93 1933.6 L237.12 1933.6 L237.3 1933.6 L237.48 1933.61 L237.67 1933.61 L237.85 1933.62 L238.03 1933.62 L238.22 1933.62 L238.4 1933.63 L238.58 1933.63 L238.77 1933.63 L238.95 1933.64 L239.13 1933.64 L239.32 1933.65 L239.5 1933.65 L239.68 1933.65 L239.87 1933.66 L240.05 1933.66 L240.23 1933.66 L240.42 1933.67 L240.6 1933.67 L240.78 1933.68 L240.97 1933.68 L241.15 1933.68 L241.33 1933.69 L241.52 1933.69 L241.7 1933.69 L241.88 1933.7 L242.07 1933.7 L242.25 1933.7 L242.43 1933.71 L242.62 1933.71 L242.8 1933.71 L242.98 1933.72 L243.17 1933.72 L243.35 1933.72 L243.53 1933.73 L243.72 1933.73 L243.9 1933.73 L244.08 1933.74 L244.27 1933.74 L244.45 1933.74 L244.63 1933.75 L244.82 1933.75 L245 1933.75 L245.18 1933.75 L245.21 1933.76 L245.37 1933.76 L245.55 1933.76 L245.73 1933.76 L245.92 1933.77 L246.1 1933.77 L246.28 1933.77 L246.47 1933.78 L246.65 1933.78 L246.83 1933.78 L247.02 1933.78 L247.2 1933.79 L247.38 1933.79 L247.57 1933.79 L247.75 1933.8 L247.93 1933.8 L248.12 1933.8 L248.3 1933.8 L248.48 1933.81 L248.67 1933.81 L248.85 1933.81 L249.03 1933.82 L249.22 1933.82 L249.4 1933.82 L249.58 1933.83 L249.77 1933.83 L249.95 1933.83 L250.13 1933.83 L250.32 1933.84 L250.5 1933.84 L250.68 1933.84 L250.87 1933.85 L251.05 1933.85 L251.23 1933.85 L251.42 1933.86 L251.6 1933.86 L251.78 1933.86 L251.97 1933.86 L252.15 1933.87 L252.33 1933.87 L252.52 1933.87 L252.7 1933.88 L252.88 1933.88 L253.07 1933.88 L253.25 1933.89 L253.43 1933.89 L253.62 1933.89 L253.8 1933.89 L253.98 1933.9 L254.17 1933.9 L254.35 1933.9 L254.53 1933.91 L254.72 1933.91 L254.9 1933.91 L255.08 1933.92 L255.27 1933.92 L255.45 1933.92 L255.63 1933.92 L255.82 1933.93 L256 1933.93 L256.18 1933.93 L256.37 1933.94 L256.55 1933.94 L256.73 1933.94 L256.92 1933.95 L257.1 1933.95 L257.28 1933.95 L257.47 1933.95 L257.65 1933.96 L257.83 1933.96 L258.02 1933.96 L258.2 1933.97 L258.38 1933.97 L258.57 1933.97 L258.75 1933.98 L258.93 1933.98 L259.12 1933.98 L259.3 1933.99 L259.48 1933.99 L259.67 1933.99 L259.85 1933.99 L260.03 1934 L260.22 1934 L260.4 1934 L260.58 1934.01 L260.77 1934.01 L260.95 1934.01 L261.13 1934.02 L261.32 1934.02 L261.5 1934.02 L261.68 1934.02 L261.87 1934.03 L262.05 1934.03 L262.23 1934.03 L262.42 1934.04 L262.6 1934.04 L262.78 1934.04 L262.97 1934.05 L263.15 1934.05 L263.33 1934.05 L263.52 1934.06 L265.73 1934.09 L267.93 1934.13 L270.14 1934.17 L272.35 1934.21 L274.55 1934.24 L276.76 1934.28 L278.97 1934.32 L281.18 1934.36 L283.38 1934.39 L285.59 1934.43 L287.8 1934.47 L290.01 1934.51 L292.21 1934.54 L294.42 1934.58 L296.63 1934.62 L298.84 1934.66 L301.04 1934.69 L303.25 1934.73 L305.46 1934.77 L307.67 1934.8 L309.87 1934.84 L312.08 1934.88 L314.29 1934.91 L316.5 1934.95 L318.7 1934.98 L320.91 1935.02 L323.12 1935.05 L325.33 1935.09 L327.53 1935.12 L329.74 1935.15 L331.95 1935.19 L334.15 1935.22 L336.36 1935.25 L336.73 1935.26 L338.57 1935.28 L340.78 1935.32 L342.98 1935.35 L345.19 1935.38 L347.4 1935.41 L349.61 1935.44 L351.81 1935.48 L354.02 1935.51 L356.23 1935.54 L358.44 1935.57 L360.64 1935.6 L362.85 1935.63 L365.06 1935.66 L367.27 1935.69 L369.47 1935.72 L371.68 1935.75 L373.89 1935.78 L376.1 1935.81 L378.3 1935.84 L380.51 1935.88 L382.72 1935.91 L384.92 1935.94 L387.13 1935.97 L389.34 1936 L391.55 1936.02 L393.75 1936.05 L395.96 1936.08 L398.17 1936.11 L400.38 1936.14 L402.58 1936.17 L404.79 1936.2 L407 1936.23 L409.21 1936.26 L411.41 1936.29 L413.62 1936.32 L415.83 1936.35 L418.04 1936.38 L420.24 1936.4 L422.45 1936.43 L424.66 1936.46 L426.87 1936.49 L429.07 1936.52 L431.28 1936.55 L433.49 1936.58 L435.69 1936.6 L437.9 1936.63 L440.11 1936.66 L442.32 1936.69 L444.52 1936.72 L446.73 1936.74 L448.94 1936.77 L451.15 1936.8 L453.35 1936.83 L455.56 1936.85 L457.77 1936.88 L459.98 1936.91 L462.18 1936.94 L464.39 1936.96 L466.6 1936.99 L468.81 1937.02 L471.01 1937.05 L473.22 1937.07 L475.43 1937.1 L477.64 1937.13 L479.84 1937.16 L482.05 1937.18 L484.26 1937.21 L486.47 1937.24 L488.67 1937.26 L490.88 1937.29 L493.09 1937.32 L495.29 1937.34 L497.5 1937.37 L499.71 1937.4 L501.92 1937.42 L504.12 1937.45 L506.33 1937.48 L508.54 1937.5 L510.75 1937.53 L512.95 1937.55 L515.16 1937.58 L517.37 1937.61 L519.58 1937.63 L521.78 1937.66 L523.99 1937.69 L526.2 1937.71 L528.41 1937.74 L530.61 1937.76 L532.82 1937.79 L535.03 1937.81 L537.24 1937.84 L539.44 1937.87 L541.65 1937.89 L543.86 1937.92 L546.06 1937.94 L548.27 1937.97 L550.48 1938 L552.69 1938.02 L554.89 1938.05 L557.1 1938.07 L559.31 1938.1 L561.52 1938.12 L563.72 1938.15 L565.93 1938.17 L568.14 1938.2 L570.35 1938.23 L572.55 1938.25 L574.76 1938.28 L576.97 1938.3 L579.18 1938.33 L581.38 1938.35 L583.59 1938.38 L585.8 1938.4 L588.01 1938.43 L590.21 1938.45 L592.42 1938.48 L594.63 1938.5 L596.83 1938.53 L599.04 1938.55 L601.25 1938.58 L603.46 1938.61 L605.66 1938.63 L607.87 1938.66 L610.08 1938.68 L611.27 1938.69 L612.29 1938.71 L614.49 1938.73 L616.7 1938.76 L618.91 1938.78 L621.12 1938.81 L623.32 1938.83 L625.53 1938.86 L627.74 1938.88 L629.95 1938.91 L632.15 1938.93 L634.36 1938.96 L636.57 1938.98 L638.78 1939.01 L640.98 1939.03 L643.19 1939.06 L645.4 1939.08 L647.61 1939.11 L649.81 1939.13 L652.02 1939.16 L654.23 1939.18 L656.43 1939.21 L658.64 1939.23 L660.85 1939.26 L663.06 1939.28 L665.26 1939.31 L667.47 1939.33 L669.68 1939.36 L671.89 1939.38 L674.09 1939.41 L676.3 1939.43 L678.51 1939.46 L680.72 1939.48 L682.92 1939.5 L685.13 1939.53 L687.34 1939.55 L689.55 1939.58 L691.75 1939.6 L693.96 1939.63 L696.17 1939.65 L698.38 1939.68 L700.58 1939.7 L702.79 1939.73 L724.51 1939.97 L746.22 1940.21 L767.94 1940.44 L789.65 1940.68 L811.37 1940.91 L833.08 1941.14 L854.8 1941.37 L876.51 1941.59 L898.23 1941.81 L919.94 1942.03 L941.66 1942.24 L963.38 1942.45 L985.09 1942.66 L1006.81 1942.86 L1028.52 1943.06 L1050.24 1943.26 L1068.85 1943.42 L1071.95 1943.45 L1093.67 1943.63 L1115.38 1943.82 L1137.1 1944 L1158.81 1944.18 L1180.53 1944.36 L1202.24 1944.53 L1223.96 1944.7 L1245.68 1944.87 L1267.39 1945.04 L1289.11 1945.2 L1310.82 1945.36 L1332.54 1945.52 L1354.25 1945.68 L1375.97 1945.84 L1397.68 1945.99 L1419.4 1946.14 L1441.11 1946.29 L1462.83 1946.44 L1484.55 1946.58 L1506.26 1946.72 L1526.42 1946.85 L1527.98 1946.86 L1549.69 1947 L1571.41 1947.14 L1593.12 1947.28 L1614.84 1947.41 L1636.55 1947.54 L1658.27 1947.68 L1679.98 1947.81 L1701.7 1947.93 L1723.41 1948.06 L1745.13 1948.19 L1766.85 1948.31 L1788.56 1948.43 L1810.28 1948.55 L1831.99 1948.67 L1853.71 1948.78 L1875.42 1948.9 L1897.14 1949.01 L1918.85 1949.12 L1940.57 1949.22 L1962.28 1949.33 L1984 1949.43" stroke="#D95319" stroke-width="8.3" fill="none" stroke-linejoin="round" stroke-dasharray="6.1 6.28" stroke-linecap="butt" stroke-dashoffset="12.05"/><path d="M153.7 1877.92 L153.88 1875.84 L154.07 1873.69 L154.25 1871.47 L154.43 1869.19 L154.62 1866.85 L154.8 1864.44 L154.98 1861.97 L155.17 1859.45 L155.35 1856.88 L155.53 1854.3 L155.53 1854.25 L155.72 1851.52 L155.9 1848.65 L156.08 1845.67 L156.27 1842.61 L156.45 1839.5 L156.63 1836.36 L156.82 1833.23 L157 1830.13 L157.18 1827.09 L157.36 1824.23 L157.37 1824.14 L157.55 1821.08 L157.73 1817.81 L157.92 1814.43 L158.1 1811.03 L158.28 1807.74 L158.47 1804.63 L158.65 1801.83 L158.83 1799.43 L159.02 1797.55 L159.19 1796.32 L159.2 1796.27 L159.38 1795.31 L159.57 1794.42 L159.75 1793.58 L159.93 1792.84 L160.12 1792.19 L160.3 1791.66 L160.48 1791.27 L160.67 1791.02 L160.84 1790.95 L160.85 1790.95 L161.03 1791.11 L161.22 1791.55 L161.4 1792.22 L161.58 1793.09 L161.77 1794.13 L161.95 1795.3 L162.13 1796.58 L162.32 1797.92 L162.5 1799.3 L162.68 1800.67 L162.87 1802.01 L163.05 1803.29 L163.23 1804.46 L163.31 1804.9 L163.42 1805.52 L163.6 1806.55 L163.78 1807.57 L163.97 1808.59 L164.15 1809.61 L164.33 1810.64 L164.52 1811.68 L164.7 1812.73 L164.88 1813.82 L165.07 1814.93 L165.25 1816.08 L165.41 1817.15 L165.43 1817.27 L165.62 1818.43 L165.8 1819.53 L165.98 1820.63 L166.17 1821.77 L166.35 1823 L166.53 1824.38 L166.72 1825.95 L166.9 1827.77 L167.06 1829.6 L167.08 1829.9 L167.27 1833.71 L167.45 1838.39 L167.61 1841.41 L167.63 1841.7 L167.82 1843.75 L168 1845.49 L168.18 1846.98 L168.37 1848.29 L168.55 1849.49 L168.73 1850.64 L168.92 1851.82 L169.1 1853.09 L169.26 1854.3 L169.28 1854.51 L169.47 1856.04 L169.65 1857.6 L169.83 1859.19 L170.02 1860.79 L170.2 1862.38 L170.38 1863.95 L170.57 1865.49 L170.72 1866.75 L170.75 1866.98 L170.93 1868.5 L171.12 1870.08 L171.3 1871.66 L171.48 1873.22 L171.67 1874.72 L171.85 1876.12 L172.03 1877.38 L172.22 1878.47 L172.37 1879.21 L172.4 1879.34 L172.58 1880.12 L172.77 1880.88 L172.95 1881.61 L173.13 1882.32 L173.32 1883.01 L173.5 1883.67 L173.68 1884.31 L173.87 1884.92 L174.05 1885.51 L174.23 1886.07 L174.42 1886.61 L174.6 1887.12 L174.78 1887.6 L174.97 1888.05 L175.15 1888.48 L175.33 1888.88 L175.52 1889.25 L175.7 1889.59 L175.88 1889.9 L176.07 1890.18 L176.25 1890.43 L176.43 1890.65 L176.58 1890.81 L176.62 1890.84 L176.8 1891.02 L176.98 1891.2 L177.17 1891.37 L177.35 1891.54 L177.53 1891.71 L177.72 1891.88 L177.9 1892.04 L178.08 1892.2 L178.27 1892.36 L178.45 1892.51 L178.63 1892.67 L178.82 1892.82 L179 1892.96 L179.18 1893.11 L179.37 1893.25 L179.55 1893.39 L179.73 1893.52 L179.92 1893.65 L180.1 1893.78 L180.28 1893.91 L180.47 1894.03 L180.65 1894.15 L180.83 1894.27 L181.02 1894.38 L181.2 1894.49 L181.38 1894.6 L181.57 1894.7 L181.75 1894.8 L181.93 1894.9 L182.12 1895 L182.3 1895.09 L182.48 1895.17 L182.67 1895.26 L182.85 1895.34 L183.03 1895.41 L183.22 1895.49 L183.4 1895.56 L183.58 1895.62 L183.77 1895.69 L183.95 1895.75 L184.13 1895.8 L184.32 1895.85 L184.5 1895.9 L184.68 1895.94 L184.87 1895.98 L185.05 1896.02 L185.23 1896.05 L185.42 1896.08 L185.6 1896.11 L185.78 1896.13 L185.97 1896.15 L186.15 1896.16 L186.33 1896.17 L186.52 1896.17 L186.65 1896.17 L186.7 1896.17 L186.88 1896.16 L187.07 1896.15 L187.25 1896.12 L187.43 1896.08 L187.62 1896.03 L187.8 1895.97 L187.98 1895.9 L188.17 1895.82 L188.35 1895.73 L188.53 1895.64 L188.72 1895.53 L188.9 1895.42 L189.08 1895.3 L189.27 1895.17 L189.45 1895.03 L189.63 1894.89 L189.82 1894.74 L190 1894.58 L190.18 1894.42 L190.37 1894.24 L190.55 1894.07 L190.73 1893.88 L190.92 1893.7 L191.1 1893.5 L191.28 1893.3 L191.47 1893.1 L191.65 1892.89 L191.83 1892.67 L192.02 1892.45 L192.2 1892.23 L192.38 1892.01 L192.57 1891.78 L192.75 1891.54 L192.93 1891.31 L193.12 1891.07 L193.3 1890.82 L193.48 1890.58 L193.67 1890.33 L193.85 1890.08 L194.03 1889.83 L194.22 1889.58 L194.4 1889.33 L194.58 1889.07 L194.77 1888.82 L194.88 1888.66 L194.95 1888.56 L195.13 1888.29 L195.32 1888.01 L195.5 1887.71 L195.68 1887.4 L195.87 1887.07 L196.05 1886.72 L196.23 1886.36 L196.42 1885.99 L196.6 1885.6 L196.78 1885.19 L196.97 1884.76 L197.15 1884.32 L197.33 1883.87 L197.52 1883.39 L197.7 1882.9 L197.88 1882.39 L198.07 1881.86 L198.25 1881.32 L198.43 1880.76 L198.62 1880.18 L198.8 1879.58 L198.98 1878.96 L199.17 1878.32 L199.35 1877.67 L199.46 1877.28 L199.53 1876.99 L199.72 1876.22 L199.9 1875.37 L200.08 1874.44 L200.27 1873.44 L200.45 1872.36 L200.63 1871.23 L200.82 1870.05 L201 1868.81 L201.18 1867.54 L201.37 1866.24 L201.55 1864.91 L201.56 1864.82 L201.73 1863.43 L201.92 1861.71 L202.1 1859.85 L202.28 1857.93 L202.47 1856.06 L202.65 1854.33 L202.83 1852.84 L202.94 1852.15 L203.02 1851.64 L203.2 1850.49 L203.38 1849.35 L203.57 1848.23 L203.75 1847.13 L203.93 1846.06 L204.12 1845.04 L204.3 1844.07 L204.48 1843.16 L204.67 1842.32 L204.85 1841.57 L205.03 1840.9 L205.22 1840.33 L205.4 1839.87 L205.58 1839.53 L205.77 1839.32 L205.86 1839.27 L205.95 1839.23 L206.13 1839.16 L206.32 1839.1 L206.5 1839.03 L206.68 1838.97 L206.87 1838.91 L207.05 1838.85 L207.23 1838.8 L207.42 1838.74 L207.6 1838.69 L207.78 1838.64 L207.97 1838.59 L208.15 1838.55 L208.33 1838.51 L208.52 1838.47 L208.7 1838.43 L208.88 1838.39 L209.07 1838.35 L209.25 1838.32 L209.43 1838.29 L209.62 1838.26 L209.8 1838.23 L209.98 1838.2 L210.17 1838.18 L210.35 1838.15 L210.53 1838.13 L210.72 1838.11 L210.9 1838.09 L211.08 1838.08 L211.27 1838.06 L211.45 1838.05 L211.63 1838.03 L211.82 1838.02 L212 1838.01 L212.18 1838 L212.37 1838 L212.55 1837.99 L212.73 1837.98 L212.92 1837.98 L213.1 1837.98 L213.18 1837.98 L213.28 1837.98 L213.47 1837.97 L213.65 1837.97 L213.83 1837.97 L214.02 1837.97 L214.2 1837.97 L214.38 1837.97 L214.57 1837.96 L214.75 1837.96 L214.93 1837.96 L215.12 1837.96 L215.3 1837.96 L215.48 1837.96 L215.67 1837.95 L215.85 1837.95 L216.03 1837.95 L216.22 1837.95 L216.4 1837.95 L216.58 1837.95 L216.77 1837.94 L216.95 1837.94 L217.13 1837.94 L217.32 1837.94 L217.5 1837.94 L217.68 1837.94 L217.87 1837.93 L218.05 1837.93 L218.23 1837.93 L218.42 1837.93 L218.6 1837.93 L218.78 1837.93 L218.97 1837.92 L219.15 1837.92 L219.33 1837.92 L219.52 1837.92 L219.7 1837.92 L219.88 1837.92 L220.07 1837.92 L220.25 1837.91 L220.43 1837.91 L220.62 1837.91 L220.8 1837.91 L220.98 1837.91 L221.17 1837.91 L221.35 1837.91 L221.53 1837.9 L221.72 1837.9 L221.9 1837.9 L222.08 1837.9 L222.27 1837.9 L222.45 1837.9 L222.63 1837.89 L222.82 1837.89 L223 1837.89 L223.18 1837.89 L223.37 1837.89 L223.55 1837.89 L223.73 1837.89 L223.92 1837.89 L224.1 1837.88 L224.28 1837.88 L224.47 1837.88 L224.65 1837.88 L224.83 1837.88 L225.02 1837.88 L225.2 1837.88 L225.38 1837.87 L225.57 1837.87 L225.75 1837.87 L225.93 1837.87 L226.12 1837.87 L226.3 1837.87 L226.48 1837.87 L226.67 1837.86 L226.85 1837.86 L227.03 1837.86 L227.22 1837.86 L227.4 1837.86 L227.58 1837.86 L227.77 1837.86 L227.95 1837.86 L228.13 1837.85 L228.32 1837.85 L228.5 1837.85 L228.68 1837.85 L228.87 1837.85 L229.05 1837.85 L229.23 1837.85 L229.42 1837.85 L229.6 1837.84 L229.78 1837.84 L229.97 1837.84 L230.15 1837.84 L230.33 1837.84 L230.52 1837.84 L230.7 1837.84 L230.88 1837.84 L231.07 1837.84 L231.25 1837.83 L231.43 1837.83 L231.62 1837.83 L231.8 1837.83 L231.98 1837.83 L232.17 1837.83 L232.35 1837.83 L232.53 1837.83 L232.72 1837.82 L232.9 1837.82 L233.08 1837.82 L233.27 1837.82 L233.45 1837.82 L233.63 1837.82 L233.82 1837.82 L234 1837.82 L234.18 1837.82 L234.37 1837.81 L234.55 1837.81 L234.73 1837.81 L234.92 1837.81 L235.1 1837.81 L235.28 1837.81 L235.47 1837.81 L235.65 1837.81 L235.83 1837.81 L236.02 1837.81 L236.2 1837.8 L236.38 1837.8 L236.57 1837.8 L236.75 1837.8 L236.93 1837.8 L237.12 1837.8 L237.3 1837.8 L237.48 1837.8 L237.67 1837.8 L237.85 1837.8 L238.03 1837.79 L238.22 1837.79 L238.4 1837.79 L238.58 1837.79 L238.77 1837.79 L238.95 1837.79 L239.13 1837.79 L239.32 1837.79 L239.5 1837.79 L239.68 1837.79 L239.87 1837.78 L240.05 1837.78 L240.23 1837.78 L240.42 1837.78 L240.6 1837.78 L240.78 1837.78 L240.97 1837.78 L241.15 1837.78 L241.33 1837.78 L241.52 1837.78 L241.7 1837.78 L241.88 1837.77 L242.07 1837.77 L242.25 1837.77 L242.43 1837.77 L242.62 1837.77 L242.8 1837.77 L242.98 1837.77 L243.17 1837.77 L243.35 1837.77 L243.53 1837.77 L243.72 1837.77 L243.9 1837.76 L244.08 1837.76 L244.27 1837.76 L244.45 1837.76 L244.63 1837.76 L244.82 1837.76 L245 1837.76 L245.18 1837.76 L245.37 1837.76 L245.55 1837.76 L245.73 1837.76 L245.92 1837.76 L246.1 1837.75 L246.28 1837.75 L246.47 1837.75 L246.65 1837.75 L246.83 1837.75 L247.02 1837.75 L247.2 1837.75 L247.38 1837.75 L247.57 1837.75 L247.75 1837.75 L247.93 1837.75 L248.12 1837.75 L248.3 1837.75 L248.48 1837.74 L248.67 1837.74 L248.85 1837.74 L249.03 1837.74 L249.22 1837.74 L249.4 1837.74 L249.58 1837.74 L249.77 1837.74 L249.95 1837.74 L250.13 1837.74 L250.32 1837.74 L250.5 1837.74 L250.68 1837.74 L250.87 1837.74 L251.05 1837.73 L251.23 1837.73 L251.42 1837.73 L251.6 1837.73 L251.78 1837.73 L251.97 1837.73 L252.15 1837.73 L252.33 1837.73 L252.52 1837.73 L252.7 1837.73 L252.88 1837.73 L253.07 1837.73 L253.25 1837.73 L253.43 1837.73 L253.62 1837.73 L253.8 1837.72 L253.98 1837.72 L254.17 1837.72 L254.35 1837.72 L254.53 1837.72 L254.72 1837.72 L254.9 1837.72 L255.08 1837.72 L255.27 1837.72 L255.45 1837.72 L255.63 1837.72 L255.82 1837.72 L256 1837.72 L256.18 1837.72 L256.37 1837.72 L256.55 1837.72 L256.73 1837.71 L256.92 1837.71 L257.1 1837.71 L257.28 1837.71 L257.47 1837.71 L257.65 1837.71 L257.83 1837.71 L258.02 1837.71 L258.2 1837.71 L258.38 1837.71 L258.57 1837.71 L258.75 1837.71 L258.93 1837.71 L259.12 1837.71 L259.3 1837.71 L259.48 1837.71 L259.67 1837.71 L259.85 1837.71 L260.03 1837.7 L260.22 1837.7 L260.4 1837.7 L260.58 1837.7 L260.77 1837.7 L260.95 1837.7 L261.13 1837.7 L261.32 1837.7 L261.5 1837.7 L261.68 1837.7 L261.87 1837.7 L262.05 1837.7 L262.23 1837.7 L262.42 1837.7 L262.6 1837.7 L262.78 1837.7 L262.97 1837.7 L263.15 1837.7 L263.33 1837.7 L263.52 1837.69 L265.73 1837.69 L267.93 1837.68 L270.14 1837.68 L272.35 1837.67 L274.55 1837.67 L276.76 1837.67 L278.97 1837.66 L281.18 1837.66 L283.38 1837.65 L285.59 1837.65 L287.8 1837.65 L290.01 1837.64 L292.21 1837.64 L294.42 1837.64 L296.63 1837.63 L298.84 1837.63 L301.04 1837.63 L303.25 1837.62 L305.46 1837.62 L307.67 1837.62 L309.87 1837.61 L312.08 1837.61 L314.29 1837.61 L316.5 1837.6 L318.7 1837.6 L320.91 1837.59 L323.12 1837.59 L325.33 1837.58 L327.53 1837.58 L329.74 1837.57 L331.95 1837.56 L334.15 1837.56 L336.36 1837.55 L336.73 1837.55 L338.57 1837.54 L340.78 1837.53 L342.98 1837.53 L345.19 1837.52 L347.4 1837.51 L349.61 1837.5 L351.81 1837.49 L354.02 1837.49 L356.23 1837.48 L358.44 1837.47 L360.64 1837.46 L362.85 1837.45 L365.06 1837.45 L367.27 1837.44 L369.47 1837.43 L371.68 1837.42 L373.89 1837.41 L376.1 1837.41 L378.3 1837.4 L380.51 1837.39 L382.72 1837.38 L384.92 1837.37 L387.13 1837.37 L389.34 1837.36 L391.55 1837.35 L393.75 1837.34 L395.96 1837.33 L398.17 1837.33 L400.38 1837.32 L402.58 1837.31 L404.79 1837.3 L407 1837.29 L409.21 1837.28 L411.41 1837.28 L413.62 1837.27 L415.83 1837.26 L418.04 1837.25 L420.24 1837.24 L422.45 1837.23 L424.66 1837.23 L426.87 1837.22 L429.07 1837.21 L431.28 1837.2 L433.49 1837.19 L435.69 1837.18 L437.9 1837.18 L440.11 1837.17 L442.32 1837.16 L444.52 1837.15 L446.73 1837.14 L448.94 1837.13 L451.15 1837.12 L453.35 1837.12 L455.56 1837.11 L457.77 1837.1 L459.98 1837.09 L462.18 1837.08 L464.39 1837.07 L466.6 1837.06 L468.81 1837.06 L471.01 1837.05 L473.22 1837.04 L475.43 1837.03 L477.64 1837.02 L479.84 1837.01 L482.05 1837 L484.26 1837 L486.47 1836.99 L488.67 1836.98 L490.88 1836.97 L493.09 1836.96 L495.29 1836.95 L497.5 1836.94 L499.71 1836.93 L501.92 1836.93 L504.12 1836.92 L506.33 1836.91 L508.54 1836.9 L510.75 1836.89 L512.95 1836.88 L515.16 1836.87 L517.37 1836.86 L519.58 1836.86 L521.78 1836.85 L523.99 1836.84 L526.2 1836.83 L528.41 1836.82 L530.61 1836.81 L532.82 1836.8 L535.03 1836.79 L537.24 1836.79 L539.44 1836.78 L541.65 1836.77 L543.86 1836.76 L546.06 1836.75 L548.27 1836.74 L550.48 1836.73 L552.69 1836.72 L554.89 1836.71 L557.1 1836.71 L559.31 1836.7 L561.52 1836.69 L563.72 1836.68 L565.93 1836.67 L568.14 1836.66 L570.35 1836.65 L572.55 1836.64 L574.76 1836.63 L576.97 1836.63 L579.18 1836.62 L581.38 1836.61 L583.59 1836.6 L585.8 1836.59 L588.01 1836.58 L590.21 1836.57 L592.42 1836.56 L594.63 1836.56 L596.83 1836.55 L599.04 1836.54 L601.25 1836.53 L603.46 1836.52 L605.66 1836.51 L607.87 1836.5 L610.08 1836.49 L612.29 1836.48 L614.49 1836.48 L616.7 1836.47 L618.91 1836.46 L621.12 1836.45 L623.32 1836.44 L625.53 1836.43 L627.74 1836.42 L629.95 1836.41 L632.15 1836.41 L634.36 1836.4 L636.57 1836.39 L638.78 1836.38 L640.98 1836.37 L643.19 1836.36 L645.4 1836.35 L647.61 1836.34 L649.81 1836.33 L652.02 1836.33 L654.23 1836.32 L656.43 1836.31 L658.64 1836.3 L660.85 1836.29 L663.06 1836.28 L665.26 1836.27 L667.47 1836.26 L669.68 1836.26 L671.89 1836.25 L674.09 1836.24 L676.3 1836.23 L678.51 1836.22 L680.72 1836.21 L682.92 1836.2 L685.13 1836.19 L687.34 1836.19 L689.55 1836.18 L691.75 1836.17 L693.96 1836.16 L696.17 1836.15 L698.38 1836.14 L700.58 1836.13 L702.79 1836.13 L724.51 1836.04 L746.22 1835.96 L767.94 1835.88 L789.65 1835.8 L811.37 1835.72 L833.08 1835.64 L854.8 1835.57 L876.51 1835.49 L898.23 1835.42 L919.94 1835.36 L941.66 1835.29 L963.38 1835.23 L985.09 1835.17 L1006.81 1835.11 L1028.52 1835.06 L1050.24 1835.01 L1068.85 1834.97 L1071.95 1834.96 L1093.67 1834.92 L1115.38 1834.88 L1137.1 1834.83 L1158.81 1834.79 L1180.53 1834.74 L1202.24 1834.7 L1223.96 1834.66 L1245.68 1834.62 L1267.39 1834.57 L1289.11 1834.53 L1310.82 1834.49 L1332.54 1834.45 L1354.25 1834.41 L1375.97 1834.37 L1397.68 1834.33 L1419.4 1834.29 L1441.11 1834.26 L1462.83 1834.22 L1484.55 1834.19 L1506.26 1834.15 L1527.98 1834.12 L1549.69 1834.08 L1571.41 1834.05 L1593.12 1834.02 L1614.84 1833.99 L1636.55 1833.96 L1658.27 1833.93 L1679.98 1833.91 L1701.7 1833.88 L1723.41 1833.86 L1745.13 1833.84 L1766.85 1833.81 L1788.56 1833.79 L1810.28 1833.78 L1831.99 1833.76 L1853.71 1833.74 L1875.42 1833.73 L1897.14 1833.72 L1918.85 1833.7 L1940.57 1833.7 L1962.28 1833.69 L1984 1833.68" stroke="#EDB120" stroke-width="8.3" fill="none" stroke-linejoin="round" stroke-dasharray="6.1 6.28" stroke-linecap="butt" stroke-dashoffset="11.51"/>
<path d="M153.7 2318.3 L153.7 2751 L1984 2751" stroke="#000" stroke-width="4.5" fill="none" stroke-linecap="square" stroke-linejoin="miter"/><path d="M336.73 2751 V2730.5 M519.76 2751 V2730.5 M702.79 2751 V2730.5 M885.82 2751 V2730.5 M1068.85 2751 V2730.5 M1251.88 2751 V2730.5 M1434.91 2751 V2730.5 M1617.94 2751 V2730.5 M1800.97 2751 V2730.5 M1984 2751 V2730.5 M153.7 2751 H174.2 M153.7 2642.82 H174.2 M153.7 2534.65 H174.2 M153.7 2426.48 H174.2 M153.7 2318.3 H174.2" stroke="#000" stroke-width="3.6" fill="none"/><g font-size="64" fill="#000"><text x="153.7" y="2820" text-anchor="middle">0</text><text x="336.73" y="2820" text-anchor="middle">2</text><text x="519.76" y="2820" text-anchor="middle">4</text><text x="702.79" y="2820" text-anchor="middle">6</text><text x="885.82" y="2820" text-anchor="middle">8</text><text x="1068.85" y="2820" text-anchor="middle">10</text><text x="1251.88" y="2820" text-anchor="middle">12</text><text x="1434.91" y="2820" text-anchor="middle">14</text><text x="1617.94" y="2820" text-anchor="middle">16</text><text x="1800.97" y="2820" text-anchor="middle">18</text><text x="1984" y="2820" text-anchor="middle">20</text><text x="131" y="2772" text-anchor="end">0</text><text x="131" y="2663.82" text-anchor="end">20</text><text x="131" y="2555.65" text-anchor="end">40</text><text x="131" y="2447.48" text-anchor="end">60</text><text x="131" y="2339.3" text-anchor="end">80</text><text x="1067.4" y="2889.6" text-anchor="middle">Time (s)</text><text x="1069.7" y="2951.5" text-anchor="middle" textLength="1073" lengthAdjust="spacingAndGlyphs">(d) Cumulative cost of actor-critic learning</text></g>
<path d="M153.7 2751 L153.88 2750.46 L154.07 2749.92 L154.25 2749.38 L154.43 2748.84 L154.62 2748.31 L154.62 2748.3 L154.8 2747.76 L154.98 2747.22 L155.17 2746.68 L155.35 2746.14 L155.53 2745.61 L155.53 2745.6 L155.72 2745.06 L155.9 2744.52 L156.08 2743.97 L156.27 2743.43 L156.45 2742.9 L156.45 2742.89 L156.63 2742.35 L156.82 2741.8 L157 2741.26 L157.18 2740.72 L157.36 2740.19 L157.37 2740.17 L157.55 2739.63 L157.73 2739.08 L157.92 2738.54 L158.1 2737.99 L158.28 2737.47 L158.28 2737.45 L158.47 2736.9 L158.65 2736.35 L158.83 2735.81 L159.02 2735.26 L159.19 2734.74 L159.2 2734.71 L159.38 2734.16 L159.57 2733.61 L159.75 2733.07 L159.93 2732.52 L160.11 2732 L160.12 2731.96 L160.3 2731.41 L160.48 2730.86 L160.67 2730.31 L160.85 2729.76 L161.02 2729.24 L161.03 2729.21 L161.22 2728.65 L161.4 2728.1 L161.58 2727.54 L161.77 2726.99 L161.94 2726.47 L161.95 2726.43 L162.13 2725.88 L162.32 2725.32 L162.5 2724.76 L162.68 2724.2 L162.85 2723.69 L162.87 2723.64 L163.05 2723.08 L163.23 2722.52 L163.42 2721.96 L163.6 2721.39 L163.77 2720.88 L163.78 2720.83 L163.97 2720.26 L164.15 2719.7 L164.33 2719.13 L164.52 2718.56 L164.68 2718.05 L164.7 2717.99 L164.88 2717.42 L165.07 2716.85 L165.25 2716.28 L165.43 2715.71 L165.6 2715.19 L165.62 2715.13 L165.8 2714.56 L165.98 2713.98 L166.17 2713.4 L166.35 2712.82 L166.51 2712.31 L166.53 2712.24 L166.72 2711.66 L166.9 2711.08 L167.08 2710.5 L167.27 2709.91 L167.43 2709.4 L167.45 2709.32 L167.63 2708.74 L167.82 2708.15 L168 2707.56 L168.18 2706.96 L168.34 2706.45 L168.37 2706.37 L168.55 2705.78 L168.73 2705.18 L168.92 2704.58 L169.1 2703.99 L169.26 2703.47 L169.28 2703.39 L169.47 2702.78 L169.65 2702.18 L169.83 2701.58 L170.02 2700.97 L170.17 2700.46 L170.2 2700.36 L170.38 2699.76 L170.57 2699.15 L170.75 2698.53 L170.93 2697.92 L171.09 2697.4 L171.12 2697.31 L171.3 2696.69 L171.48 2696.07 L171.67 2695.45 L171.85 2694.83 L172 2694.31 L172.03 2694.21 L172.22 2693.58 L172.4 2692.96 L172.58 2692.33 L172.77 2691.7 L172.92 2691.18 L172.95 2691.07 L173.13 2690.43 L173.32 2689.8 L173.5 2689.16 L173.68 2688.52 L173.83 2687.99 L173.87 2687.87 L174.05 2687.23 L174.23 2686.58 L174.42 2685.93 L174.6 2685.28 L174.75 2684.75 L174.78 2684.63 L174.97 2683.97 L175.15 2683.31 L175.33 2682.65 L175.52 2681.98 L175.66 2681.45 L175.7 2681.32 L175.88 2680.65 L176.07 2679.98 L176.25 2679.3 L176.43 2678.62 L176.58 2678.09 L176.62 2677.94 L176.8 2677.26 L176.98 2676.58 L177.17 2675.89 L177.35 2675.2 L177.49 2674.65 L177.53 2674.5 L177.72 2673.8 L177.9 2673.1 L178.08 2672.4 L178.27 2671.69 L178.41 2671.14 L178.45 2670.98 L178.63 2670.27 L178.82 2669.56 L179 2668.84 L179.18 2668.12 L179.32 2667.56 L179.37 2667.39 L179.55 2666.66 L179.73 2665.93 L179.92 2665.2 L180.1 2664.46 L180.24 2663.9 L180.28 2663.72 L180.47 2662.97 L180.65 2662.22 L180.83 2661.46 L181.02 2660.7 L181.15 2660.13 L181.2 2659.93 L181.38 2659.16 L181.57 2658.38 L181.75 2657.6 L181.93 2656.81 L182.07 2656.22 L182.12 2656.01 L182.3 2655.21 L182.48 2654.4 L182.67 2653.59 L182.85 2652.77 L182.98 2652.16 L183.03 2651.94 L183.22 2651.11 L183.4 2650.27 L183.58 2649.43 L183.77 2648.58 L183.9 2647.96 L183.95 2647.72 L184.13 2646.86 L184.32 2646 L184.5 2645.13 L184.68 2644.25 L184.82 2643.62 L184.87 2643.37 L185.05 2642.49 L185.23 2641.6 L185.42 2640.72 L185.6 2639.82 L185.73 2639.19 L185.78 2638.93 L185.97 2638.04 L186.15 2637.14 L186.33 2636.25 L186.52 2635.35 L186.65 2634.72 L186.7 2634.45 L186.88 2633.56 L187.07 2632.66 L187.25 2631.77 L187.43 2630.87 L187.56 2630.25 L187.62 2629.98 L187.8 2629.08 L187.98 2628.19 L188.17 2627.3 L188.35 2626.4 L188.48 2625.79 L188.53 2625.51 L188.72 2624.62 L188.9 2623.73 L189.08 2622.84 L189.27 2621.95 L189.39 2621.35 L189.45 2621.06 L189.63 2620.17 L189.82 2619.28 L190 2618.39 L190.18 2617.51 L190.31 2616.92 L190.37 2616.62 L190.55 2615.74 L190.73 2614.86 L190.92 2613.97 L191.1 2613.09 L191.22 2612.51 L191.28 2612.21 L191.47 2611.33 L191.65 2610.46 L191.83 2609.58 L192.02 2608.7 L192.14 2608.14 L192.2 2607.83 L192.38 2606.96 L192.57 2606.08 L192.75 2605.21 L192.93 2604.35 L193.05 2603.79 L193.12 2603.49 L193.3 2602.63 L193.48 2601.77 L193.67 2600.92 L193.85 2600.07 L193.97 2599.53 L194.03 2599.22 L194.22 2598.38 L194.4 2597.55 L194.58 2596.72 L194.77 2595.9 L194.88 2595.39 L194.95 2595.08 L195.13 2594.27 L195.32 2593.46 L195.5 2592.66 L195.68 2591.87 L195.8 2591.38 L195.87 2591.08 L196.05 2590.3 L196.23 2589.52 L196.42 2588.75 L196.6 2587.99 L196.71 2587.53 L196.78 2587.23 L196.97 2586.48 L197.15 2585.74 L197.33 2585 L197.52 2584.27 L197.63 2583.83 L197.7 2583.54 L197.88 2582.82 L198.07 2582.1 L198.25 2581.39 L198.43 2580.68 L198.54 2580.26 L198.62 2579.98 L198.8 2579.28 L198.98 2578.59 L199.17 2577.9 L199.35 2577.22 L199.46 2576.82 L199.53 2576.54 L199.72 2575.86 L199.9 2575.19 L200.08 2574.53 L200.27 2573.86 L200.37 2573.49 L200.45 2573.21 L200.63 2572.56 L200.82 2571.91 L201 2571.27 L201.18 2570.63 L201.29 2570.27 L201.37 2570 L201.55 2569.37 L201.73 2568.74 L201.92 2568.12 L202.1 2567.51 L202.2 2567.16 L202.28 2566.9 L202.47 2566.29 L202.65 2565.69 L202.83 2565.09 L203.02 2564.49 L203.12 2564.17 L203.2 2563.9 L203.38 2563.32 L203.57 2562.74 L203.75 2562.16 L203.93 2561.59 L204.03 2561.28 L204.12 2561.02 L204.3 2560.45 L204.48 2559.89 L204.67 2559.34 L204.85 2558.78 L204.95 2558.49 L205.03 2558.23 L205.22 2557.69 L205.4 2557.14 L205.58 2556.6 L205.77 2556.07 L205.86 2555.79 L205.95 2555.53 L206.13 2555 L206.32 2554.48 L206.5 2553.95 L206.68 2553.43 L206.78 2553.16 L206.87 2552.91 L207.05 2552.4 L207.23 2551.89 L207.42 2551.38 L207.6 2550.87 L207.69 2550.61 L207.78 2550.36 L207.97 2549.86 L208.15 2549.36 L208.33 2548.86 L208.52 2548.37 L208.61 2548.12 L208.7 2547.88 L208.88 2547.39 L209.07 2546.9 L209.25 2546.42 L209.43 2545.93 L209.52 2545.7 L209.62 2545.45 L209.8 2544.98 L209.98 2544.5 L210.17 2544.03 L210.35 2543.56 L210.44 2543.33 L210.53 2543.09 L210.72 2542.62 L210.9 2542.16 L211.08 2541.69 L211.27 2541.23 L211.35 2541.02 L211.45 2540.78 L211.63 2540.32 L211.82 2539.87 L212 2539.42 L212.18 2538.97 L212.27 2538.76 L212.37 2538.52 L212.55 2538.07 L212.73 2537.63 L212.92 2537.19 L213.1 2536.75 L213.18 2536.55 L213.28 2536.31 L213.47 2535.87 L213.65 2535.44 L213.83 2535.01 L214.02 2534.58 L214.1 2534.38 L214.2 2534.15 L214.38 2533.72 L214.57 2533.3 L214.75 2532.87 L214.93 2532.45 L215.02 2532.26 L215.12 2532.03 L215.3 2531.61 L215.48 2531.19 L215.67 2530.78 L215.85 2530.36 L215.93 2530.18 L216.03 2529.95 L216.22 2529.54 L216.4 2529.13 L216.58 2528.72 L216.77 2528.31 L216.85 2528.14 L216.95 2527.91 L217.13 2527.5 L217.32 2527.1 L217.5 2526.7 L217.68 2526.3 L217.76 2526.13 L217.87 2525.9 L218.05 2525.5 L218.23 2525.1 L218.42 2524.71 L218.6 2524.31 L218.68 2524.15 L218.78 2523.92 L218.97 2523.53 L219.15 2523.14 L219.33 2522.75 L219.52 2522.36 L219.59 2522.2 L219.7 2521.97 L219.88 2521.58 L220.07 2521.2 L220.25 2520.81 L220.43 2520.43 L220.51 2520.28 L220.62 2520.05 L220.8 2519.66 L220.98 2519.28 L221.17 2518.9 L221.35 2518.52 L221.42 2518.38 L221.53 2518.15 L221.72 2517.77 L221.9 2517.39 L222.08 2517.02 L222.27 2516.64 L222.34 2516.5 L222.45 2516.27 L222.63 2515.9 L222.82 2515.52 L223 2515.15 L223.18 2514.78 L223.25 2514.65 L223.37 2514.41 L223.55 2514.05 L223.73 2513.68 L223.92 2513.31 L224.1 2512.95 L224.17 2512.81 L224.28 2512.58 L224.47 2512.22 L224.65 2511.85 L224.83 2511.49 L225.02 2511.13 L225.08 2511 L225.2 2510.77 L225.38 2510.41 L225.57 2510.05 L225.75 2509.69 L225.93 2509.33 L226 2509.21 L226.12 2508.97 L226.3 2508.62 L226.48 2508.26 L226.67 2507.9 L226.85 2507.55 L226.91 2507.43 L227.03 2507.2 L227.22 2506.84 L227.4 2506.49 L227.58 2506.14 L227.77 2505.79 L227.83 2505.67 L227.95 2505.44 L228.13 2505.09 L228.32 2504.74 L228.5 2504.39 L228.68 2504.05 L228.74 2503.94 L228.87 2503.7 L229.05 2503.35 L229.23 2503.01 L229.42 2502.67 L229.6 2502.32 L229.66 2502.22 L229.78 2501.98 L229.97 2501.64 L230.15 2501.3 L230.33 2500.96 L230.52 2500.62 L230.57 2500.52 L230.7 2500.28 L230.88 2499.94 L231.07 2499.61 L231.25 2499.27 L231.43 2498.93 L231.49 2498.84 L231.62 2498.6 L231.8 2498.27 L231.98 2497.93 L232.17 2497.6 L232.35 2497.27 L232.4 2497.18 L232.53 2496.94 L232.72 2496.61 L232.9 2496.28 L233.08 2495.95 L233.27 2495.63 L233.32 2495.54 L233.45 2495.3 L233.63 2494.97 L233.82 2494.65 L234 2494.33 L234.18 2494 L234.23 2493.92 L234.37 2493.68 L234.55 2493.36 L234.73 2493.04 L234.92 2492.72 L235.1 2492.4 L235.15 2492.32 L235.28 2492.08 L235.47 2491.77 L235.65 2491.45 L235.83 2491.13 L236.02 2490.82 L236.06 2490.74 L236.2 2490.5 L236.38 2490.19 L236.57 2489.88 L236.75 2489.57 L236.93 2489.26 L236.98 2489.18 L237.12 2488.95 L237.3 2488.64 L237.48 2488.33 L237.67 2488.02 L237.85 2487.71 L237.89 2487.64 L238.03 2487.41 L238.22 2487.1 L238.4 2486.8 L238.58 2486.49 L238.77 2486.19 L238.81 2486.12 L238.95 2485.89 L239.13 2485.59 L239.32 2485.29 L239.5 2484.99 L239.68 2484.69 L239.72 2484.62 L239.87 2484.39 L240.05 2484.09 L240.23 2483.79 L240.42 2483.5 L240.6 2483.2 L240.64 2483.14 L240.78 2482.91 L240.97 2482.62 L241.15 2482.32 L241.33 2482.03 L241.52 2481.74 L241.55 2481.68 L241.7 2481.45 L241.88 2481.16 L242.07 2480.87 L242.25 2480.58 L242.43 2480.3 L242.47 2480.24 L242.62 2480.01 L242.8 2479.72 L242.98 2479.44 L243.17 2479.15 L243.35 2478.87 L243.38 2478.82 L243.53 2478.59 L243.72 2478.31 L243.9 2478.03 L244.08 2477.75 L244.27 2477.47 L244.3 2477.42 L244.45 2477.19 L244.63 2476.91 L244.82 2476.63 L245 2476.36 L245.18 2476.08 L245.21 2476.03 L245.37 2475.8 L245.55 2475.53 L245.73 2475.26 L245.92 2474.98 L246.1 2474.71 L246.13 2474.67 L246.28 2474.44 L246.47 2474.17 L246.65 2473.9 L246.83 2473.63 L247.02 2473.37 L247.05 2473.33 L247.2 2473.1 L247.38 2472.83 L247.57 2472.57 L247.75 2472.3 L247.93 2472.04 L247.96 2472 L248.12 2471.77 L248.3 2471.51 L248.48 2471.25 L248.67 2470.99 L248.85 2470.73 L248.88 2470.69 L249.03 2470.47 L249.22 2470.21 L249.4 2469.95 L249.58 2469.7 L249.77 2469.44 L249.79 2469.41 L249.95 2469.18 L250.13 2468.93 L250.32 2468.67 L250.5 2468.42 L250.68 2468.17 L250.71 2468.14 L250.87 2467.92 L251.05 2467.67 L251.23 2467.42 L251.42 2467.17 L251.6 2466.92 L251.62 2466.89 L251.78 2466.67 L251.97 2466.42 L252.15 2466.18 L252.33 2465.93 L252.52 2465.68 L252.54 2465.66 L252.7 2465.44 L252.88 2465.2 L253.07 2464.95 L253.25 2464.71 L253.43 2464.47 L253.45 2464.45 L253.62 2464.23 L253.8 2463.99 L253.98 2463.75 L254.17 2463.52 L254.35 2463.28 L254.37 2463.26 L254.53 2463.04 L254.72 2462.81 L254.9 2462.57 L255.08 2462.34 L255.27 2462.11 L255.28 2462.09 L255.45 2461.87 L255.63 2461.64 L255.82 2461.41 L256 2461.18 L256.18 2460.95 L256.2 2460.94 L256.37 2460.72 L256.55 2460.5 L256.73 2460.27 L256.92 2460.05 L257.1 2459.82 L257.11 2459.81 L257.28 2459.6 L257.47 2459.37 L257.65 2459.15 L257.83 2458.93 L258.02 2458.71 L258.03 2458.7 L258.2 2458.49 L258.38 2458.27 L258.57 2458.05 L258.75 2457.83 L258.93 2457.62 L258.94 2457.61 L259.12 2457.4 L259.3 2457.18 L259.48 2456.97 L259.67 2456.76 L259.85 2456.54 L259.86 2456.54 L260.03 2456.33 L260.22 2456.12 L260.4 2455.91 L260.58 2455.7 L260.77 2455.49 L260.77 2455.49 L260.95 2455.28 L261.13 2455.08 L261.32 2454.87 L261.5 2454.67 L261.68 2454.46 L261.69 2454.46 L261.87 2454.26 L262.05 2454.05 L262.23 2453.85 L262.42 2453.65 L262.6 2453.45 L262.6 2453.45 L262.78 2453.25 L262.97 2453.05 L263.15 2452.85 L263.33 2452.65 L263.52 2452.46 L264.43 2451.49 L265.35 2450.54 L265.73 2450.15 L266.26 2449.61 L267.18 2448.7 L267.93 2447.96 L268.09 2447.8 L269.01 2446.93 L269.92 2446.07 L270.14 2445.87 L270.84 2445.23 L271.75 2444.41 L272.35 2443.88 L272.67 2443.6 L273.58 2442.81 L274.5 2442.03 L274.55 2441.99 L275.41 2441.27 L276.33 2440.52 L276.76 2440.17 L277.25 2439.79 L278.16 2439.07 L278.97 2438.44 L279.08 2438.36 L279.99 2437.67 L280.91 2436.98 L281.18 2436.78 L281.82 2436.31 L282.74 2435.66 L283.38 2435.2 L283.65 2435.01 L284.57 2434.38 L285.48 2433.76 L285.59 2433.68 L286.4 2433.15 L287.31 2432.55 L287.8 2432.23 L288.23 2431.96 L289.14 2431.38 L290.01 2430.84 L290.06 2430.81 L290.97 2430.25 L291.89 2429.71 L292.21 2429.51 L292.8 2429.17 L293.72 2428.64 L294.42 2428.24 L294.63 2428.12 L295.55 2427.62 L296.46 2427.12 L296.63 2427.03 L297.38 2426.63 L298.29 2426.15 L298.84 2425.87 L299.21 2425.68 L300.12 2425.21 L301.04 2424.76 L301.04 2424.76 L301.95 2424.32 L302.87 2423.88 L303.25 2423.7 L303.78 2423.45 L304.7 2423.03 L305.46 2422.69 L305.61 2422.62 L306.53 2422.22 L307.45 2421.82 L307.67 2421.73 L308.36 2421.44 L309.28 2421.06 L309.87 2420.82 L310.19 2420.69 L311.11 2420.33 L312.02 2419.97 L312.08 2419.95 L312.94 2419.62 L313.85 2419.28 L314.29 2419.12 L314.77 2418.95 L315.68 2418.62 L316.5 2418.34 L316.6 2418.3 L317.51 2417.99 L318.43 2417.68 L318.7 2417.59 L319.34 2417.38 L320.26 2417.09 L320.91 2416.88 L321.17 2416.8 L322.09 2416.51 L323 2416.24 L323.12 2416.2 L323.92 2415.97 L324.83 2415.7 L325.33 2415.56 L325.75 2415.44 L326.66 2415.18 L327.53 2414.94 L327.58 2414.93 L328.49 2414.68 L329.41 2414.44 L329.74 2414.35 L330.32 2414.2 L331.24 2413.96 L331.95 2413.79 L332.15 2413.73 L333.07 2413.51 L333.98 2413.29 L334.15 2413.25 L334.9 2413.07 L335.81 2412.86 L336.36 2412.73 L336.73 2412.65 L337.65 2412.44 L338.56 2412.24 L338.57 2412.24 L339.48 2412.05 L340.39 2411.85 L340.78 2411.77 L341.31 2411.66 L342.22 2411.48 L342.98 2411.32 L343.14 2411.29 L344.05 2411.11 L344.97 2410.94 L345.19 2410.89 L345.88 2410.76 L346.8 2410.59 L347.4 2410.48 L347.71 2410.43 L348.63 2410.26 L349.54 2410.1 L349.61 2410.09 L350.46 2409.94 L351.37 2409.79 L351.81 2409.72 L352.29 2409.64 L353.2 2409.49 L354.02 2409.36 L354.12 2409.34 L355.03 2409.2 L355.95 2409.05 L356.23 2409.01 L356.86 2408.92 L357.78 2408.78 L358.44 2408.68 L358.69 2408.65 L359.61 2408.51 L360.52 2408.39 L360.64 2408.37 L361.44 2408.26 L362.35 2408.14 L362.85 2408.07 L363.27 2408.01 L364.18 2407.9 L365.06 2407.78 L365.1 2407.78 L366.01 2407.66 L366.93 2407.55 L367.27 2407.51 L367.85 2407.44 L368.76 2407.33 L369.47 2407.25 L369.68 2407.23 L370.59 2407.12 L371.51 2407.02 L371.68 2407 L372.42 2406.92 L373.34 2406.82 L373.89 2406.77 L374.25 2406.73 L375.17 2406.63 L376.08 2406.54 L376.1 2406.54 L377 2406.45 L377.91 2406.36 L378.3 2406.32 L378.83 2406.27 L379.74 2406.19 L380.51 2406.12 L380.66 2406.1 L381.57 2406.02 L382.49 2405.94 L382.72 2405.92 L383.4 2405.86 L384.32 2405.78 L384.92 2405.73 L385.23 2405.7 L386.15 2405.63 L387.06 2405.55 L387.13 2405.55 L387.98 2405.48 L388.89 2405.41 L389.34 2405.37 L389.81 2405.33 L390.72 2405.26 L391.55 2405.2 L391.64 2405.2 L392.55 2405.13 L393.47 2405.06 L393.75 2405.04 L394.38 2405 L395.3 2404.94 L395.96 2404.89 L396.21 2404.87 L397.13 2404.81 L398.05 2404.75 L398.17 2404.74 L398.96 2404.69 L399.88 2404.64 L400.38 2404.6 L400.79 2404.58 L401.71 2404.52 L402.58 2404.47 L402.62 2404.47 L403.54 2404.42 L404.45 2404.36 L404.79 2404.34 L405.37 2404.31 L406.28 2404.26 L407 2404.22 L407.2 2404.21 L408.11 2404.16 L409.03 2404.12 L409.21 2404.11 L409.94 2404.07 L410.86 2404.02 L411.41 2404 L411.77 2403.98 L412.69 2403.94 L413.6 2403.89 L413.62 2403.89 L414.52 2403.85 L415.43 2403.81 L415.83 2403.79 L416.35 2403.77 L417.26 2403.73 L418.04 2403.7 L418.18 2403.69 L419.09 2403.65 L420.01 2403.61 L420.24 2403.61 L420.92 2403.58 L421.84 2403.54 L422.45 2403.52 L422.75 2403.51 L423.67 2403.47 L424.58 2403.44 L424.66 2403.43 L425.5 2403.4 L426.41 2403.37 L426.87 2403.35 L427.33 2403.34 L428.24 2403.3 L429.07 2403.28 L431.28 2403.21 L433.49 2403.14 L435.69 2403.08 L437.9 2403.01 L440.11 2402.94 L442.32 2402.88 L444.52 2402.82 L446.73 2402.76 L448.94 2402.7 L451.15 2402.64 L453.35 2402.58 L455.56 2402.53 L457.77 2402.48 L459.98 2402.43 L462.18 2402.38 L464.39 2402.33 L466.6 2402.29 L468.81 2402.25 L471.01 2402.21 L473.22 2402.18 L474 2402.16 L475.43 2402.14 L477.64 2402.11 L479.84 2402.08 L482.05 2402.05 L484.26 2402.02 L486.47 2402 L488.67 2401.97 L490.88 2401.94 L493.09 2401.92 L495.29 2401.89 L497.5 2401.87 L499.71 2401.85 L501.92 2401.83 L504.12 2401.81 L506.33 2401.79 L508.54 2401.77 L510.75 2401.75 L512.95 2401.73 L515.16 2401.71 L517.37 2401.7 L519.58 2401.68 L519.76 2401.68 L521.78 2401.66 L523.99 2401.65 L526.2 2401.63 L528.41 2401.62 L530.61 2401.6 L532.82 2401.59 L535.03 2401.58 L537.24 2401.56 L539.44 2401.55 L541.65 2401.54 L543.86 2401.52 L546.06 2401.51 L548.27 2401.5 L550.48 2401.49 L552.69 2401.48 L554.89 2401.47 L557.1 2401.46 L559.31 2401.45 L561.52 2401.44 L563.72 2401.43 L565.52 2401.42 L565.93 2401.42 L568.14 2401.41 L570.35 2401.4 L572.55 2401.39 L574.76 2401.39 L576.97 2401.38 L579.18 2401.37 L581.38 2401.36 L583.59 2401.35 L585.8 2401.35 L588.01 2401.34 L590.21 2401.33 L592.42 2401.32 L594.63 2401.32 L596.83 2401.31 L599.04 2401.31 L601.25 2401.3 L603.46 2401.29 L605.66 2401.29 L607.87 2401.28 L610.08 2401.28 L611.27 2401.28 L612.29 2401.27 L614.49 2401.27 L616.7 2401.26 L618.91 2401.26 L621.12 2401.26 L623.32 2401.25 L625.53 2401.25 L627.74 2401.24 L629.95 2401.24 L632.15 2401.24 L634.36 2401.23 L636.57 2401.23 L638.78 2401.23 L640.98 2401.22 L643.19 2401.22 L645.4 2401.22 L647.61 2401.21 L649.81 2401.21 L652.02 2401.21 L654.23 2401.21 L656.43 2401.2 L657.03 2401.2 L658.64 2401.2 L660.85 2401.2 L663.06 2401.2 L665.26 2401.2 L667.47 2401.19 L669.68 2401.19 L671.89 2401.19 L674.09 2401.19 L676.3 2401.19 L678.51 2401.19 L680.72 2401.18 L682.92 2401.18 L685.13 2401.18 L687.34 2401.18 L689.55 2401.18 L691.75 2401.18 L693.96 2401.17 L696.17 2401.17 L698.38 2401.17 L700.58 2401.17 L702.79 2401.17 L724.51 2401.16 L746.22 2401.14 L748.55 2401.14 L767.94 2401.13 L789.65 2401.12 L794.31 2401.12 L811.37 2401.11 L833.08 2401.1 L840.06 2401.1 L854.8 2401.09 L876.51 2401.08 L885.82 2401.08 L898.23 2401.07 L919.94 2401.07 L931.58 2401.06 L941.66 2401.06 L963.38 2401.05 L977.34 2401.05 L985.09 2401.04 L1006.81 2401.04 L1023.09 2401.03 L1028.52 2401.03 L1050.24 2401.03 L1068.85 2401.02 L1071.95 2401.02 L1093.67 2401.02 L1114.61 2401.01 L1115.38 2401.01 L1137.1 2401.01 L1158.81 2401 L1160.37 2401 L1180.53 2401 L1202.24 2400.99 L1206.12 2400.99 L1223.96 2400.99 L1245.68 2400.99 L1251.88 2400.99 L1267.39 2400.98 L1289.11 2400.98 L1297.64 2400.98 L1310.82 2400.98 L1332.54 2400.98 L1343.39 2400.98 L1354.25 2400.97 L1375.97 2400.97 L1389.15 2400.97 L1397.68 2400.97 L1419.4 2400.97 L1434.91 2400.97 L1441.11 2400.97 L1462.83 2400.97 L1480.67 2400.96 L1484.55 2400.96 L1506.26 2400.96 L1526.42 2400.96 L1527.98 2400.96 L1549.69 2400.96 L1571.41 2400.96 L1572.18 2400.96 L1593.12 2400.96 L1614.84 2400.96 L1617.94 2400.96 L1636.55 2400.96 L1658.27 2400.96 L1663.7 2400.96 L1679.98 2400.96 L1701.7 2400.96 L1709.45 2400.96 L1723.41 2400.96 L1745.13 2400.96 L1755.21 2400.96 L1766.85 2400.96 L1788.56 2400.96 L1800.97 2400.96 L1810.28 2400.96 L1831.99 2400.96 L1846.73 2400.96 L1853.71 2400.96 L1875.42 2400.96 L1892.48 2400.96 L1897.14 2400.96 L1918.85 2400.96 L1938.24 2400.96 L1940.57 2400.96 L1962.28 2400.96 L1984 2400.96" stroke="#0072BD" stroke-width="8.3" fill="none" stroke-linejoin="round" stroke-linecap="butt"/>
<rect x="1689" y="179.8" width="274.8" height="216.7" fill="#fff" stroke="#000" stroke-width="4"/>
<path d="M1702.9 227.8 L1825.8 227.8" stroke="#000" stroke-width="8.3" fill="none" stroke-linejoin="round" stroke-linecap="butt"/>
<path d="M1702.9 291.7 L1825.8 291.7" stroke="#D95319" stroke-width="8.3" fill="none" stroke-linejoin="round" stroke-dasharray="6.1 6.28" stroke-linecap="butt"/>
<path d="M1702.9 355.6 L1825.8 355.6" stroke="#0072BD" stroke-width="8.3" fill="none" stroke-linejoin="round" stroke-dasharray="24.8 24.8" stroke-linecap="butt"/>
<text x="1841" y="237.5" font-size="64" font-style="italic">u</text><text x="1873.2" y="237.7" font-size="64">(</text><text x="1895.8" y="237.5" font-size="64" font-style="italic">t</text><text x="1911.7" y="237.7" font-size="64">)</text>
<text x="1844" y="300.2" font-size="64" font-style="italic">x</text><text x="1871.5" y="312.8" font-size="36">1</text><text x="1889.3" y="300.2" font-size="64">(</text><text x="1910.6" y="300.2" font-size="64" font-style="italic">t</text><text x="1928.7" y="300.2" font-size="64">)</text>
<text x="1844" y="370.2" font-size="64" font-style="italic">x</text><text x="1871.5" y="383" font-size="36">2</text><text x="1889.3" y="370.2" font-size="64">(</text><text x="1910.6" y="370.2" font-size="64" font-style="italic">t</text><text x="1928.7" y="370.2" font-size="64">)</text>
<rect x="1625.3" y="705.5" width="323.3" height="463.8" fill="#fff" stroke="#000" stroke-width="4.4"/><path d="M1638 747.9 L1761 747.9" stroke="#000" stroke-width="8.3" fill="none" stroke-linejoin="round" stroke-linecap="butt"/><path d="M1638 821 L1761 821" stroke="#000" stroke-width="8.3" fill="none" stroke-linejoin="round" stroke-linecap="butt"/><path d="M1638 894.2 L1761 894.2" stroke="#000" stroke-width="8.3" fill="none" stroke-linejoin="round" stroke-linecap="butt"/><path d="M1638 967.4 L1756 967.4" stroke="#0072BD" stroke-width="8.3" fill="none" stroke-linejoin="round" stroke-dasharray="6.1 6.28" stroke-linecap="butt"/><path d="M1638 1040.6 L1756 1040.6" stroke="#D95319" stroke-width="8.3" fill="none" stroke-linejoin="round" stroke-dasharray="6.1 6.28" stroke-linecap="butt"/><path d="M1638 1113.9 L1756 1113.9" stroke="#EDB120" stroke-width="8.3" fill="none" stroke-linejoin="round" stroke-dasharray="6.1 6.28" stroke-linecap="butt"/><text x="1775.8" y="764" font-size="64" font-style="italic">W</text><text x="1834.2" y="742.2" font-size="37">*</text><text x="1835.8" y="775.8" font-size="36">1</text><text x="1775.8" y="839.8" font-size="64" font-style="italic">W</text><text x="1834.2" y="818" font-size="37">*</text><text x="1835.8" y="851.6" font-size="36">2</text><text x="1775.8" y="915" font-size="64" font-style="italic">W</text><text x="1834.2" y="893.2" font-size="37">*</text><text x="1835.8" y="926.8" font-size="36">3</text><text x="1775.8" y="988.8" font-size="64" font-style="italic">W</text><polygon points="1799,940.8 1805.6,931 1808.2,931 1814.8,940.8 1812.4,940.8 1806.9,935.2 1801.4,940.8" fill="#000"/><text x="1824.5" y="1000.5" font-size="36" font-style="italic">c</text><text x="1841.5" y="1000.5" font-size="36">,</text><text x="1859" y="1000.5" font-size="36">1</text><text x="1876.6" y="987.8" font-size="64">(</text><text x="1898.3" y="987.8" font-size="64" font-style="italic">t</text><text x="1915.3" y="987.8" font-size="64">)</text><text x="1775.8" y="1063.7" font-size="64" font-style="italic">W</text><polygon points="1799,1015.7 1805.6,1005.9 1808.2,1005.9 1814.8,1015.7 1812.4,1015.7 1806.9,1010.1 1801.4,1015.7" fill="#000"/><text x="1824.5" y="1075.4" font-size="36" font-style="italic">c</text><text x="1841.5" y="1075.4" font-size="36">,</text><text x="1859" y="1075.4" font-size="36">2</text><text x="1876.6" y="1062.7" font-size="64">(</text><text x="1898.3" y="1062.7" font-size="64" font-style="italic">t</text><text x="1915.3" y="1062.7" font-size="64">)</text><text x="1775.8" y="1139.2" font-size="64" font-style="italic">W</text><polygon points="1799,1091.2 1805.6,1081.4 1808.2,1081.4 1814.8,1091.2 1812.4,1091.2 1806.9,1085.6 1801.4,1091.2" fill="#000"/><text x="1824.5" y="1150.9" font-size="36" font-style="italic">c</text><text x="1841.5" y="1150.9" font-size="36">,</text><text x="1859" y="1150.9" font-size="36">3</text><text x="1876.6" y="1138.2" font-size="64">(</text><text x="1898.3" y="1138.2" font-size="64" font-style="italic">t</text><text x="1915.3" y="1138.2" font-size="64">)</text>
<rect x="1634.4" y="1468.5" width="325.2" height="461" fill="#fff" stroke="#000" stroke-width="4.4"/><path d="M1646.4 1504.4 L1768.1 1504.4" stroke="#000" stroke-width="8.3" fill="none" stroke-linejoin="round" stroke-linecap="butt"/><path d="M1646.4 1579.3 L1768.1 1579.3" stroke="#000" stroke-width="8.3" fill="none" stroke-linejoin="round" stroke-linecap="butt"/><path d="M1646.4 1653.8 L1768.1 1653.8" stroke="#000" stroke-width="8.3" fill="none" stroke-linejoin="round" stroke-linecap="butt"/><path d="M1646.4 1728 L1763.1 1728" stroke="#0072BD" stroke-width="8.3" fill="none" stroke-linejoin="round" stroke-dasharray="6.1 6.28" stroke-linecap="butt"/><path d="M1646.4 1803.1 L1763.1 1803.1" stroke="#D95319" stroke-width="8.3" fill="none" stroke-linejoin="round" stroke-dasharray="6.1 6.28" stroke-linecap="butt"/><path d="M1646.4 1877.6 L1763.1 1877.6" stroke="#EDB120" stroke-width="8.3" fill="none" stroke-linejoin="round" stroke-dasharray="6.1 6.28" stroke-linecap="butt"/><text x="1784.8" y="1529.9" font-size="64" font-style="italic">W</text><text x="1842.2" y="1508.1" font-size="37">*</text><text x="1843.7" y="1541.7" font-size="36">1</text><text x="1784.8" y="1605.5" font-size="64" font-style="italic">W</text><text x="1842.2" y="1583.7" font-size="37">*</text><text x="1843.7" y="1617.3" font-size="36">2</text><text x="1784.8" y="1681.3" font-size="64" font-style="italic">W</text><text x="1842.2" y="1659.5" font-size="37">*</text><text x="1843.7" y="1693.1" font-size="36">3</text><text x="1784.8" y="1754.3" font-size="64" font-style="italic">W</text><polygon points="1808,1706.3 1814.6,1696.5 1817.2,1696.5 1823.8,1706.3 1821.4,1706.3 1815.9,1700.7 1810.4,1706.3" fill="#000"/><text x="1833.5" y="1766" font-size="36" font-style="italic">a</text><text x="1850.5" y="1766" font-size="36">,</text><text x="1868" y="1766" font-size="36">1</text><text x="1885.6" y="1753.3" font-size="64">(</text><text x="1907.3" y="1753.3" font-size="64" font-style="italic">t</text><text x="1924.3" y="1753.3" font-size="64">)</text><text x="1784.8" y="1829.7" font-size="64" font-style="italic">W</text><polygon points="1808,1781.7 1814.6,1771.9 1817.2,1771.9 1823.8,1781.7 1821.4,1781.7 1815.9,1776.1 1810.4,1781.7" fill="#000"/><text x="1833.5" y="1841.4" font-size="36" font-style="italic">a</text><text x="1850.5" y="1841.4" font-size="36">,</text><text x="1868" y="1841.4" font-size="36">2</text><text x="1885.6" y="1828.7" font-size="64">(</text><text x="1907.3" y="1828.7" font-size="64" font-style="italic">t</text><text x="1924.3" y="1828.7" font-size="64">)</text><text x="1784.8" y="1904.9" font-size="64" font-style="italic">W</text><polygon points="1808,1856.9 1814.6,1847.1 1817.2,1847.1 1823.8,1856.9 1821.4,1856.9 1815.9,1851.3 1810.4,1856.9" fill="#000"/><text x="1833.5" y="1916.6" font-size="36" font-style="italic">a</text><text x="1850.5" y="1916.6" font-size="36">,</text><text x="1868" y="1916.6" font-size="36">3</text><text x="1885.6" y="1903.9" font-size="64">(</text><text x="1907.3" y="1903.9" font-size="64" font-style="italic">t</text><text x="1924.3" y="1903.9" font-size="64">)</text>
<rect x="1742" y="2627" width="238.6" height="76.7" fill="#fff" stroke="#000" stroke-width="3.9"/>
<path d="M1754 2665.2 L1876.1 2665.2" stroke="#0072BD" stroke-width="8.3" fill="none" stroke-linejoin="round" stroke-linecap="butt"/>
<text x="1880.7" y="2681.2" font-size="64" font-style="italic">J</text><text x="1909.5" y="2681.2" font-size="64">(</text><text x="1931.5" y="2681.2" font-size="64" font-style="italic">t</text><text x="1950.2" y="2681.2" font-size="64">)</text>
<rect x="1748.3" y="2404.6" width="232.5" height="147.2" rx="7" ry="7" fill="#f9f9fd" stroke="#a8a8a8" stroke-width="1.1"/>
<text x="1773.6" y="2468.8" font-size="50" font-style="italic">X</text><text x="1815.9" y="2468.8" font-size="50">20</text>
<text x="1771.2" y="2520.7" font-size="50" font-style="italic">Y</text><text x="1808.9" y="2520.7" font-size="50" textLength="159" lengthAdjust="spacingAndGlyphs">64.7181</text>
<circle cx="1984" cy="2401" r="11.5" fill="#fffce0"/>
<circle cx="1984" cy="2401" r="7.9" fill="#262629"/>
</svg></body></html>
